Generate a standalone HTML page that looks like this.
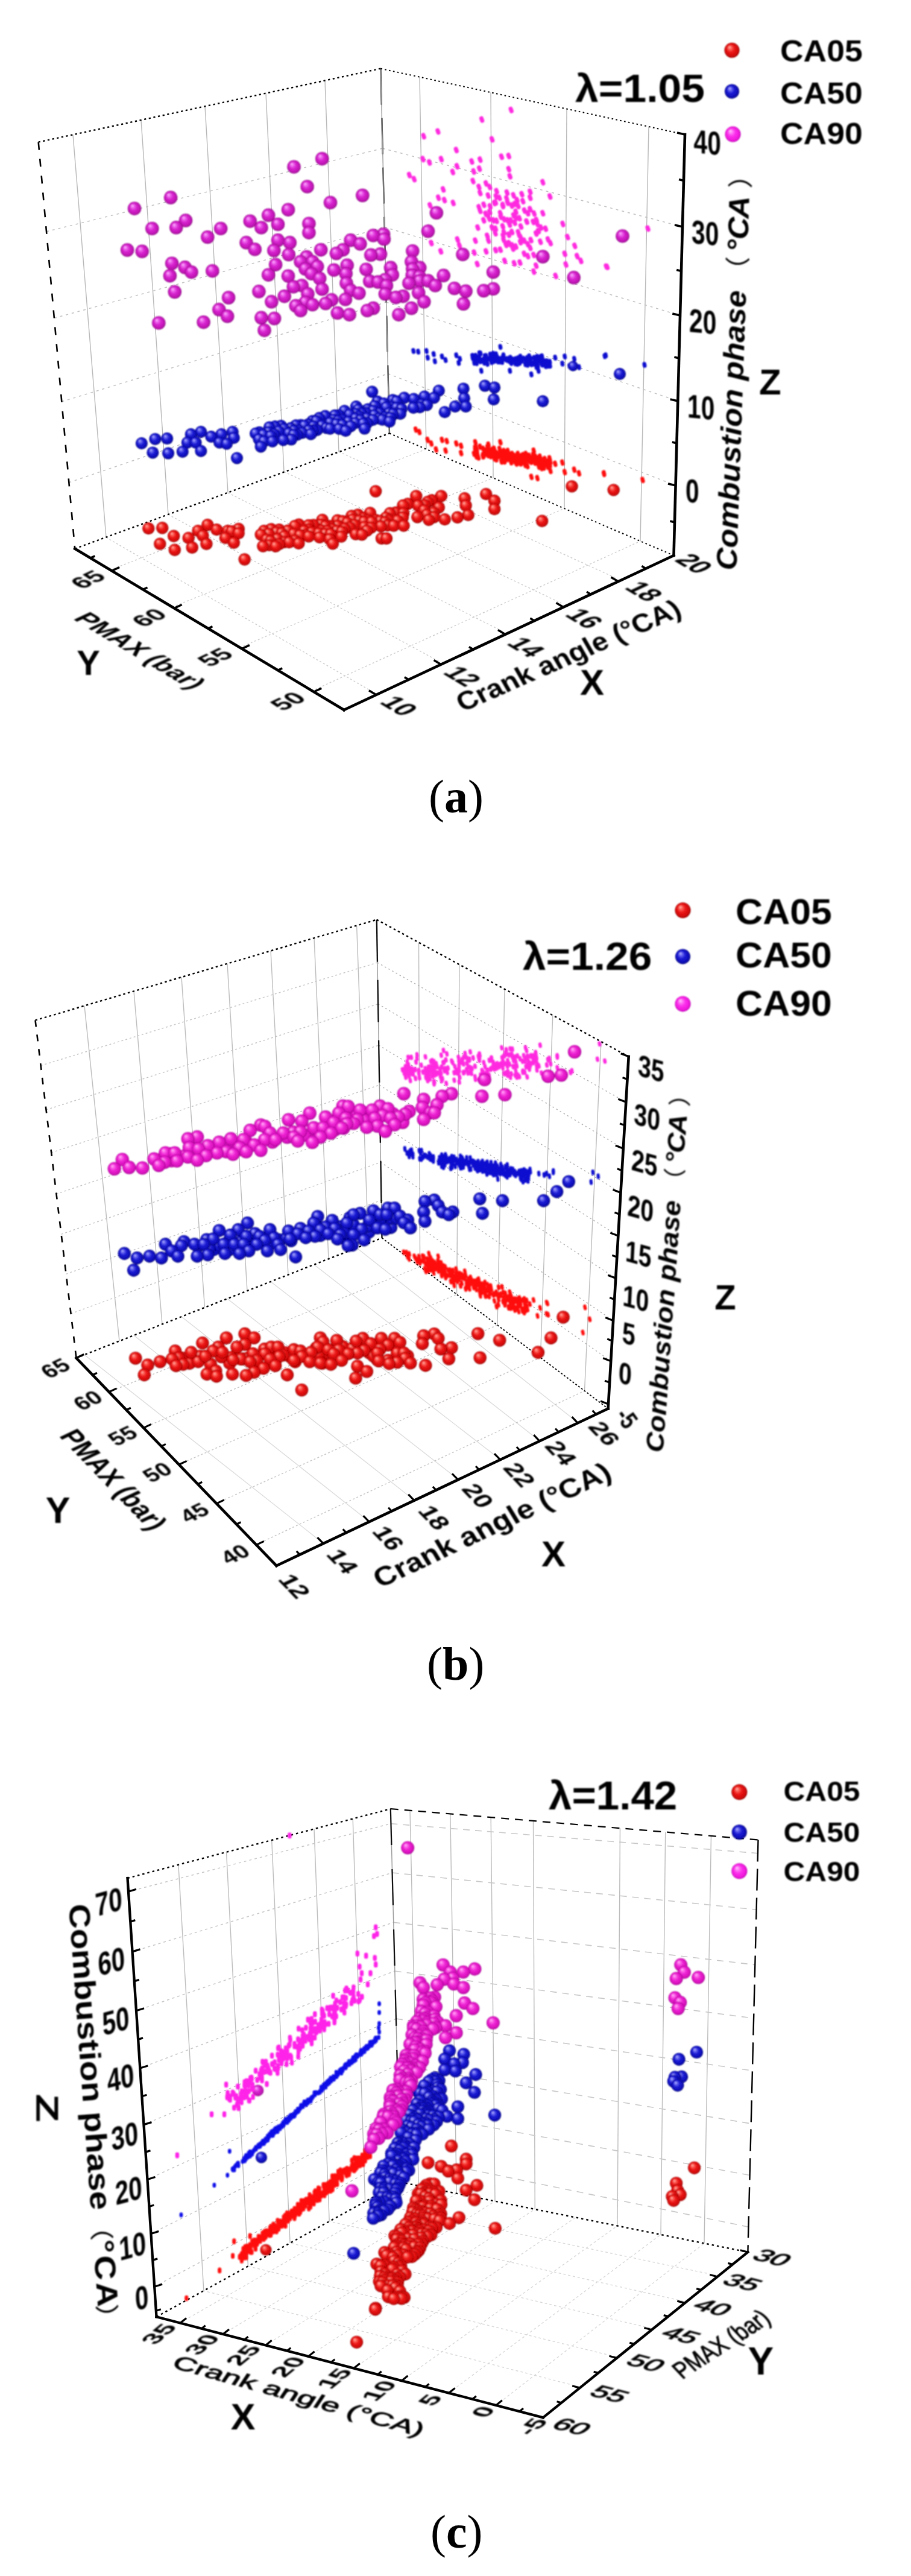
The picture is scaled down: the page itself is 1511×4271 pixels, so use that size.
<!DOCTYPE html>
<html><head><meta charset="utf-8"><title>Figure</title><style>html,body{margin:0;padding:0;background:#fff}svg{display:block}</style></head><body><svg width="1511" height="4271" viewBox="0 0 1511 4271"><defs>
<radialGradient id="gr" cx="0.5" cy="0.5" r="0.5" fx="0.33" fy="0.28"><stop offset="0" stop-color="#ffc4bc"/><stop offset="0.2" stop-color="#ff6a60"/><stop offset="0.5" stop-color="#ec1818"/><stop offset="0.85" stop-color="#d20808"/><stop offset="1" stop-color="#900000"/></radialGradient>
<radialGradient id="gb" cx="0.5" cy="0.5" r="0.5" fx="0.33" fy="0.28"><stop offset="0" stop-color="#c4c4ff"/><stop offset="0.2" stop-color="#6e6ef4"/><stop offset="0.5" stop-color="#1c1cd4"/><stop offset="0.85" stop-color="#0c0cb8"/><stop offset="1" stop-color="#000070"/></radialGradient>
<radialGradient id="gm" cx="0.5" cy="0.5" r="0.5" fx="0.33" fy="0.28"><stop offset="0" stop-color="#ffc4ff"/><stop offset="0.2" stop-color="#f070f0"/><stop offset="0.5" stop-color="#d824d0"/><stop offset="0.85" stop-color="#c014b4"/><stop offset="1" stop-color="#880880"/></radialGradient>
<radialGradient id="gm3" cx="0.5" cy="0.5" r="0.5" fx="0.33" fy="0.28"><stop offset="0" stop-color="#ffc4fc"/><stop offset="0.2" stop-color="#ff70ec"/><stop offset="0.5" stop-color="#ee24d4"/><stop offset="0.85" stop-color="#d810bc"/><stop offset="1" stop-color="#a00090"/></radialGradient>
<radialGradient id="gm2" cx="0.5" cy="0.5" r="0.5" fx="0.33" fy="0.28"><stop offset="0" stop-color="#ffd4ff"/><stop offset="0.2" stop-color="#ff84f8"/><stop offset="0.5" stop-color="#fc30ec"/><stop offset="0.85" stop-color="#f018dc"/><stop offset="1" stop-color="#b800b0"/></radialGradient>
<filter id="bl" x="-2%" y="-2%" width="104%" height="104%"><feGaussianBlur stdDeviation="1.0"/></filter>
<filter id="bl2" x="-2%" y="-2%" width="104%" height="104%"><feGaussianBlur stdDeviation="0.55"/></filter>
</defs><g id="pa"><g filter="url(#bl2)"><g stroke="#b8b8b8" stroke-width="1.4"><line x1="121" y1="223.3" x2="176" y2="890.7" /><line x1="234" y1="199" x2="279" y2="853" /><line x1="340" y1="176.3" x2="378" y2="816.7" /><line x1="441" y1="154.6" x2="471" y2="782.6" /><line x1="539" y1="133.6" x2="562" y2="749.3" /><line x1="696" y1="127.7" x2="707" y2="744.7" /><line x1="814" y1="153.3" x2="818" y2="792.4" /><line x1="940" y1="180.5" x2="936" y2="843.1" /><line x1="1076" y1="210" x2="1062" y2="897.2" /></g><g stroke="#c2c2c2" stroke-width="1.5" stroke-dasharray="4 6"><line x1="77" y1="384" x2="634.6" y2="246" /><line x1="634.6" y1="246" x2="1132" y2="376" /><line x1="89.9" y1="527.5" x2="637.7" y2="376.6" /><line x1="637.7" y1="376.6" x2="1128.3" y2="523" /><line x1="102.3" y1="666" x2="640.7" y2="501" /><line x1="640.7" y1="501" x2="1124.6" y2="665" /><line x1="114.3" y1="800" x2="643.6" y2="619.6" /><line x1="643.6" y1="619.6" x2="1121" y2="805" /></g><g stroke="#cccccc" stroke-width="1.4" stroke-dasharray="3 3.5"><line x1="176" y1="891" x2="623" y2="1150" /><line x1="279" y1="853" x2="729" y2="1097" /><line x1="378" y1="817" x2="836" y2="1048" /><line x1="471" y1="782" x2="931" y2="1000" /><line x1="562" y1="749" x2="1023" y2="959" /><line x1="187.5" y1="943" x2="707" y2="744.7" /><line x1="292" y1="1004" x2="818" y2="792.4" /><line x1="404" y1="1071" x2="936" y2="843.1" /><line x1="523" y1="1143" x2="1062" y2="897.2" /></g><line x1="631.4" y1="113.7" x2="646" y2="718.5" stroke="#111" stroke-width="2.3" stroke-dasharray="60 22"/><line x1="631.4" y1="113.7" x2="646" y2="718.5" stroke="#999" stroke-width="1.4"/><g stroke="#000" stroke-width="2.4" stroke-dasharray="3.2 4.6"><line x1="63.7" y1="235.6" x2="631.4" y2="113.7" /><line x1="124.2" y1="909.7" x2="646" y2="718.5" /></g><g stroke="#000" stroke-width="2" stroke-dasharray="2.6 4.4"><line x1="631.4" y1="113.7" x2="1136" y2="223" /><line x1="646" y1="718.5" x2="1117.5" y2="921" /></g><line x1="63.7" y1="235.6" x2="124.2" y2="909.7" stroke="#000" stroke-width="2.6" stroke-dasharray="13 15"/><g stroke="#000" stroke-width="4.6" stroke-linecap="square"><line x1="124.2" y1="909.7" x2="570.6" y2="1177" /><line x1="570.6" y1="1177" x2="1117.5" y2="921" /><line x1="1136" y1="223" x2="1117.5" y2="921" /></g><g stroke="#000" stroke-width="3.5"><line x1="185.5" y1="946.4" x2="198.2" y2="940.5" /><line x1="289.1" y1="1008.4" x2="301.7" y2="1002.5" /><line x1="401.2" y1="1075.6" x2="413.9" y2="1069.7" /><line x1="520.6" y1="1147" x2="533.3" y2="1141.1" /><line x1="237.3" y1="977.4" x2="244.5" y2="974" /><line x1="345.2" y1="1042" x2="352.4" y2="1038.6" /><line x1="460.9" y1="1111.3" x2="468.2" y2="1107.9" /><line x1="150.2" y1="925.2" x2="157.4" y2="921.8" /><line x1="623.9" y1="1152" x2="611.9" y2="1144.8" /><line x1="731.6" y1="1101.7" x2="719.6" y2="1094.5" /><line x1="838" y1="1051.8" x2="826" y2="1044.6" /><line x1="934.5" y1="1006.7" x2="922.5" y2="999.5" /><line x1="1025.4" y1="964.1" x2="1013.4" y2="956.9" /><line x1="677.8" y1="1126.8" x2="670.9" y2="1122.7" /><line x1="784.8" y1="1076.7" x2="777.9" y2="1072.6" /><line x1="886.2" y1="1029.2" x2="879.4" y2="1025.1" /><line x1="980" y1="985.4" x2="973.1" y2="981.3" /><line x1="1071.2" y1="942.7" x2="1064.4" y2="938.5" /><line x1="1136" y1="223" x2="1123" y2="220" /><line x1="1132" y1="376" x2="1119" y2="373" /><line x1="1128.3" y1="523" x2="1115.3" y2="520" /><line x1="1124.6" y1="665" x2="1111.6" y2="662" /><line x1="1121" y1="805" x2="1108" y2="802" /><line x1="1134" y1="299.5" x2="1126" y2="297.5" /><line x1="1130.2" y1="449.5" x2="1122.2" y2="447.5" /><line x1="1126.4" y1="594" x2="1118.4" y2="592" /><line x1="1122.8" y1="735" x2="1114.8" y2="733" /><line x1="1119.3" y1="866" x2="1111.3" y2="864" /></g></g><g filter="url(#bl)"><path d="M847 180.4l1.4 3.9M798.4 196.2l1.4 3.9M725.7 216l1.4 3.9M702 223.9l1.4 3.9M815.4 229.1l1.4 3.9M756.1 246.8l1.4 3.9M831.2 257.9l1.4 3.9M843.1 256.7l1.4 3.9M700.8 261.9l1.4 3.9M711.5 267.4l1.4 3.9M731.2 261.9l1.4 3.9M781.8 265.8l1.4 3.9M795.6 262.7l1.4 3.9M757.3 273.7l1.4 3.9M750.2 283.2l1.4 3.9M785 282.4l1.4 3.9M794.5 277.7l1.4 3.9M843.1 278.5l1.4 3.9M845.1 290.3l1.4 3.9M678.3 288.3l1.4 3.9M686.2 295.1l1.4 3.9M783.8 298.2l1.4 3.9M793.7 308.1l1.4 3.9M795.6 318l1.4 3.9M805.5 302.2l1.4 3.9M811.5 308.1l1.4 3.9M899.6 300.2l1.4 3.9M734.4 312.1l1.4 3.9M726.5 325.9l1.4 3.9M736.4 329.8l1.4 3.9M751 334.6l1.4 3.9M712.6 338.5l1.4 3.9M822.1 323.9l1.4 3.9M821.3 333.8l1.4 3.9M911.5 323.9l1.4 3.9M851 321.9l1.4 3.9M864.8 320l1.4 3.9M878.6 316l1.4 3.9M878.6 325.9l1.4 3.9M856.9 329.8l1.4 3.9M841.1 333.8l1.4 3.9M833.2 339.7l1.4 3.9M793.7 341.7l1.4 3.9M795.6 347.6l1.4 3.9M811.5 349.6l1.4 3.9M829.2 351.6l1.4 3.9M809.5 357.5l1.4 3.9M801.6 363.4l1.4 3.9M791.7 375.3l1.4 3.9M817.4 363.4l1.4 3.9M815.4 375.3l1.4 3.9M821.3 377.3l1.4 3.9M841.1 363.4l1.4 3.9M854.9 359.5l1.4 3.9M853 367.4l1.4 3.9M833.2 373.3l1.4 3.9M835.2 383.2l1.4 3.9M843.1 387.2l1.4 3.9M872.7 365.4l1.4 3.9M878.6 344.9l1.4 3.9M874.7 351.6l1.4 3.9M899.6 351.6l1.4 3.9M890.5 369.4l1.4 3.9M896.4 375.3l1.4 3.9M904.3 377.3l1.4 3.9M888.5 385.2l1.4 3.9M858.9 383.2l1.4 3.9M862.8 391.1l1.4 3.9M868.8 397l1.4 3.9M874.7 403l1.4 3.9M878.6 408.9l1.4 3.9M843.1 401l1.4 3.9M849 404.9l1.4 3.9M854.9 406.9l1.4 3.9M807.5 389.1l1.4 3.9M809.5 397l1.4 3.9M787.7 397l1.4 3.9M758.1 395.1l1.4 3.9M761.3 404.9l1.4 3.9M714.6 401l1.4 3.9M730.4 414.8l1.4 3.9M785.8 416.8l1.4 3.9M805.5 414.8l1.4 3.9M821.3 412.8l1.4 3.9M829.2 412.1l1.4 3.9M868.8 418.8l1.4 3.9M874.7 422.7l1.4 3.9M884.6 420.8l1.4 3.9M888.5 438.5l1.4 3.9M884.6 448.4l1.4 3.9M908.3 395.1l1.4 3.9M912.2 401l1.4 3.9M932.8 369.4l1.4 3.9M940.7 391.1l1.4 3.9M952.6 405.7l1.4 3.9M936 418.8l1.4 3.9M956.5 422.7l1.4 3.9M962.8 430.6l1.4 3.9M937.9 436.6l1.4 3.9M920.9 455.5l1.4 3.9M1006.3 440.5l1.4 3.9M836.4 430.6l1.4 3.9M852.2 434.6l1.4 3.9M861.7 433.4l1.4 3.9M790.9 435.8l1.4 3.9M1073.9 377l1.4 3.9M1004.9 440l1.4 3.9M860.3 387.9l1.4 3.9M854.9 349.2l1.4 3.9M895.6 398.9l1.4 3.9M869.2 347.2l1.4 3.9M873.1 365.5l1.4 3.9M841.6 334.3l1.4 3.9M809 322.4l1.4 3.9M834.8 396l1.4 3.9M860.8 359.9l1.4 3.9M879.9 396.1l1.4 3.9M833.5 337.9l1.4 3.9M823 315l1.4 3.9M810.9 360.7l1.4 3.9M885.2 352l1.4 3.9M858.7 339.5l1.4 3.9M822.8 364.2l1.4 3.9M804.9 352.7l1.4 3.9M844.5 370.4l1.4 3.9M863.3 373.6l1.4 3.9M829.9 357.6l1.4 3.9M838.6 404l1.4 3.9M812.1 340.2l1.4 3.9M883.7 366l1.4 3.9M889.1 362.9l1.4 3.9M839.6 327l1.4 3.9M892.3 381.1l1.4 3.9M853.7 336l1.4 3.9M844.6 402.5l1.4 3.9M866.6 331.6l1.4 3.9M827.6 326l1.4 3.9M846.5 363.6l1.4 3.9M850 410.2l1.4 3.9M848 338.9l1.4 3.9M835.3 361.5l1.4 3.9M833.7 389l1.4 3.9M801.8 337.5l1.4 3.9M820.8 384.7l1.4 3.9M848.4 382.7l1.4 3.9M840.2 317.4l1.4 3.9M862.4 399.6l1.4 3.9M819.2 334.7l1.4 3.9M851.2 355.3l1.4 3.9" stroke="#ff2ce0" stroke-width="7" stroke-linecap="round" fill="none"/><path d="M803.6 596.3l0.6 3.5M844.7 595.1l0.6 3.5M887.6 597.3l0.6 3.5M813.3 587.3l0.6 3.5M858.6 594.4l0.6 3.5M812.9 586.2l0.6 3.5M912 604.5l0.6 3.5M862.9 589.6l0.6 3.5M847.1 595.8l0.6 3.5M830.3 594.1l0.6 3.5M798.3 596.6l0.6 3.5M854.3 593.8l0.6 3.5M806.6 592.2l0.6 3.5M812.9 593.4l0.6 3.5M908.3 604.6l0.6 3.5M881.6 599.9l0.6 3.5M798 595.8l0.6 3.5M808.1 601.4l0.6 3.5M835.7 592.8l0.6 3.5M832.4 598.3l0.6 3.5M785.8 590.3l0.6 3.5M911.7 598.2l0.6 3.5M854 595.2l0.6 3.5M861.6 597.7l0.6 3.5M806 588.4l0.6 3.5M903.2 597.3l0.6 3.5M822.6 585.7l0.6 3.5M888.3 598.7l0.6 3.5M871.1 602.1l0.6 3.5M907 602l0.6 3.5M907.4 602.8l0.6 3.5M846.4 591.4l0.6 3.5M896.9 589.9l0.6 3.5M887.1 599.7l0.6 3.5M891.7 590.4l0.6 3.5M820.2 589.8l0.6 3.5M791.2 594.8l0.6 3.5M910.4 600.5l0.6 3.5M814.9 598.5l0.6 3.5M877.6 589l0.6 3.5M891.2 604.1l0.6 3.5M860.7 595.9l0.6 3.5M893.1 595.8l0.6 3.5M818.3 591.6l0.6 3.5M871.6 596.1l0.6 3.5M859.4 600.7l0.6 3.5M858.6 592.3l0.6 3.5M907.2 598.5l0.6 3.5M795 583.8l0.6 3.5M840.5 594.9l0.6 3.5M867.9 592.8l0.6 3.5M824.7 591.2l0.6 3.5M804.1 588.7l0.6 3.5M875 592.5l0.6 3.5M874.6 603l0.6 3.5M885.6 591.7l0.6 3.5M790.5 591.8l0.6 3.5M875 596l0.6 3.5M823.4 588.3l0.6 3.5M822.5 595.9l0.6 3.5M847.6 600.2l0.6 3.5M795 593.7l0.6 3.5M877.9 599.4l0.6 3.5M873.4 597.3l0.6 3.5M790.1 600.3l0.6 3.5M828.4 597.4l0.6 3.5M796.7 584.2l0.6 3.5M888.3 599.2l0.6 3.5M863.4 592.6l0.6 3.5M840 593.9l0.6 3.5M834.9 587.3l0.6 3.5M838.8 594.3l0.6 3.5M888.7 599l0.6 3.5M813.1 592.2l0.6 3.5M864.6 596.5l0.6 3.5M844.7 597.1l0.6 3.5M898.2 601.7l0.6 3.5M880.9 602.1l0.6 3.5M873.4 595.7l0.6 3.5M901.8 597.8l0.6 3.5M889.3 606.8l0.6 3.5M783.2 588.3l0.6 3.5M833.4 591.5l0.6 3.5M792.5 595l0.6 3.5M879.3 592.4l0.6 3.5M907 597.2l0.6 3.5M825.8 597.4l0.6 3.5M816.1 596.4l0.6 3.5M815.4 593.6l0.6 3.5M871.2 594.3l0.6 3.5M818.2 597l0.6 3.5M843.1 595.5l0.6 3.5M819 589.4l0.6 3.5M817.7 595.2l0.6 3.5M786.3 599.7l0.6 3.5M874.4 591.7l0.6 3.5M787.2 595.3l0.6 3.5M813.8 589.1l0.6 3.5M794.7 590.3l0.6 3.5M899.1 592.7l0.6 3.5M885.3 600.5l0.6 3.5M788.8 588.2l0.6 3.5M854.2 595.8l0.6 3.5M891.8 605.4l0.6 3.5M784.7 588.8l0.6 3.5M899.3 602.8l0.6 3.5M806.8 592l0.6 3.5M861.3 596.8l0.6 3.5M886.8 593.2l0.6 3.5M828.3 593.5l0.6 3.5M898.7 589l0.6 3.5M849 593.9l0.6 3.5M817.9 584.7l0.6 3.5M846.6 598.5l0.6 3.5M802.8 593.4l0.6 3.5M852.4 596.4l0.6 3.5M877.3 592.7l0.6 3.5M890.5 589.8l0.6 3.5M828.1 595.9l0.6 3.5M804.8 595.2l0.6 3.5M803 599.6l0.6 3.5M900.5 596.7l0.6 3.5M883.4 601.3l0.6 3.5M900.5 601.4l0.6 3.5M904.7 605.3l0.6 3.5M783.7 591.7l0.6 3.5M861.2 599.9l0.6 3.5M803.1 597.7l0.6 3.5M897.1 599.6l0.6 3.5M854.3 600.7l0.6 3.5M897.6 592.1l0.6 3.5M835.3 591.8l0.6 3.5M888.8 592.1l0.6 3.5M785.7 592.2l0.6 3.5M785.7 591l0.6 3.5M796 597.2l0.6 3.5M899.1 594.1l0.6 3.5M813.5 594.2l0.6 3.5M882.6 600.9l0.6 3.5M815.3 591.7l0.6 3.5M846.2 593.2l0.6 3.5M842.1 593.5l0.6 3.5M858.4 601.1l0.6 3.5M877.4 600.3l0.6 3.5M833.7 591.2l0.6 3.5M857.8 601.4l0.6 3.5M807.9 592.9l0.6 3.5M888.4 592.5l0.6 3.5M830.4 597.6l0.6 3.5M842.4 595.1l0.6 3.5M685.4 580.2l0.6 3.5M693.3 581.3l0.6 3.5M707.1 580.2l0.6 3.5M709.1 591.2l0.6 3.5M719 585.3l0.6 3.5M721 597.2l0.6 3.5M732.8 589.3l0.6 3.5M738.7 595.2l0.6 3.5M756.5 587.3l0.6 3.5M762.5 593.2l0.6 3.5M760.5 599.9l0.6 3.5M920.6 591.2l0.6 3.5M936.4 589.3l0.6 3.5M932.4 601.1l0.6 3.5M952.2 593.2l0.6 3.5M944.3 605.1l0.6 3.5M960.1 607l0.6 3.5M1004.4 587.3l0.6 3.5M798 613l0.6 3.5M845.5 613l0.6 3.5M881 618.9l0.6 3.5M892.9 613l0.6 3.5M829.6 573.4l0.6 3.5M1068.7 603.2l0.6 3.5M1002.7 588.7l0.6 3.5" stroke="#1010d0" stroke-width="6.4" stroke-linecap="round" fill="none"/><path d="M835.3 745.7l1.1 4.3M901 767l1.1 4.3M855.6 757.8l1.1 4.3M858 762.1l1.1 4.3M892.8 757.5l1.1 4.3M805.1 746.8l1.1 4.3M869.3 754.7l1.1 4.3M885.3 760l1.1 4.3M892.4 761.6l1.1 4.3M878.9 757.7l1.1 4.3M800.4 754.7l1.1 4.3M911.1 757.7l1.1 4.3M864.7 755.3l1.1 4.3M897.9 765l1.1 4.3M804.2 748.9l1.1 4.3M870 757.3l1.1 4.3M789.4 740.7l1.1 4.3M877.7 762l1.1 4.3M853.2 762.5l1.1 4.3M828.2 742.2l1.1 4.3M789.5 754.6l1.1 4.3M881.4 757.7l1.1 4.3M801 754.1l1.1 4.3M880.7 760.8l1.1 4.3M892.8 764.9l1.1 4.3M840.4 758.9l1.1 4.3M837 758.4l1.1 4.3M821 749.5l1.1 4.3M820.5 753.4l1.1 4.3M902.4 767.2l1.1 4.3M881 759.8l1.1 4.3M808.2 739.1l1.1 4.3M871.6 750.5l1.1 4.3M858.6 750.6l1.1 4.3M815.2 747.3l1.1 4.3M911.5 769.2l1.1 4.3M854.9 761.9l1.1 4.3M899.2 761.6l1.1 4.3M859.4 764l1.1 4.3M851.1 753.5l1.1 4.3M878.2 758.3l1.1 4.3M850.5 754.9l1.1 4.3M870.5 768.8l1.1 4.3M824.8 751.4l1.1 4.3M862 765.9l1.1 4.3M821.5 749.5l1.1 4.3M886.9 760.6l1.1 4.3M849.5 753.3l1.1 4.3M809.9 743.4l1.1 4.3M847.1 764.3l1.1 4.3M791.7 752.6l1.1 4.3M875.9 757.1l1.1 4.3M810.4 750.5l1.1 4.3M832.2 753l1.1 4.3M813.2 754.2l1.1 4.3M804.3 750.3l1.1 4.3M789.2 746.7l1.1 4.3M788 751.4l1.1 4.3M835.3 749.6l1.1 4.3M859.7 759.2l1.1 4.3M857.9 755.6l1.1 4.3M808.3 751.6l1.1 4.3M886.9 765l1.1 4.3M877.2 753.7l1.1 4.3M792.8 756.3l1.1 4.3M870.4 760.3l1.1 4.3M887.5 754.9l1.1 4.3M830.2 752.7l1.1 4.3M806.2 747.5l1.1 4.3M825.4 754.1l1.1 4.3M891.6 763.4l1.1 4.3M908 771.8l1.1 4.3M897.6 773.9l1.1 4.3M819.5 758.1l1.1 4.3M829.5 752.9l1.1 4.3M844.9 759.7l1.1 4.3M847.2 754.2l1.1 4.3M853.3 755.5l1.1 4.3M900.1 764.3l1.1 4.3M881.8 757.2l1.1 4.3M870.9 753.2l1.1 4.3M895.1 755l1.1 4.3M892.3 766l1.1 4.3M836.6 756.9l1.1 4.3M787.7 743.9l1.1 4.3M902.7 768.4l1.1 4.3M843.4 750.6l1.1 4.3M812.2 745.2l1.1 4.3M808.7 742.8l1.1 4.3M856 766.4l1.1 4.3M863.2 766.2l1.1 4.3M867 752.6l1.1 4.3M897.5 771.7l1.1 4.3M871.6 768.3l1.1 4.3M909.3 762.5l1.1 4.3M905.7 764.7l1.1 4.3M841.8 745.6l1.1 4.3M864.7 754.2l1.1 4.3M901.2 773.1l1.1 4.3M854.2 754.4l1.1 4.3M831.1 763l1.1 4.3M899.5 763.9l1.1 4.3M873.8 752.9l1.1 4.3M911.4 759.8l1.1 4.3M848.9 750.6l1.1 4.3M806.3 747.3l1.1 4.3M887.2 762.2l1.1 4.3M886.9 763l1.1 4.3M911.4 759.3l1.1 4.3M787.7 740.2l1.1 4.3M854.8 764.9l1.1 4.3M867.7 759.3l1.1 4.3M831.9 753.7l1.1 4.3M822.4 759.4l1.1 4.3M809.5 748.9l1.1 4.3M819.1 741.9l1.1 4.3M850.8 752.7l1.1 4.3M847.1 751.7l1.1 4.3M884 751.8l1.1 4.3M842.9 751.4l1.1 4.3M893.2 771.7l1.1 4.3M903.2 758.9l1.1 4.3M800.9 742l1.1 4.3M815.7 753.2l1.1 4.3M850.3 760.7l1.1 4.3M880.1 763.5l1.1 4.3M902.6 765.2l1.1 4.3M815.8 744.2l1.1 4.3M837.1 754.4l1.1 4.3M788.7 741.7l1.1 4.3M836 762.9l1.1 4.3M835.2 760.4l1.1 4.3M822.9 749l1.1 4.3M891.4 764.6l1.1 4.3M808.8 752.5l1.1 4.3M789.9 747.7l1.1 4.3M837.7 747.7l1.1 4.3M854.5 754.8l1.1 4.3M904.4 765.7l1.1 4.3M842.4 754.3l1.1 4.3M847.2 753.2l1.1 4.3M805.2 744.8l1.1 4.3M886.6 764.8l1.1 4.3M790.3 743.6l1.1 4.3M829.2 747.5l1.1 4.3M815.4 745.5l1.1 4.3M789.3 743.6l1.1 4.3M888.1 763.6l1.1 4.3M785.8 750.3l1.1 4.3M865.7 763.9l1.1 4.3M836.7 748.9l1.1 4.3M865.5 755.6l1.1 4.3M863.6 756.1l1.1 4.3M874.2 770.7l1.1 4.3M882.8 759.9l1.1 4.3M808.3 748.8l1.1 4.3M789 739.2l1.1 4.3M906 766.9l1.1 4.3M895.6 764.9l1.1 4.3M800.9 752.2l1.1 4.3M816.8 743.3l1.1 4.3M790.5 746.6l1.1 4.3M912.3 763.8l1.1 4.3M819.1 749.7l1.1 4.3M874.3 759.7l1.1 4.3M873 760.3l1.1 4.3M894.7 771l1.1 4.3M809.2 749.9l1.1 4.3M906.3 764.4l1.1 4.3M795.8 738.5l1.1 4.3M689.1 710.2l1.1 4.3M695 714.2l1.1 4.3M708.8 727.2l1.1 4.3M714.8 733.2l1.1 4.3M722.7 743.1l1.1 4.3M732.6 727.2l1.1 4.3M740.5 729.2l1.1 4.3M738.5 745l1.1 4.3M756.3 733.2l1.1 4.3M764.2 737.1l1.1 4.3M764.2 749l1.1 4.3M787.9 731.2l1.1 4.3M809.6 735.1l1.1 4.3M829.4 731.2l1.1 4.3M884.7 745l1.1 4.3M920.3 766.8l1.1 4.3M932.2 764.8l1.1 4.3M936.1 780.6l1.1 4.3M951.9 776.6l1.1 4.3M959.8 782.6l1.1 4.3M1001.3 782.6l1.1 4.3M880.8 788.5l1.1 4.3M890.7 790.5l1.1 4.3M912.4 778.6l1.1 4.3M1065.4 793.7l1.1 4.3M1001.1 783.6l1.1 4.3" stroke="#ff1010" stroke-width="6.4" stroke-linecap="round" fill="none"/><g fill="url(#gm)"><circle cx="534.2" cy="263.2" r="11.2"/><circle cx="487.5" cy="276.6" r="11.2"/><circle cx="509.6" cy="309.4" r="11.2"/><circle cx="601.3" cy="324" r="11.2"/><circle cx="283.1" cy="327.5" r="11.2"/><circle cx="548" cy="335.9" r="11.2"/><circle cx="223" cy="345.7" r="11.2"/><circle cx="478" cy="347.7" r="11.2"/><circle cx="723.9" cy="352.9" r="11.2"/><circle cx="445.2" cy="356.8" r="11.2"/><circle cx="308" cy="365.5" r="11.2"/><circle cx="414.8" cy="366.7" r="11.2"/><circle cx="512.4" cy="370.7" r="11.2"/><circle cx="461" cy="371.9" r="11.2"/><circle cx="292.2" cy="377.3" r="11.2"/><circle cx="433.4" cy="377.4" r="11.2"/><circle cx="252.3" cy="378.9" r="11.2"/><circle cx="366.1" cy="378.9" r="11.2"/><circle cx="710" cy="383.3" r="11.2"/><circle cx="512.4" cy="385.7" r="11.2"/><circle cx="636.1" cy="388.5" r="11.2"/><circle cx="619.1" cy="390.4" r="11.2"/><circle cx="1032.5" cy="391.4" r="11.2"/><circle cx="344.3" cy="393.1" r="11.2"/><circle cx="636.9" cy="396.4" r="11.2"/><circle cx="461" cy="398.3" r="11.2"/><circle cx="581.6" cy="398.3" r="11.2"/><circle cx="408.5" cy="402.3" r="11.2"/><circle cx="480.8" cy="402.3" r="11.2"/><circle cx="597.4" cy="404.3" r="11.2"/><circle cx="422.7" cy="413.4" r="11.2"/><circle cx="532.2" cy="414.2" r="11.2"/><circle cx="568.9" cy="414.2" r="11.2"/><circle cx="211.1" cy="414.5" r="11.2"/><circle cx="454.3" cy="415.3" r="11.2"/><circle cx="684.3" cy="416.1" r="11.2"/><circle cx="235.7" cy="416.8" r="11.2"/><circle cx="557.9" cy="420.1" r="11.2"/><circle cx="631" cy="421.3" r="11.2"/><circle cx="767.5" cy="421.9" r="11.2"/><circle cx="478.8" cy="422.1" r="11.2"/><circle cx="615.2" cy="422.8" r="11.2"/><circle cx="900.3" cy="425.5" r="11.2"/><circle cx="508.5" cy="426" r="11.2"/><circle cx="498.6" cy="433.9" r="11.2"/><circle cx="518.3" cy="433.9" r="11.2"/><circle cx="682.4" cy="433.9" r="11.2"/><circle cx="285.1" cy="436.6" r="11.2"/><circle cx="457.1" cy="438.7" r="11.2"/><circle cx="575.7" cy="439.8" r="11.2"/><circle cx="526.2" cy="441.8" r="11.2"/><circle cx="306.8" cy="443.3" r="11.2"/><circle cx="648" cy="443.8" r="11.2"/><circle cx="696.2" cy="443.8" r="11.2"/><circle cx="506.5" cy="445.8" r="11.2"/><circle cx="684.3" cy="445.8" r="11.2"/><circle cx="607.3" cy="446.6" r="11.2"/><circle cx="553.9" cy="447.7" r="11.2"/><circle cx="352.3" cy="449.2" r="11.2"/><circle cx="818.1" cy="451.2" r="11.2"/><circle cx="317.5" cy="451.2" r="11.2"/><circle cx="516.4" cy="453.7" r="11.2"/><circle cx="573.7" cy="453.7" r="11.2"/><circle cx="445.2" cy="455.7" r="11.2"/><circle cx="650.8" cy="455.7" r="11.2"/><circle cx="683.7" cy="456.3" r="11.2"/><circle cx="735.7" cy="456.8" r="11.2"/><circle cx="281.9" cy="457.2" r="11.2"/><circle cx="478" cy="457.6" r="11.2"/><circle cx="695.6" cy="458.3" r="11.2"/><circle cx="951.7" cy="460.3" r="11.2"/><circle cx="530.2" cy="461.6" r="11.2"/><circle cx="638.9" cy="463.6" r="11.2"/><circle cx="696.2" cy="465.5" r="11.2"/><circle cx="710" cy="465.5" r="11.2"/><circle cx="613.2" cy="466.3" r="11.2"/><circle cx="627" cy="467.5" r="11.2"/><circle cx="574.5" cy="469.5" r="11.2"/><circle cx="678.4" cy="469.5" r="11.2"/><circle cx="500.6" cy="473.4" r="11.2"/><circle cx="640.9" cy="473.4" r="11.2"/><circle cx="721.9" cy="473.4" r="11.2"/><circle cx="486.7" cy="475.4" r="11.2"/><circle cx="753.7" cy="478.1" r="11.2"/><circle cx="818.1" cy="478.9" r="11.2"/><circle cx="534.2" cy="479.4" r="11.2"/><circle cx="581.6" cy="481.3" r="11.2"/><circle cx="802.3" cy="482" r="11.2"/><circle cx="772.6" cy="482.8" r="11.2"/><circle cx="429.4" cy="483.3" r="11.2"/><circle cx="289.8" cy="484" r="11.2"/><circle cx="694.2" cy="485.3" r="11.2"/><circle cx="595.4" cy="486.1" r="11.2"/><circle cx="510.4" cy="487.3" r="11.2"/><circle cx="638.9" cy="487.3" r="11.2"/><circle cx="471.7" cy="491.2" r="11.2"/><circle cx="668.5" cy="491.2" r="11.2"/><circle cx="656.7" cy="493.2" r="11.2"/><circle cx="379.1" cy="493.5" r="11.2"/><circle cx="572.9" cy="496.4" r="11.2"/><circle cx="550" cy="497.2" r="11.2"/><circle cx="450.4" cy="500.3" r="11.2"/><circle cx="703.3" cy="500.3" r="11.2"/><circle cx="506.5" cy="501.1" r="11.2"/><circle cx="540.1" cy="503.1" r="11.2"/><circle cx="768.7" cy="503.8" r="11.2"/><circle cx="518.3" cy="505.1" r="11.2"/><circle cx="490.7" cy="507" r="11.2"/><circle cx="619.1" cy="511" r="11.2"/><circle cx="682.4" cy="511" r="11.2"/><circle cx="363.3" cy="513.3" r="11.2"/><circle cx="498.6" cy="514.9" r="11.2"/><circle cx="609.2" cy="514.9" r="11.2"/><circle cx="559.8" cy="518.9" r="11.2"/><circle cx="579.6" cy="521.7" r="11.2"/><circle cx="661.4" cy="521.7" r="11.2"/><circle cx="377.2" cy="524.3" r="11.2"/><circle cx="433.4" cy="526.8" r="11.2"/><circle cx="455.1" cy="528" r="11.2"/><circle cx="337.6" cy="534.2" r="11.2"/><circle cx="263.3" cy="535.4" r="11.2"/><circle cx="438.5" cy="547.7" r="11.2"/></g><g fill="url(#gb)"><circle cx="950.5" cy="607" r="8.5"/></g><g fill="url(#gb)"><circle cx="1028" cy="620" r="10"/><circle cx="804.3" cy="639.6" r="10"/><circle cx="820.1" cy="642.4" r="10"/><circle cx="768.7" cy="644.4" r="10"/><circle cx="727.8" cy="647.7" r="10"/><circle cx="617.2" cy="649.6" r="10"/><circle cx="704.1" cy="657.5" r="10"/><circle cx="670.5" cy="659.5" r="10"/><circle cx="719.9" cy="659.5" r="10"/><circle cx="769.9" cy="660.2" r="10"/><circle cx="686.3" cy="661.5" r="10"/><circle cx="818.9" cy="662.2" r="10"/><circle cx="651.5" cy="663.3" r="10"/><circle cx="900.3" cy="665.3" r="10"/><circle cx="657.7" cy="665.3" r="10"/><circle cx="626.2" cy="665.7" r="10"/><circle cx="636.6" cy="668.9" r="10"/><circle cx="699.5" cy="670.1" r="10"/><circle cx="708.1" cy="671.4" r="10"/><circle cx="621.5" cy="673" r="10"/><circle cx="754.9" cy="674" r="10"/><circle cx="772.6" cy="674" r="10"/><circle cx="590.8" cy="674.1" r="10"/><circle cx="650" cy="674.6" r="10"/><circle cx="696.2" cy="675.3" r="10"/><circle cx="640.8" cy="675.3" r="10"/><circle cx="657.7" cy="675.9" r="10"/><circle cx="685.7" cy="676" r="10"/><circle cx="665.9" cy="678" r="10"/><circle cx="610.3" cy="678.4" r="10"/><circle cx="594.4" cy="679.1" r="10"/><circle cx="619" cy="681" r="10"/><circle cx="571.5" cy="681.3" r="10"/><circle cx="737.7" cy="683.2" r="10"/><circle cx="607.2" cy="684.2" r="10"/><circle cx="645.5" cy="684.8" r="10"/><circle cx="657.8" cy="684.9" r="10"/><circle cx="629.6" cy="685.2" r="10"/><circle cx="599.8" cy="685.2" r="10"/><circle cx="590.3" cy="685.7" r="10"/><circle cx="664" cy="685.9" r="10"/><circle cx="651.8" cy="686.4" r="10"/><circle cx="579.8" cy="687.4" r="10"/><circle cx="621.1" cy="688.3" r="10"/><circle cx="562" cy="688.4" r="10"/><circle cx="555.4" cy="688.8" r="10"/><circle cx="539.4" cy="689.8" r="10"/><circle cx="595.3" cy="690.4" r="10"/><circle cx="638.6" cy="691.6" r="10"/><circle cx="647.7" cy="692.5" r="10"/><circle cx="529.6" cy="693" r="10"/><circle cx="608.9" cy="693.2" r="10"/><circle cx="628.5" cy="693.7" r="10"/><circle cx="589.8" cy="693.7" r="10"/><circle cx="553.7" cy="695.7" r="10"/><circle cx="634.2" cy="695.8" r="10"/><circle cx="567.6" cy="695.8" r="10"/><circle cx="618.5" cy="695.9" r="10"/><circle cx="598" cy="696.5" r="10"/><circle cx="560.8" cy="697.7" r="10"/><circle cx="518.5" cy="697.9" r="10"/><circle cx="524.6" cy="698.1" r="10"/><circle cx="646.1" cy="698.9" r="10"/><circle cx="578.1" cy="699.2" r="10"/><circle cx="547.7" cy="700.8" r="10"/><circle cx="609.1" cy="701" r="10"/><circle cx="589.7" cy="701.2" r="10"/><circle cx="602.6" cy="702.2" r="10"/><circle cx="558.1" cy="703.1" r="10"/><circle cx="512" cy="703.3" r="10"/><circle cx="568" cy="704.4" r="10"/><circle cx="498.9" cy="704.7" r="10"/><circle cx="490.9" cy="705.3" r="10"/><circle cx="505" cy="705.7" r="10"/><circle cx="533.8" cy="705.8" r="10"/><circle cx="466.2" cy="706" r="10"/><circle cx="581.9" cy="706.4" r="10"/><circle cx="520" cy="706.9" r="10"/><circle cx="456" cy="707.1" r="10"/><circle cx="446.9" cy="708.4" r="10"/><circle cx="541.4" cy="709.5" r="10"/><circle cx="482.4" cy="709.8" r="10"/><circle cx="604.7" cy="710.6" r="10"/><circle cx="547.4" cy="710.8" r="10"/><circle cx="562.6" cy="711" r="10"/><circle cx="471" cy="711.1" r="10"/><circle cx="525.9" cy="712.9" r="10"/><circle cx="494.9" cy="713.3" r="10"/><circle cx="519.1" cy="713.3" r="10"/><circle cx="512" cy="713.6" r="10"/><circle cx="487.4" cy="714.1" r="10"/><circle cx="573.3" cy="714.2" r="10"/><circle cx="462.4" cy="714.9" r="10"/><circle cx="333.3" cy="716" r="10"/><circle cx="385.8" cy="716" r="10"/><circle cx="445.6" cy="716.5" r="10"/><circle cx="430.1" cy="716.7" r="10"/><circle cx="501.5" cy="717.5" r="10"/><circle cx="479" cy="718.3" r="10"/><circle cx="424.1" cy="718.7" r="10"/><circle cx="454.6" cy="719.6" r="10"/><circle cx="515.6" cy="719.7" r="10"/><circle cx="316.7" cy="720" r="10"/><circle cx="367.3" cy="720" r="10"/><circle cx="493.3" cy="720.5" r="10"/><circle cx="436.8" cy="720.7" r="10"/><circle cx="487" cy="720.9" r="10"/><circle cx="449.2" cy="723" r="10"/><circle cx="350.3" cy="724" r="10"/><circle cx="387.8" cy="725.9" r="10"/><circle cx="277.2" cy="727.1" r="10"/><circle cx="257.4" cy="727.9" r="10"/><circle cx="429.5" cy="728.2" r="10"/><circle cx="483.1" cy="728.6" r="10"/><circle cx="469.9" cy="729.4" r="10"/><circle cx="437.7" cy="731.7" r="10"/><circle cx="451.8" cy="731.8" r="10"/><circle cx="310.8" cy="733.8" r="10"/><circle cx="324.6" cy="733.8" r="10"/><circle cx="364.1" cy="733.8" r="10"/><circle cx="234.9" cy="735" r="10"/><circle cx="376" cy="735.8" r="10"/><circle cx="432.6" cy="740.5" r="10"/><circle cx="333.3" cy="747.7" r="10"/><circle cx="302.8" cy="748.9" r="10"/><circle cx="253.4" cy="750.4" r="10"/><circle cx="279.1" cy="751.6" r="10"/><circle cx="393" cy="759.5" r="10"/></g><g fill="url(#gr)"><circle cx="948.5" cy="806.4" r="10.2"/><circle cx="1017.7" cy="812.4" r="10.2"/><circle cx="623.1" cy="814.5" r="10.2"/><circle cx="806.2" cy="819.1" r="10.2"/><circle cx="690.3" cy="822.4" r="10.2"/><circle cx="731.8" cy="822.4" r="10.2"/><circle cx="770.7" cy="826.2" r="10.2"/><circle cx="716" cy="829.5" r="10.2"/><circle cx="820.1" cy="830.2" r="10.2"/><circle cx="709.4" cy="832.1" r="10.2"/><circle cx="676.4" cy="835.4" r="10.2"/><circle cx="704.1" cy="837.4" r="10.2"/><circle cx="668.6" cy="837.9" r="10.2"/><circle cx="772.6" cy="838.1" r="10.2"/><circle cx="693.6" cy="838.1" r="10.2"/><circle cx="727.8" cy="841.3" r="10.2"/><circle cx="820.1" cy="844" r="10.2"/><circle cx="703.5" cy="846" r="10.2"/><circle cx="656.6" cy="849.8" r="10.2"/><circle cx="719.3" cy="849.9" r="10.2"/><circle cx="613.9" cy="850.4" r="10.2"/><circle cx="646.8" cy="851" r="10.2"/><circle cx="669" cy="851" r="10.2"/><circle cx="708.1" cy="853.2" r="10.2"/><circle cx="593.7" cy="853.5" r="10.2"/><circle cx="776.6" cy="853.9" r="10.2"/><circle cx="583.4" cy="855.5" r="10.2"/><circle cx="719.9" cy="857.2" r="10.2"/><circle cx="692.3" cy="857.2" r="10.2"/><circle cx="667.9" cy="857.8" r="10.2"/><circle cx="758.8" cy="857.8" r="10.2"/><circle cx="640.3" cy="858.1" r="10.2"/><circle cx="602.9" cy="859" r="10.2"/><circle cx="737.7" cy="861.1" r="10.2"/><circle cx="584.8" cy="861.4" r="10.2"/><circle cx="711.4" cy="861.8" r="10.2"/><circle cx="534.7" cy="861.9" r="10.2"/><circle cx="609.3" cy="862" r="10.2"/><circle cx="653.5" cy="862" r="10.2"/><circle cx="623.2" cy="862.1" r="10.2"/><circle cx="559.8" cy="862.7" r="10.2"/><circle cx="645" cy="862.8" r="10.2"/><circle cx="659.6" cy="862.9" r="10.2"/><circle cx="596.1" cy="863.2" r="10.2"/><circle cx="631" cy="863.7" r="10.2"/><circle cx="899.1" cy="863.8" r="10.2"/><circle cx="568.3" cy="864.2" r="10.2"/><circle cx="604" cy="865" r="10.2"/><circle cx="616.5" cy="865.2" r="10.2"/><circle cx="638.5" cy="865.8" r="10.2"/><circle cx="576.1" cy="866.6" r="10.2"/><circle cx="532.2" cy="869.6" r="10.2"/><circle cx="495.6" cy="869.7" r="10.2"/><circle cx="588.1" cy="870.1" r="10.2"/><circle cx="344.3" cy="870.2" r="10.2"/><circle cx="520" cy="870.4" r="10.2"/><circle cx="512" cy="870.9" r="10.2"/><circle cx="642.9" cy="871" r="10.2"/><circle cx="653" cy="871.5" r="10.2"/><circle cx="669.5" cy="871.6" r="10.2"/><circle cx="560.1" cy="871.7" r="10.2"/><circle cx="489" cy="872.1" r="10.2"/><circle cx="546.9" cy="872.1" r="10.2"/><circle cx="539.8" cy="872.4" r="10.2"/><circle cx="632" cy="872.5" r="10.2"/><circle cx="604.5" cy="873.6" r="10.2"/><circle cx="580.1" cy="874.2" r="10.2"/><circle cx="615.4" cy="874.9" r="10.2"/><circle cx="269.2" cy="875.3" r="10.2"/><circle cx="246.3" cy="876.1" r="10.2"/><circle cx="571.7" cy="876.2" r="10.2"/><circle cx="395.8" cy="876.9" r="10.2"/><circle cx="551.7" cy="877.3" r="10.2"/><circle cx="511.5" cy="877.4" r="10.2"/><circle cx="449.7" cy="877.5" r="10.2"/><circle cx="359.4" cy="878.1" r="10.2"/><circle cx="463.1" cy="878.2" r="10.2"/><circle cx="533.6" cy="879.5" r="10.2"/><circle cx="608.5" cy="879.7" r="10.2"/><circle cx="477.7" cy="879.8" r="10.2"/><circle cx="504.6" cy="880" r="10.2"/><circle cx="558.7" cy="880.1" r="10.2"/><circle cx="328.5" cy="880.1" r="10.2"/><circle cx="377.9" cy="880.1" r="10.2"/><circle cx="543.5" cy="880.2" r="10.2"/><circle cx="438" cy="880.3" r="10.2"/><circle cx="384" cy="880.9" r="10.2"/><circle cx="566.9" cy="881.5" r="10.2"/><circle cx="458.6" cy="882.5" r="10.2"/><circle cx="517.2" cy="882.7" r="10.2"/><circle cx="467.3" cy="883.9" r="10.2"/><circle cx="528.8" cy="884" r="10.2"/><circle cx="395.7" cy="884" r="10.2"/><circle cx="445.8" cy="884.9" r="10.2"/><circle cx="539.8" cy="885.1" r="10.2"/><circle cx="487" cy="885.2" r="10.2"/><circle cx="548.5" cy="885.4" r="10.2"/><circle cx="590" cy="885.6" r="10.2"/><circle cx="600.3" cy="886.3" r="10.2"/><circle cx="432.7" cy="886.4" r="10.2"/><circle cx="505.9" cy="886.6" r="10.2"/><circle cx="497.5" cy="887.5" r="10.2"/><circle cx="336.4" cy="888" r="10.2"/><circle cx="288.2" cy="888.8" r="10.2"/><circle cx="471.4" cy="889.2" r="10.2"/><circle cx="512.1" cy="889.3" r="10.2"/><circle cx="566" cy="889.6" r="10.2"/><circle cx="530.1" cy="890.9" r="10.2"/><circle cx="312.7" cy="891.9" r="10.2"/><circle cx="374" cy="891.9" r="10.2"/><circle cx="633" cy="892.7" r="10.2"/><circle cx="640.9" cy="892.7" r="10.2"/><circle cx="460.1" cy="893.4" r="10.2"/><circle cx="546.8" cy="893.8" r="10.2"/><circle cx="442.2" cy="894.6" r="10.2"/><circle cx="489.1" cy="895.9" r="10.2"/><circle cx="448.6" cy="896.9" r="10.2"/><circle cx="472" cy="898.7" r="10.2"/><circle cx="479.6" cy="899" r="10.2"/><circle cx="387.8" cy="899.8" r="10.2"/><circle cx="495.4" cy="900.8" r="10.2"/><circle cx="551.9" cy="901.4" r="10.2"/><circle cx="265.3" cy="901.8" r="10.2"/><circle cx="342.4" cy="901.8" r="10.2"/><circle cx="462.9" cy="902" r="10.2"/><circle cx="446.7" cy="903.8" r="10.2"/><circle cx="457.3" cy="905.6" r="10.2"/><circle cx="436.3" cy="905.6" r="10.2"/><circle cx="318.7" cy="907.7" r="10.2"/><circle cx="289.8" cy="911.7" r="10.2"/><circle cx="405.7" cy="927.5" r="10.2"/></g><g fill="url(#gr)"><circle cx="1214" cy="83.3" r="12.5"/></g><g fill="url(#gb)"><circle cx="1214" cy="151.5" r="12"/></g><g fill="url(#gm2)"><circle cx="1215.5" cy="222.6" r="13"/></g><text transform="matrix(1.0800 0.0000 0.0000 1.0000 1294 102)" font-size="49.5" font-weight="bold" font-style="normal" text-anchor="start" font-family="'Liberation Sans', sans-serif" fill="#000" >CA05</text><text transform="matrix(1.0800 0.0000 0.0000 1.0000 1294 171.5)" font-size="49.5" font-weight="bold" font-style="normal" text-anchor="start" font-family="'Liberation Sans', sans-serif" fill="#000" >CA50</text><text transform="matrix(1.0800 0.0000 0.0000 1.0000 1294 238.5)" font-size="49.5" font-weight="bold" font-style="normal" text-anchor="start" font-family="'Liberation Sans', sans-serif" fill="#000" >CA90</text><text transform="matrix(1.0800 0.0000 0.0000 1.0000 954 169)" font-size="64.5" font-weight="bold" font-style="normal" text-anchor="start" font-family="'Liberation Sans', sans-serif" fill="#000" >λ=1.05</text><text transform="matrix(0.7400 0.0700 0.0000 1.0000 1150.5 253)" font-size="55" font-weight="bold" font-style="normal" text-anchor="start" font-family="'Liberation Sans', sans-serif" fill="#000" >40</text><text transform="matrix(0.7400 0.0700 0.0000 1.0000 1147 403)" font-size="55" font-weight="bold" font-style="normal" text-anchor="start" font-family="'Liberation Sans', sans-serif" fill="#000" >30</text><text transform="matrix(0.7400 0.0700 0.0000 1.0000 1143 550)" font-size="55" font-weight="bold" font-style="normal" text-anchor="start" font-family="'Liberation Sans', sans-serif" fill="#000" >20</text><text transform="matrix(0.7400 0.0700 0.0000 1.0000 1140 692)" font-size="55" font-weight="bold" font-style="normal" text-anchor="start" font-family="'Liberation Sans', sans-serif" fill="#000" >10</text><text transform="matrix(0.7400 0.0700 0.0000 1.0000 1137 832)" font-size="55" font-weight="bold" font-style="normal" text-anchor="start" font-family="'Liberation Sans', sans-serif" fill="#000" >0</text><g transform="matrix(0.0370 -1.0744 0.9994 0.0344 1221.5 946)" font-family="'Liberation Sans','Noto Sans CJK SC',sans-serif" fill="#000"><text x="0" y="0" font-size="48" font-weight="bold" font-style="italic" text-anchor="start">Combustion phase</text><text x="463" y="0" font-size="42" font-weight="normal" font-style="normal" text-anchor="middle">（</text><text x="500.5" y="0" font-size="48" font-weight="bold" font-style="italic" text-anchor="middle">°</text><text x="527.7" y="0" font-size="48" font-weight="bold" font-style="italic" text-anchor="middle">C</text><text x="560.2" y="0" font-size="48" font-weight="bold" font-style="italic" text-anchor="middle">A</text><text x="610.5" y="0" font-size="42" font-weight="normal" font-style="normal" text-anchor="middle">）</text></g><text transform="matrix(1.0000 0.0000 0.0000 1.0000 1259 654)" font-size="60" font-weight="bold" font-style="normal" text-anchor="start" font-family="'Liberation Sans', sans-serif" fill="#000" >Z</text><text transform="matrix(0.8607 -0.4028 0.7722 0.4617 145 960.4)" font-size="44" font-weight="bold" font-style="normal" text-anchor="middle" font-family="'Liberation Sans', sans-serif" fill="#000" dy="15.8">65</text><text transform="matrix(0.8607 -0.4028 0.7722 0.4617 246.6 1023.5)" font-size="44" font-weight="bold" font-style="normal" text-anchor="middle" font-family="'Liberation Sans', sans-serif" fill="#000" dy="15.8">60</text><text transform="matrix(0.8607 -0.4028 0.7722 0.4617 356.4 1089.4)" font-size="44" font-weight="bold" font-style="normal" text-anchor="middle" font-family="'Liberation Sans', sans-serif" fill="#000" dy="15.8">55</text><text transform="matrix(0.8607 -0.4028 0.7722 0.4617 477 1162.3)" font-size="44" font-weight="bold" font-style="normal" text-anchor="middle" font-family="'Liberation Sans', sans-serif" fill="#000" dy="15.8">50</text><text transform="matrix(0.7979 0.4771 -0.8607 0.4028 233 1078.5)" font-size="46" font-weight="bold" font-style="normal" text-anchor="middle" font-family="'Liberation Sans', sans-serif" fill="#000" dy="16.5">PMAX (bar)</text><text transform="matrix(1.0000 0.0000 0.0000 1.0000 146.7 1118.5)" font-size="58" font-weight="bold" font-style="normal" text-anchor="middle" font-family="'Liberation Sans', sans-serif" fill="#000" >Y</text><text transform="matrix(0.7722 0.4617 -0.9060 0.4240 662.6 1170)" font-size="46" font-weight="bold" font-style="normal" text-anchor="middle" font-family="'Liberation Sans', sans-serif" fill="#000" dy="16.5">10</text><text transform="matrix(0.7722 0.4617 -0.9060 0.4240 768 1120.7)" font-size="46" font-weight="bold" font-style="normal" text-anchor="middle" font-family="'Liberation Sans', sans-serif" fill="#000" dy="16.5">12</text><text transform="matrix(0.7722 0.4617 -0.9060 0.4240 873.4 1072.6)" font-size="46" font-weight="bold" font-style="normal" text-anchor="middle" font-family="'Liberation Sans', sans-serif" fill="#000" dy="16.5">14</text><text transform="matrix(0.7722 0.4617 -0.9060 0.4240 970 1025)" font-size="46" font-weight="bold" font-style="normal" text-anchor="middle" font-family="'Liberation Sans', sans-serif" fill="#000" dy="16.5">16</text><text transform="matrix(0.7722 0.4617 -0.9060 0.4240 1069 980)" font-size="46" font-weight="bold" font-style="normal" text-anchor="middle" font-family="'Liberation Sans', sans-serif" fill="#000" dy="16.5">18</text><text transform="matrix(0.7722 0.4617 -0.9060 0.4240 1152 934)" font-size="46" font-weight="bold" font-style="normal" text-anchor="middle" font-family="'Liberation Sans', sans-serif" fill="#000" dy="16.5">20</text><text transform="matrix(1.0248 -0.4520 0.5235 0.9150 944 1089)" font-size="42" font-weight="bold" font-style="normal" text-anchor="middle" font-family="'Liberation Sans', sans-serif" fill="#000" dy="12">Crank angle (°CA)</text><text transform="matrix(1.0000 0.0000 0.0000 1.0000 982 1152)" font-size="60" font-weight="bold" font-style="normal" text-anchor="middle" font-family="'Liberation Sans', sans-serif" fill="#000" >X</text></g><text x="711" y="1347" font-size="78" font-family="'Liberation Serif','DejaVu Serif',serif">(<tspan font-weight="bold">a</tspan>)</text></g>
<g id="pb"><g filter="url(#bl2)"><g stroke="#bcbcbc" stroke-width="1.4"><line x1="140" y1="1667.6" x2="198" y2="2223.4" /><line x1="222" y1="1643.4" x2="269" y2="2195.6" /><line x1="301" y1="1620.1" x2="339.5" y2="2167.9" /><line x1="377" y1="1597.7" x2="410" y2="2140.2" /><line x1="449" y1="1576.5" x2="478" y2="2113.5" /><line x1="521" y1="1555.3" x2="545" y2="2087.2" /><line x1="591.6" y1="1534.5" x2="611" y2="2061.3" /><line x1="694.5" y1="1562.6" x2="696.6" y2="2100.1" /><line x1="762" y1="1599.3" x2="757.6" y2="2146.1" /><line x1="837" y1="1640" x2="825" y2="2197" /><line x1="916.8" y1="1683.4" x2="896.4" y2="2250.8" /><line x1="997" y1="1727" x2="969.5" y2="2306" /></g><g stroke="#c4c4c4" stroke-width="1.4" stroke-dasharray="3 4"><line x1="67.6" y1="1766.7" x2="626" y2="1596" /><line x1="76.5" y1="1840" x2="627.1" y2="1664.6" /><line x1="85.1" y1="1911" x2="628.2" y2="1733" /><line x1="93.5" y1="1979.6" x2="629.3" y2="1799" /><line x1="101.6" y1="2046.4" x2="630.4" y2="1863" /><line x1="109.6" y1="2112.3" x2="631.4" y2="1927" /><line x1="117.6" y1="2178" x2="632.5" y2="1990" /></g><g stroke="#b0b0b0" stroke-width="1.4" stroke-dasharray="2.5 4.5"><line x1="626" y1="1596" x2="1038.3" y2="1827.3" /><line x1="627.1" y1="1664.6" x2="1033.8" y2="1904.2" /><line x1="628.2" y1="1733" x2="1029.5" y2="1977.5" /><line x1="629.3" y1="1799" x2="1025.3" y2="2049" /><line x1="630.4" y1="1863" x2="1021.2" y2="2119.3" /><line x1="631.4" y1="1927" x2="1017.1" y2="2189.6" /><line x1="632.5" y1="1990" x2="1013.2" y2="2256.7" /></g><g stroke="#dadada" stroke-width="1.3"><line x1="140" y1="2246.2" x2="536" y2="2558.7" /><line x1="222" y1="2214" x2="612" y2="2522.5" /><line x1="301" y1="2183" x2="686.7" y2="2487" /><line x1="377" y1="2153.2" x2="759" y2="2452" /><line x1="449" y1="2124.9" x2="829.4" y2="2419.6" /><line x1="521" y1="2096.7" x2="894.6" y2="2388.4" /><line x1="591.6" y1="2068.9" x2="957.7" y2="2358" /></g><g stroke="#c4c4c4" stroke-width="1.4" stroke-dasharray="3 3.5"><line x1="181" y1="2307.8" x2="696.6" y2="2100.1" /><line x1="238.6" y1="2367" x2="757.6" y2="2146.1" /><line x1="297.8" y1="2427.5" x2="825" y2="2197" /><line x1="360.4" y1="2491.7" x2="896.4" y2="2250.8" /><line x1="426.3" y1="2560.3" x2="969.5" y2="2306" /></g><line x1="624.8" y1="1524.7" x2="633.5" y2="2052.5" stroke="#999" stroke-width="1.4"/><line x1="624.8" y1="1524.7" x2="633.5" y2="2052.5" stroke="#111" stroke-width="2.3" stroke-dasharray="70 30"/><g stroke="#000" stroke-width="2.4" stroke-dasharray="3.5 4.5"><line x1="58.5" y1="1691.6" x2="624.8" y2="1524.7" /><line x1="624.8" y1="1524.7" x2="1042.7" y2="1751.8" /><line x1="126.5" y1="2251.5" x2="633.5" y2="2052.5" /></g><line x1="633.5" y1="2052.5" x2="1008.6" y2="2335.5" stroke="#000" stroke-width="1.8" stroke-dasharray="3 3"/><line x1="58.5" y1="1691.6" x2="126.5" y2="2251.5" stroke="#000" stroke-width="2.6" stroke-dasharray="11 13"/><g stroke="#000" stroke-width="4.6" stroke-linecap="square"><line x1="126.5" y1="2251.5" x2="458.5" y2="2596" /><line x1="458.5" y1="2596" x2="1008.6" y2="2335.5" /><line x1="1042.7" y1="1751.8" x2="1008.6" y2="2335.5" /></g><g stroke="#000" stroke-width="3.2"><line x1="126.5" y1="2251.5" x2="139.2" y2="2245.5" /><line x1="180.9" y1="2307.9" x2="193.5" y2="2301.9" /><line x1="238.2" y1="2367.4" x2="250.8" y2="2361.4" /><line x1="296.9" y1="2428.3" x2="309.6" y2="2422.4" /><line x1="359.1" y1="2492.9" x2="371.8" y2="2486.9" /><line x1="425.2" y1="2561.4" x2="437.8" y2="2555.4" /><line x1="153.7" y1="2279.7" x2="160.9" y2="2276.3" /><line x1="209.5" y1="2337.7" x2="216.8" y2="2334.2" /><line x1="267.6" y1="2397.9" x2="274.8" y2="2394.4" /><line x1="328" y1="2460.6" x2="335.3" y2="2457.2" /><line x1="392.2" y1="2527.2" x2="399.4" y2="2523.7" /><line x1="458.5" y1="2596" x2="448.8" y2="2585.9" /><line x1="536.2" y1="2559.2" x2="526.5" y2="2549.1" /><line x1="612.3" y1="2523.2" x2="602.6" y2="2513.1" /><line x1="687.1" y1="2487.8" x2="677.3" y2="2477.7" /><line x1="759.7" y1="2453.4" x2="749.9" y2="2443.3" /><line x1="829.7" y1="2420.2" x2="820" y2="2410.1" /><line x1="895" y1="2389.3" x2="885.3" y2="2379.2" /><line x1="958.3" y1="2359.3" x2="948.6" y2="2349.2" /><line x1="497.4" y1="2577.6" x2="491.8" y2="2571.8" /><line x1="574.3" y1="2541.2" x2="568.7" y2="2535.4" /><line x1="649.7" y1="2505.5" x2="644.1" y2="2499.7" /><line x1="723.4" y1="2470.6" x2="717.8" y2="2464.8" /><line x1="794.7" y1="2436.8" x2="789.1" y2="2431" /><line x1="862.4" y1="2404.8" x2="856.8" y2="2399" /><line x1="926.7" y1="2374.3" x2="921.1" y2="2368.5" /><line x1="988.2" y1="2344.5" x2="982.7" y2="2338.7" /><line x1="1042.7" y1="1751.8" x2="1029.7" y2="1746.8" /><line x1="1040.5" y1="1789.5" x2="1032.5" y2="1786.5" /><line x1="1038.3" y1="1827.3" x2="1025.3" y2="1822.3" /><line x1="1036" y1="1865.8" x2="1028" y2="1862.8" /><line x1="1033.8" y1="1904.2" x2="1020.8" y2="1899.2" /><line x1="1031.7" y1="1940.8" x2="1023.7" y2="1937.8" /><line x1="1029.5" y1="1977.5" x2="1016.5" y2="1972.5" /><line x1="1027.4" y1="2013.2" x2="1019.4" y2="2010.2" /><line x1="1025.3" y1="2049" x2="1012.3" y2="2044" /><line x1="1023.3" y1="2084.2" x2="1015.3" y2="2081.2" /><line x1="1021.2" y1="2119.3" x2="1008.2" y2="2114.3" /><line x1="1019.2" y1="2154.4" x2="1011.2" y2="2151.4" /><line x1="1017.1" y1="2189.6" x2="1004.1" y2="2184.6" /><line x1="1015.2" y1="2223.1" x2="1007.2" y2="2220.1" /><line x1="1013.2" y1="2256.7" x2="1000.2" y2="2251.7" /><line x1="1011.1" y1="2292.3" x2="1003.1" y2="2289.3" /><line x1="1009" y1="2327.9" x2="996" y2="2322.9" /></g></g><g filter="url(#bl)"><path d="M723.3 1761.9l0.6 3.5M852.9 1756.4l0.6 3.5M877.6 1771l0.6 3.5M833.6 1768.8l0.6 3.5M801.4 1776l0.6 3.5M761.5 1792.2l0.6 3.5M675.3 1767.3l0.6 3.5M851.5 1756.8l0.6 3.5M753.1 1789.3l0.6 3.5M840 1762.1l0.6 3.5M768.2 1776.9l0.6 3.5M874 1783.8l0.6 3.5M855.2 1773.9l0.6 3.5M709.5 1785l0.6 3.5M672.8 1770.6l0.6 3.5M714.6 1774l0.6 3.5M871.4 1753.6l0.6 3.5M748.9 1757.5l0.6 3.5M841.5 1781l0.6 3.5M856.8 1784.2l0.6 3.5M878.5 1765.9l0.6 3.5M788.2 1787.7l0.6 3.5M855.2 1758.6l0.6 3.5M763 1759.5l0.6 3.5M800.2 1777.8l0.6 3.5M720.4 1780.4l0.6 3.5M717.2 1772.7l0.6 3.5M773.8 1771.6l0.6 3.5M890.2 1772.2l0.6 3.5M734.7 1760.2l0.6 3.5M813.1 1771l0.6 3.5M695.4 1785.2l0.6 3.5M672.6 1784.3l0.6 3.5M832.1 1765.5l0.6 3.5M884.3 1760l0.6 3.5M819.5 1770.6l0.6 3.5M673.3 1776.3l0.6 3.5M846.1 1784.4l0.6 3.5M760.1 1775.7l0.6 3.5M741.5 1776.4l0.6 3.5M823 1763.4l0.6 3.5M835.6 1761.7l0.6 3.5M670.7 1774.9l0.6 3.5M716.7 1756.8l0.6 3.5M839.6 1745.9l0.6 3.5M732.1 1790l0.6 3.5M670.2 1775.7l0.6 3.5M778.5 1776.5l0.6 3.5M701.3 1775.7l0.6 3.5M835.8 1778.2l0.6 3.5M670.1 1777.9l0.6 3.5M832.8 1760.8l0.6 3.5M797.7 1782.3l0.6 3.5M807.6 1776.4l0.6 3.5M706.1 1784.9l0.6 3.5M811.3 1756.3l0.6 3.5M761.4 1772.9l0.6 3.5M858.1 1749l0.6 3.5M889 1749.5l0.6 3.5M797 1780.7l0.6 3.5M805.6 1779.5l0.6 3.5M853.3 1766.7l0.6 3.5M880.8 1748.5l0.6 3.5M684.8 1778.9l0.6 3.5M848.4 1746.4l0.6 3.5M705.2 1770l0.6 3.5M775.7 1777.2l0.6 3.5M671.2 1770.7l0.6 3.5M735.9 1759.5l0.6 3.5M844 1747.3l0.6 3.5M711.5 1779.3l0.6 3.5M688.9 1786.2l0.6 3.5M793.2 1750.1l0.6 3.5M782.5 1769.9l0.6 3.5M681.9 1751.3l0.6 3.5M777.7 1756.2l0.6 3.5M766.4 1755l0.6 3.5M874.8 1749.3l0.6 3.5M799.3 1773.2l0.6 3.5M870 1775.9l0.6 3.5M675.2 1772.2l0.6 3.5M707.7 1777.2l0.6 3.5M838.9 1777.7l0.6 3.5M736.8 1773.6l0.6 3.5M837.9 1743.8l0.6 3.5M829.9 1762.7l0.6 3.5M842.3 1775.1l0.6 3.5M771.4 1748.1l0.6 3.5M841.1 1766l0.6 3.5M678.2 1782.6l0.6 3.5M719.3 1791.8l0.6 3.5M858.9 1780.8l0.6 3.5M713.4 1767.3l0.6 3.5M818.5 1767.2l0.6 3.5M675.1 1759.1l0.6 3.5M708.9 1789.9l0.6 3.5M689.7 1759.2l0.6 3.5M724.6 1766.7l0.6 3.5M856.9 1765.5l0.6 3.5M761 1765.8l0.6 3.5M721.2 1778.2l0.6 3.5M794.3 1788.8l0.6 3.5M729.5 1770.9l0.6 3.5M672 1776.1l0.6 3.5M733.5 1786.6l0.6 3.5M756.7 1772.2l0.6 3.5M673 1767.1l0.6 3.5M716.5 1773.3l0.6 3.5M718.3 1765.8l0.6 3.5M731.2 1777.4l0.6 3.5M739.9 1794.5l0.6 3.5M676.7 1751.4l0.6 3.5M779.6 1768.4l0.6 3.5M889.6 1752.3l0.6 3.5M720.3 1792l0.6 3.5M867.1 1774.2l0.6 3.5M835.8 1749l0.6 3.5M824.5 1761.9l0.6 3.5M795.1 1745.8l0.6 3.5M837.1 1778.3l0.6 3.5M742.7 1769l0.6 3.5M753 1776.8l0.6 3.5M787.7 1766.1l0.6 3.5M717.3 1782.3l0.6 3.5M875.2 1763l0.6 3.5M739.3 1755.5l0.6 3.5M709.3 1771.5l0.6 3.5M787.7 1783.7l0.6 3.5M840.2 1776.8l0.6 3.5M720.8 1767.3l0.6 3.5M706.2 1781.7l0.6 3.5M740.9 1745.6l0.6 3.5M750.5 1760.1l0.6 3.5M885.5 1748.6l0.6 3.5M804.3 1766.8l0.6 3.5M888.3 1743.4l0.6 3.5M849.5 1750.8l0.6 3.5M850.8 1766.7l0.6 3.5M877.6 1770.2l0.6 3.5M719.6 1758.4l0.6 3.5M889.9 1766.6l0.6 3.5M889.4 1757.9l0.6 3.5M880 1749.5l0.6 3.5M708.5 1779l0.6 3.5M807.8 1772.9l0.6 3.5M853.6 1750.9l0.6 3.5M719.5 1795.3l0.6 3.5M847.8 1778.8l0.6 3.5M725.3 1777l0.6 3.5M815.7 1768.9l0.6 3.5M818 1763.5l0.6 3.5M834.5 1758.6l0.6 3.5M672.7 1770.3l0.6 3.5M677.2 1763.7l0.6 3.5M760.1 1751.4l0.6 3.5M784.5 1752.2l0.6 3.5M731.6 1747.8l0.6 3.5M832.5 1752l0.6 3.5M809.3 1780.1l0.6 3.5M844.7 1762.6l0.6 3.5M681.3 1776.5l0.6 3.5M774.6 1753.2l0.6 3.5M758 1777.2l0.6 3.5M718.9 1763.4l0.6 3.5M862.2 1753.7l0.6 3.5M866.2 1757.8l0.6 3.5M694.5 1773.1l0.6 3.5M778.4 1754.3l0.6 3.5M841.5 1777.2l0.6 3.5M737.7 1770l0.6 3.5M694.4 1778.3l0.6 3.5M868.5 1748.6l0.6 3.5M795.5 1747.6l0.6 3.5M887.1 1752.7l0.6 3.5M884.3 1756.3l0.6 3.5M833.3 1765.1l0.6 3.5M769.2 1751l0.6 3.5M705.3 1750.5l0.6 3.5M826.9 1767l0.6 3.5M854.4 1781.2l0.6 3.5M714.4 1758.2l0.6 3.5M680.2 1789.8l0.6 3.5M818.1 1759.9l0.6 3.5M672.4 1766.8l0.6 3.5M682.9 1778.3l0.6 3.5M684.7 1774.5l0.6 3.5M828.1 1764.3l0.6 3.5M893.5 1765.6l0.6 3.5M861.1 1783.3l0.6 3.5M766.1 1760l0.6 3.5M815 1752.3l0.6 3.5M779.7 1742.3l0.6 3.5M823.1 1769l0.6 3.5M870.1 1757.7l0.6 3.5M720.6 1773.4l0.6 3.5M771.2 1744.9l0.6 3.5M876.6 1758.7l0.6 3.5M874.7 1750.9l0.6 3.5M815.1 1756l0.6 3.5M841.6 1778.3l0.6 3.5M846 1737.3l0.6 3.5M802.1 1760l0.6 3.5M761.1 1766.2l0.6 3.5M674.4 1778.1l0.6 3.5M795 1752.1l0.6 3.5M676.4 1767.5l0.6 3.5M781.6 1777.8l0.6 3.5M730.2 1783.3l0.6 3.5M729.5 1779.3l0.6 3.5M705.5 1772.8l0.6 3.5M762.2 1784.1l0.6 3.5M723.3 1779l0.6 3.5M688.4 1771.5l0.6 3.5M776.7 1767l0.6 3.5M849 1747.2l0.6 3.5M794.6 1756.2l0.6 3.5M866.8 1776.1l0.6 3.5M794.1 1748.6l0.6 3.5M841.9 1756.9l0.6 3.5M769.3 1776l0.6 3.5M768.4 1762.2l0.6 3.5M676.4 1773.5l0.6 3.5M712.6 1786.9l0.6 3.5M698.4 1764.4l0.6 3.5M691.5 1747.1l0.6 3.5M682.9 1770.2l0.6 3.5M710.6 1767.7l0.6 3.5M774.2 1761.4l0.6 3.5M810.8 1780.8l0.6 3.5M880.2 1761.7l0.6 3.5M754.1 1766.6l0.6 3.5M891.9 1764l0.6 3.5M839.5 1738.8l0.6 3.5M761 1758.8l0.6 3.5M718.3 1771.3l0.6 3.5M719.7 1791.5l0.6 3.5M732.2 1767.5l0.6 3.5M873 1740l0.6 3.5M872.1 1767.1l0.6 3.5M678.8 1769l0.6 3.5M691.4 1753.1l0.6 3.5M735.3 1739.9l0.6 3.5M831.9 1735.5l0.6 3.5M849.5 1737.7l0.6 3.5M871.4 1735.5l0.6 3.5M895.6 1731.2l0.6 3.5M924.1 1748.7l0.6 3.5M910.9 1753.1l0.6 3.5M948.3 1773.7l0.6 3.5M924.1 1768.5l0.6 3.5M667.3 1772l0.6 3.5M678.2 1776.4l0.6 3.5M906.6 1764.1l0.6 3.5M897.8 1777.3l0.6 3.5M994.1 1729l0.6 3.5M990.6 1754.4l0.6 3.5M1002.9 1757.5l0.6 3.5M908.5 1755.3l0.6 3.5M923.8 1750.9l0.6 3.5M945.8 1776.4l0.6 3.5M912.9 1761.9l0.6 3.5" stroke="#ff2ce0" stroke-width="5.6" stroke-linecap="round" fill="none"/><path d="M734.3 1917.6l0.4 4.4M701 1916.6l0.4 4.4M729.9 1919.9l0.4 4.4M697.4 1909.4l0.4 4.4M711.9 1910.9l0.4 4.4M671.3 1902.7l0.4 4.4M684.7 1911.5l0.4 4.4M696 1919.1l0.4 4.4M727.8 1922.5l0.4 4.4M713.2 1919.3l0.4 4.4M678.9 1910.5l0.4 4.4M682.4 1904.8l0.4 4.4M714.9 1919.9l0.4 4.4M699 1905.6l0.4 4.4M712.7 1915.6l0.4 4.4M681.8 1905l0.4 4.4M678.2 1909.2l0.4 4.4M706.2 1914.5l0.4 4.4M718.7 1916.2l0.4 4.4M731.9 1924.4l0.4 4.4M698.4 1919.6l0.4 4.4M684.6 1915.4l0.4 4.4M718.6 1920.2l0.4 4.4M714.1 1913.9l0.4 4.4M678.4 1915.1l0.4 4.4M695.2 1905.6l0.4 4.4M703.7 1913.4l0.4 4.4M709.5 1916.6l0.4 4.4M680.2 1906.3l0.4 4.4M705.7 1914.2l0.4 4.4M714.5 1918.6l0.4 4.4M683.2 1911.5l0.4 4.4M674.8 1909.7l0.4 4.4M718.4 1922.7l0.4 4.4M682.4 1909.6l0.4 4.4M820.7 1940.2l0.4 4.4M835 1944.1l0.4 4.4M838.1 1946.4l0.4 4.4M731.9 1922.6l0.4 4.4M841.4 1939.3l0.4 4.4M753.1 1921.5l0.4 4.4M762.6 1921l0.4 4.4M826.1 1936.3l0.4 4.4M879 1936.9l0.4 4.4M740.4 1923.1l0.4 4.4M794.1 1931.4l0.4 4.4M842.7 1943l0.4 4.4M761.5 1929.5l0.4 4.4M763.5 1915l0.4 4.4M830.3 1935.6l0.4 4.4M800.8 1928.6l0.4 4.4M763.8 1919.7l0.4 4.4M868.9 1940.4l0.4 4.4M824.8 1938.1l0.4 4.4M806.8 1934.7l0.4 4.4M757.4 1925.4l0.4 4.4M792.9 1923.9l0.4 4.4M746.3 1921.3l0.4 4.4M798.4 1925.9l0.4 4.4M754.9 1931.4l0.4 4.4M801.3 1933.2l0.4 4.4M814.4 1925.5l0.4 4.4M873.2 1941.1l0.4 4.4M741.2 1923.6l0.4 4.4M812.7 1937.7l0.4 4.4M784.5 1928.9l0.4 4.4M764.9 1933.7l0.4 4.4M867.9 1947.3l0.4 4.4M749.4 1933l0.4 4.4M780.8 1923.5l0.4 4.4M791.7 1938.6l0.4 4.4M792.9 1931.1l0.4 4.4M827.6 1940.8l0.4 4.4M760.5 1923.5l0.4 4.4M767.9 1921.1l0.4 4.4M820 1931l0.4 4.4M739.1 1921.1l0.4 4.4M732.3 1931.3l0.4 4.4M805.9 1938l0.4 4.4M826.8 1938.6l0.4 4.4M807.9 1926.5l0.4 4.4M847 1935.8l0.4 4.4M845.4 1945.1l0.4 4.4M868.1 1941.8l0.4 4.4M850.3 1936.7l0.4 4.4M747.9 1921.2l0.4 4.4M800.2 1930.2l0.4 4.4M789.8 1926.5l0.4 4.4M840.3 1932.5l0.4 4.4M823.7 1939.7l0.4 4.4M842.1 1937.7l0.4 4.4M815.7 1935.8l0.4 4.4M810.3 1934.7l0.4 4.4M801.8 1929.3l0.4 4.4M776.6 1927.1l0.4 4.4M860.9 1940l0.4 4.4M823.4 1944.7l0.4 4.4M879.5 1940.4l0.4 4.4M783.2 1925l0.4 4.4M816.7 1940.5l0.4 4.4M737 1925.2l0.4 4.4M786.8 1925l0.4 4.4M821.8 1929l0.4 4.4M728.9 1917.4l0.4 4.4M737.7 1916.2l0.4 4.4M851.7 1939.3l0.4 4.4M749.2 1915.6l0.4 4.4M799.5 1936.6l0.4 4.4M830.3 1943l0.4 4.4M787.4 1927.1l0.4 4.4M784.9 1923.6l0.4 4.4M824.9 1932.1l0.4 4.4M830.9 1940.8l0.4 4.4M737.5 1925.9l0.4 4.4M876.3 1940.9l0.4 4.4M778.2 1925.3l0.4 4.4M792.7 1934.1l0.4 4.4M732.1 1923.4l0.4 4.4M875.4 1955.7l0.4 4.4M807.9 1933.4l0.4 4.4M779.8 1917.8l0.4 4.4M869.5 1938.7l0.4 4.4M862.8 1948.4l0.4 4.4M773.9 1917.6l0.4 4.4M819.4 1942.7l0.4 4.4M766 1926.3l0.4 4.4M843.8 1940.6l0.4 4.4M734.6 1922.4l0.4 4.4M731.5 1920l0.4 4.4M841.2 1929.3l0.4 4.4M828.7 1943l0.4 4.4M864.5 1950.2l0.4 4.4M811.7 1941.5l0.4 4.4M788.6 1933.4l0.4 4.4M736.9 1915.8l0.4 4.4M854.9 1946.5l0.4 4.4M785.9 1929.5l0.4 4.4M821.6 1926.4l0.4 4.4M804.8 1927.8l0.4 4.4M747.5 1925.1l0.4 4.4M751.1 1927.4l0.4 4.4M870.5 1941.6l0.4 4.4M786.7 1930.5l0.4 4.4M815.7 1930.5l0.4 4.4M874 1947.6l0.4 4.4M818.6 1932.9l0.4 4.4M766.8 1918.9l0.4 4.4M871.9 1939.9l0.4 4.4M800.1 1923.6l0.4 4.4M840.8 1940.6l0.4 4.4M795.2 1937l0.4 4.4M832.7 1932.9l0.4 4.4M820 1944.7l0.4 4.4M852.3 1944.2l0.4 4.4M849.5 1939.8l0.4 4.4M840.8 1948.9l0.4 4.4M830.5 1928.9l0.4 4.4M733.6 1924.9l0.4 4.4M869.6 1939l0.4 4.4M876.9 1945.1l0.4 4.4M787.6 1934.3l0.4 4.4M810.7 1934.3l0.4 4.4M869.1 1937.7l0.4 4.4M780.6 1936.1l0.4 4.4M805.2 1927.3l0.4 4.4M777.9 1930.4l0.4 4.4M795.2 1930.6l0.4 4.4M738.7 1912.6l0.4 4.4M871.7 1941.7l0.4 4.4M737.1 1920.6l0.4 4.4M833.3 1936.1l0.4 4.4M853.1 1943.3l0.4 4.4M727.2 1925.7l0.4 4.4M858.7 1943.3l0.4 4.4M732.6 1913.2l0.4 4.4M835.1 1939.9l0.4 4.4M871.9 1943.9l0.4 4.4M763.6 1933.8l0.4 4.4M737.5 1929l0.4 4.4M853.8 1940.6l0.4 4.4M782.5 1922.9l0.4 4.4M830.7 1934.7l0.4 4.4M759.1 1923.9l0.4 4.4M787.5 1932.8l0.4 4.4M752.9 1916.5l0.4 4.4M757 1920.3l0.4 4.4M862.4 1943l0.4 4.4M800.1 1939.3l0.4 4.4M862.9 1950.8l0.4 4.4M745.5 1919.1l0.4 4.4M873.3 1951.5l0.4 4.4M735.3 1933l0.4 4.4M864.6 1939.2l0.4 4.4M811.4 1930.9l0.4 4.4M807.2 1944.2l0.4 4.4M801 1929.9l0.4 4.4M810.1 1932.2l0.4 4.4M839.6 1934.4l0.4 4.4M836.7 1943.1l0.4 4.4M808 1924.9l0.4 4.4M872.2 1943.3l0.4 4.4M876.4 1950.3l0.4 4.4M786.3 1924.5l0.4 4.4M788.3 1928.9l0.4 4.4M740 1916.1l0.4 4.4M864.2 1953.2l0.4 4.4M770 1927l0.4 4.4M818.1 1945l0.4 4.4M737.4 1917.8l0.4 4.4M738.3 1924.7l0.4 4.4M790.6 1936.4l0.4 4.4M744.5 1921.9l0.4 4.4M829 1939.3l0.4 4.4M803.8 1938.8l0.4 4.4M765.9 1917.3l0.4 4.4M792.3 1935.6l0.4 4.4M822.6 1935.6l0.4 4.4M848.1 1940.3l0.4 4.4M828.1 1936.6l0.4 4.4M838.3 1932.7l0.4 4.4M815.2 1942.1l0.4 4.4M768.2 1932.5l0.4 4.4M844.9 1942.2l0.4 4.4M747.6 1926.2l0.4 4.4M777.2 1930.8l0.4 4.4M747.2 1934.8l0.4 4.4M778.5 1936.4l0.4 4.4M775.2 1927.2l0.4 4.4M845.1 1945.3l0.4 4.4M773.1 1922.6l0.4 4.4M846.7 1942.7l0.4 4.4M746.8 1920.9l0.4 4.4M823.1 1929.9l0.4 4.4M871.4 1954l0.4 4.4M864.2 1944.2l0.4 4.4M825.5 1952.5l0.4 4.4M867.2 1956.9l0.4 4.4M902.3 1945.9l0.4 4.4M917.7 1939.3l0.4 4.4M893.5 1943.7l0.4 4.4M911.1 1948.1l0.4 4.4M983.2 1941.5l0.4 4.4M992 1948.1l0.4 4.4M980.2 1957.7l0.4 4.4M906.4 1943.7l0.4 4.4M917.4 1941.5l0.4 4.4" stroke="#1010d0" stroke-width="5.2" stroke-linecap="round" fill="none"/><path d="M862.7 2155.8l0.9 4.1M785.1 2132.6l0.9 4.1M781.2 2124.6l0.9 4.1M857 2168.2l0.9 4.1M710.8 2103.4l0.9 4.1M806.5 2137.3l0.9 4.1M867.3 2153.3l0.9 4.1M878.4 2160.1l0.9 4.1M777.8 2128.3l0.9 4.1M709.6 2085.9l0.9 4.1M704.2 2102l0.9 4.1M726.5 2105.1l0.9 4.1M824.2 2144.5l0.9 4.1M873.5 2163.4l0.9 4.1M708.9 2089.2l0.9 4.1M763.8 2114.8l0.9 4.1M861.3 2150.1l0.9 4.1M843.2 2164.9l0.9 4.1M754.2 2115.5l0.9 4.1M721 2091.9l0.9 4.1M746.1 2103.8l0.9 4.1M870 2161.5l0.9 4.1M756.3 2115.4l0.9 4.1M836.6 2161.3l0.9 4.1M809.2 2134.3l0.9 4.1M728.1 2099.7l0.9 4.1M854.7 2152l0.9 4.1M795.5 2133.9l0.9 4.1M846.4 2157.9l0.9 4.1M775.9 2124.3l0.9 4.1M833.9 2156.2l0.9 4.1M845.9 2150.3l0.9 4.1M873.2 2153.9l0.9 4.1M726.3 2099.3l0.9 4.1M804.1 2124.3l0.9 4.1M834.6 2140.9l0.9 4.1M846.1 2142.9l0.9 4.1M795 2127.1l0.9 4.1M811.7 2139.5l0.9 4.1M786.8 2122.4l0.9 4.1M720.4 2091.3l0.9 4.1M793.5 2118.8l0.9 4.1M781.1 2124.9l0.9 4.1M817.7 2145l0.9 4.1M769.3 2116.6l0.9 4.1M709.2 2094.6l0.9 4.1M777.4 2124.5l0.9 4.1M835.7 2142.3l0.9 4.1M826.2 2161l0.9 4.1M843.9 2148.5l0.9 4.1M830 2143.7l0.9 4.1M757.9 2122.4l0.9 4.1M826.5 2132.3l0.9 4.1M750.8 2104.6l0.9 4.1M826.5 2152.6l0.9 4.1M789.5 2135.8l0.9 4.1M765.5 2125.5l0.9 4.1M799.4 2127.3l0.9 4.1M749.4 2114.6l0.9 4.1M780.2 2116l0.9 4.1M846.4 2149.4l0.9 4.1M711.9 2096.2l0.9 4.1M759.3 2109.8l0.9 4.1M768.9 2113.7l0.9 4.1M837.5 2157.6l0.9 4.1M735.3 2097.1l0.9 4.1M858.3 2159.9l0.9 4.1M718.8 2108.5l0.9 4.1M786.6 2131.4l0.9 4.1M731.5 2102.9l0.9 4.1M770.6 2105.8l0.9 4.1M736.6 2107.5l0.9 4.1M797.2 2140l0.9 4.1M808.3 2128.1l0.9 4.1M718.2 2101.8l0.9 4.1M870.8 2162.4l0.9 4.1M846.1 2155.7l0.9 4.1M845.3 2156.7l0.9 4.1M777.8 2121.6l0.9 4.1M738.5 2116.2l0.9 4.1M716.9 2098.3l0.9 4.1M865.9 2171.3l0.9 4.1M798.2 2140.7l0.9 4.1M771.8 2135.1l0.9 4.1M738.2 2098.5l0.9 4.1M730.4 2097.7l0.9 4.1M870.8 2166.3l0.9 4.1M754.4 2116l0.9 4.1M757.5 2115.4l0.9 4.1M852.3 2156.2l0.9 4.1M732.7 2101.2l0.9 4.1M841.5 2152.1l0.9 4.1M859.8 2172.4l0.9 4.1M720.7 2101l0.9 4.1M713.7 2090.3l0.9 4.1M845.9 2148.3l0.9 4.1M713.6 2094.6l0.9 4.1M709.2 2099.3l0.9 4.1M819.9 2143.5l0.9 4.1M814.5 2135.3l0.9 4.1M714.4 2094.5l0.9 4.1M863 2154.6l0.9 4.1M846.6 2157l0.9 4.1M796.2 2126.6l0.9 4.1M829 2145.8l0.9 4.1M795.5 2142l0.9 4.1M731.6 2104.4l0.9 4.1M713 2093.6l0.9 4.1M737.4 2104.8l0.9 4.1M866.4 2168.5l0.9 4.1M711.3 2099.4l0.9 4.1M850.4 2155.7l0.9 4.1M756.2 2119.8l0.9 4.1M810.7 2147.5l0.9 4.1M797.9 2138.4l0.9 4.1M850.7 2159.9l0.9 4.1M850.8 2165.7l0.9 4.1M822.9 2140.6l0.9 4.1M710.2 2099.3l0.9 4.1M804.5 2146.9l0.9 4.1M804.2 2144.2l0.9 4.1M852.1 2152.1l0.9 4.1M726.8 2090l0.9 4.1M782.2 2120.6l0.9 4.1M720.3 2101.8l0.9 4.1M837.8 2142.5l0.9 4.1M751.7 2122.4l0.9 4.1M776.9 2118.8l0.9 4.1M735.6 2101.9l0.9 4.1M756 2102.1l0.9 4.1M802.8 2129.6l0.9 4.1M808.8 2137.8l0.9 4.1M770.3 2118l0.9 4.1M787.2 2122.5l0.9 4.1M773.2 2132.4l0.9 4.1M845.6 2146.4l0.9 4.1M714.2 2103.1l0.9 4.1M853.2 2170l0.9 4.1M813.8 2133.3l0.9 4.1M756 2110.1l0.9 4.1M819.6 2154.9l0.9 4.1M754.7 2116.3l0.9 4.1M743 2103.9l0.9 4.1M845 2140.4l0.9 4.1M874.5 2169l0.9 4.1M791.9 2120.4l0.9 4.1M760.4 2119.2l0.9 4.1M870.9 2169.3l0.9 4.1M809.2 2136.6l0.9 4.1M804.3 2139.2l0.9 4.1M858.9 2154.1l0.9 4.1M860 2159l0.9 4.1M758.5 2119.8l0.9 4.1M705.2 2093.2l0.9 4.1M730.3 2103l0.9 4.1M790.1 2128l0.9 4.1M801 2130.6l0.9 4.1M796.2 2146.4l0.9 4.1M824.5 2143.7l0.9 4.1M728.8 2091.5l0.9 4.1M763.2 2115.7l0.9 4.1M736.8 2110l0.9 4.1M857.9 2166.4l0.9 4.1M843 2166.3l0.9 4.1M854.6 2153.2l0.9 4.1M805.7 2146.6l0.9 4.1M721.2 2101.3l0.9 4.1M773.9 2122.9l0.9 4.1M812.3 2137.6l0.9 4.1M793.1 2127.8l0.9 4.1M811.8 2135.4l0.9 4.1M726.6 2093.1l0.9 4.1M800.9 2133.4l0.9 4.1M846.3 2166.9l0.9 4.1M863 2159.5l0.9 4.1M834.7 2150.3l0.9 4.1M708.1 2085.6l0.9 4.1M871.2 2170.7l0.9 4.1M795.3 2136.7l0.9 4.1M763.4 2130l0.9 4.1M762.4 2109.7l0.9 4.1M813.6 2130.2l0.9 4.1M750.1 2110.7l0.9 4.1M705.9 2105.8l0.9 4.1M745.6 2112.6l0.9 4.1M869.4 2157l0.9 4.1M752.6 2126.5l0.9 4.1M718.2 2097.3l0.9 4.1M832.2 2131.6l0.9 4.1M854.1 2166.3l0.9 4.1M736.8 2107.2l0.9 4.1M709.7 2104.4l0.9 4.1M846.7 2156l0.9 4.1M736.9 2109.3l0.9 4.1M751.7 2114.3l0.9 4.1M749.7 2111.8l0.9 4.1M859.7 2151.4l0.9 4.1M772.1 2112.8l0.9 4.1M786.4 2124.1l0.9 4.1M803.8 2141.9l0.9 4.1M721.4 2098.6l0.9 4.1M865.7 2170.4l0.9 4.1M708.6 2094.6l0.9 4.1M765.5 2111.6l0.9 4.1M732 2112.8l0.9 4.1M841.9 2152.1l0.9 4.1M731.4 2091.9l0.9 4.1M811.3 2133.9l0.9 4.1M868.8 2174.2l0.9 4.1M766.7 2116.2l0.9 4.1M819.1 2143.5l0.9 4.1M781.2 2122.9l0.9 4.1M756.4 2119.9l0.9 4.1M838 2154.6l0.9 4.1M756.4 2116.5l0.9 4.1M740.7 2112.7l0.9 4.1M847.6 2147.6l0.9 4.1M778.2 2134.8l0.9 4.1M747.3 2122.8l0.9 4.1M756.8 2119.6l0.9 4.1M812.9 2142l0.9 4.1M773.4 2127.1l0.9 4.1M794.1 2128l0.9 4.1M838.5 2145.3l0.9 4.1M813.2 2134.7l0.9 4.1M837.9 2142.6l0.9 4.1M869.4 2151.6l0.9 4.1M726.1 2088.3l0.9 4.1M861.6 2162.7l0.9 4.1M872.7 2164.3l0.9 4.1M674.9 2079.8l0.9 4.1M715.6 2101l0.9 4.1M688.9 2084.6l0.9 4.1M732.1 2102.1l0.9 4.1M694.4 2087.3l0.9 4.1M696.9 2088.7l0.9 4.1M714 2083.6l0.9 4.1M714.1 2098.1l0.9 4.1M673.9 2074.8l0.9 4.1M718.7 2094.1l0.9 4.1M695.8 2087.9l0.9 4.1M675.4 2081.8l0.9 4.1M694.6 2081.5l0.9 4.1M725.7 2094.3l0.9 4.1M700.7 2080.7l0.9 4.1M715.8 2092l0.9 4.1M709.3 2090.2l0.9 4.1M727.7 2098.8l0.9 4.1M717.1 2088.5l0.9 4.1M675.4 2077l0.9 4.1M701.3 2088.6l0.9 4.1M678.4 2077.1l0.9 4.1M702.7 2081.7l0.9 4.1M731.6 2106.1l0.9 4.1M692.2 2086.5l0.9 4.1M669.3 2074.3l0.9 4.1M678.1 2085.3l0.9 4.1M686.9 2080.9l0.9 4.1M695.7 2091.9l0.9 4.1M711 2076.5l0.9 4.1M726.4 2080.9l0.9 4.1M691.3 2089.7l0.9 4.1M702.3 2085.3l0.9 4.1M717.6 2089.7l0.9 4.1M884.5 2153.3l0.9 4.1M895.5 2166.5l0.9 4.1M906.4 2157.7l0.9 4.1M891.1 2179.7l0.9 4.1M908.6 2177.5l0.9 4.1M823 2164.3l0.9 4.1M752.8 2129.2l0.9 4.1M969.8 2165.6l0.9 4.1M977.7 2185.3l0.9 4.1M966.3 2207.3l0.9 4.1M907.5 2159l0.9 4.1M906.1 2176.5l0.9 4.1" stroke="#ff1010" stroke-width="5.4" stroke-linecap="round" fill="none"/><g fill="url(#gm3)"><circle cx="411.8" cy="1900.8" r="11.1"/><circle cx="354.5" cy="1907.3" r="11.1"/><circle cx="541.4" cy="1875.7" r="11.1"/><circle cx="486.1" cy="1877.2" r="11.1"/><circle cx="569.7" cy="1870.3" r="11.1"/><circle cx="451.9" cy="1893.4" r="11.1"/><circle cx="308.3" cy="1915.5" r="11.1"/><circle cx="381" cy="1892.2" r="11.1"/><circle cx="368.4" cy="1897.1" r="11.1"/><circle cx="527.4" cy="1879.6" r="11.1"/><circle cx="284" cy="1913.2" r="11.1"/><circle cx="321.5" cy="1916.3" r="11.1"/><circle cx="260.3" cy="1923.8" r="11.1"/><circle cx="284.3" cy="1924.5" r="11.1"/><circle cx="555.8" cy="1872.9" r="11.1"/><circle cx="397.8" cy="1906" r="11.1"/><circle cx="512" cy="1874.7" r="11.1"/><circle cx="407.1" cy="1891.1" r="11.1"/><circle cx="273.7" cy="1916.4" r="11.1"/><circle cx="505.1" cy="1881.8" r="11.1"/><circle cx="446.1" cy="1882.4" r="11.1"/><circle cx="476.3" cy="1885.4" r="11.1"/><circle cx="555.8" cy="1863.3" r="11.1"/><circle cx="337.5" cy="1908.7" r="11.1"/><circle cx="399" cy="1897.7" r="11.1"/><circle cx="670.1" cy="1849.6" r="11.1"/><circle cx="588.5" cy="1856.2" r="11.1"/><circle cx="602" cy="1844.6" r="11.1"/><circle cx="574.6" cy="1850.8" r="11.1"/><circle cx="651.9" cy="1846.9" r="11.1"/><circle cx="578.6" cy="1839.4" r="11.1"/><circle cx="624.8" cy="1851.9" r="11.1"/><circle cx="615.1" cy="1853.5" r="11.1"/><circle cx="593.1" cy="1848.7" r="11.1"/><circle cx="628" cy="1842.4" r="11.1"/><circle cx="667.9" cy="1860.8" r="11.1"/><circle cx="604.1" cy="1857.2" r="11.1"/><circle cx="561.8" cy="1847.6" r="11.1"/><circle cx="639.2" cy="1844.5" r="11.1"/><circle cx="953" cy="1743.9" r="11.1"/><circle cx="931" cy="1782.5" r="11.1"/><circle cx="909.1" cy="1784.3" r="11.1"/><circle cx="803.7" cy="1790" r="11.1"/><circle cx="669.8" cy="1813.3" r="11.1"/><circle cx="748.8" cy="1813.3" r="11.1"/><circle cx="837.5" cy="1815" r="11.1"/><circle cx="733.4" cy="1817.7" r="11.1"/><circle cx="799.3" cy="1817.7" r="11.1"/><circle cx="702.7" cy="1822.9" r="11.1"/><circle cx="724.7" cy="1831.7" r="11.1"/><circle cx="568.8" cy="1833.9" r="11.1"/><circle cx="630.3" cy="1833.9" r="11.1"/><circle cx="577.4" cy="1834.6" r="11.1"/><circle cx="700.5" cy="1836.1" r="11.1"/><circle cx="643.4" cy="1838.3" r="11.1"/><circle cx="597.3" cy="1840.5" r="11.1"/><circle cx="617.1" cy="1840.5" r="11.1"/><circle cx="678.6" cy="1842.7" r="11.1"/><circle cx="713.7" cy="1844.9" r="11.1"/><circle cx="720.3" cy="1844.9" r="11.1"/><circle cx="513.7" cy="1845.6" r="11.1"/><circle cx="562" cy="1845.6" r="11.1"/><circle cx="672" cy="1847.1" r="11.1"/><circle cx="634.6" cy="1849.3" r="11.1"/><circle cx="661" cy="1851.5" r="11.1"/><circle cx="540" cy="1852.2" r="11.1"/><circle cx="573.2" cy="1853.7" r="11.1"/><circle cx="621.5" cy="1853.7" r="11.1"/><circle cx="647.8" cy="1853.7" r="11.1"/><circle cx="592.9" cy="1855.9" r="11.1"/><circle cx="702.7" cy="1855.9" r="11.1"/><circle cx="478.6" cy="1856.6" r="11.1"/><circle cx="500.5" cy="1858.8" r="11.1"/><circle cx="553.2" cy="1861" r="11.1"/><circle cx="586.3" cy="1862.5" r="11.1"/><circle cx="575.2" cy="1863.2" r="11.1"/><circle cx="654.4" cy="1864.7" r="11.1"/><circle cx="432.5" cy="1865.4" r="11.1"/><circle cx="625.9" cy="1866.8" r="11.1"/><circle cx="439.1" cy="1867.6" r="11.1"/><circle cx="608.3" cy="1869" r="11.1"/><circle cx="520.3" cy="1869.8" r="11.1"/><circle cx="535.7" cy="1869.8" r="11.1"/><circle cx="566.4" cy="1869.8" r="11.1"/><circle cx="414.9" cy="1874.2" r="11.1"/><circle cx="639" cy="1875.6" r="11.1"/><circle cx="498.3" cy="1876.4" r="11.1"/><circle cx="447.8" cy="1878.6" r="11.1"/><circle cx="469.8" cy="1878.6" r="11.1"/><circle cx="548.8" cy="1878.6" r="11.1"/><circle cx="327.1" cy="1885.1" r="11.1"/><circle cx="487.4" cy="1885.1" r="11.1"/><circle cx="531.3" cy="1885.1" r="11.1"/><circle cx="311.7" cy="1888.2" r="11.1"/><circle cx="382.9" cy="1888.2" r="11.1"/><circle cx="403.9" cy="1889.5" r="11.1"/><circle cx="439.1" cy="1889.5" r="11.1"/><circle cx="456.6" cy="1889.5" r="11.1"/><circle cx="493.9" cy="1891.7" r="11.1"/><circle cx="363.5" cy="1893.9" r="11.1"/><circle cx="518.1" cy="1893.9" r="11.1"/><circle cx="421.5" cy="1898.3" r="11.1"/><circle cx="344.7" cy="1899.6" r="11.1"/><circle cx="313.9" cy="1902.7" r="11.1"/><circle cx="397.3" cy="1902.7" r="11.1"/><circle cx="329.3" cy="1904.9" r="11.1"/><circle cx="432.5" cy="1907.1" r="11.1"/><circle cx="375.4" cy="1909.3" r="11.1"/><circle cx="408.3" cy="1909.3" r="11.1"/><circle cx="274.4" cy="1911.5" r="11.1"/><circle cx="289.8" cy="1911.5" r="11.1"/><circle cx="360" cy="1911.5" r="11.1"/><circle cx="386.4" cy="1913.7" r="11.1"/><circle cx="341.6" cy="1915.9" r="11.1"/><circle cx="311.7" cy="1918.1" r="11.1"/><circle cx="255.5" cy="1921.6" r="11.1"/><circle cx="202.8" cy="1922.5" r="11.1"/><circle cx="327.1" cy="1923.3" r="11.1"/><circle cx="293.3" cy="1924.7" r="11.1"/><circle cx="273.1" cy="1926.8" r="11.1"/><circle cx="263.4" cy="1932.1" r="11.1"/><circle cx="214.2" cy="1935.6" r="11.1"/><circle cx="236.2" cy="1936.5" r="11.1"/><circle cx="189.7" cy="1937.8" r="11.1"/></g><g fill="url(#gb)"><circle cx="436.6" cy="2058.5" r="10.7"/><circle cx="445.9" cy="2052.3" r="10.7"/><circle cx="342.7" cy="2055.3" r="10.7"/><circle cx="482.8" cy="2057.1" r="10.7"/><circle cx="381.6" cy="2071.5" r="10.7"/><circle cx="407" cy="2058" r="10.7"/><circle cx="569.5" cy="2052.7" r="10.7"/><circle cx="503.8" cy="2046.3" r="10.7"/><circle cx="376.4" cy="2061" r="10.7"/><circle cx="355.1" cy="2071.5" r="10.7"/><circle cx="531.4" cy="2048.4" r="10.7"/><circle cx="564" cy="2033.9" r="10.7"/><circle cx="425.4" cy="2055.1" r="10.7"/><circle cx="398.7" cy="2059.5" r="10.7"/><circle cx="388" cy="2061.7" r="10.7"/><circle cx="328" cy="2066.2" r="10.7"/><circle cx="573.3" cy="2040" r="10.7"/><circle cx="364.4" cy="2065.3" r="10.7"/><circle cx="347" cy="2070.7" r="10.7"/><circle cx="555.5" cy="2035.5" r="10.7"/><circle cx="462.6" cy="2055.5" r="10.7"/><circle cx="446.3" cy="2062.1" r="10.7"/><circle cx="423" cy="2045.2" r="10.7"/><circle cx="475.3" cy="2052.8" r="10.7"/><circle cx="533.1" cy="2036.5" r="10.7"/><circle cx="625.9" cy="2028" r="10.7"/><circle cx="666.7" cy="2021.6" r="10.7"/><circle cx="648.3" cy="2035.2" r="10.7"/><circle cx="601.7" cy="2039.5" r="10.7"/><circle cx="647.8" cy="2020" r="10.7"/><circle cx="580.4" cy="2018.8" r="10.7"/><circle cx="585.7" cy="2029.7" r="10.7"/><circle cx="631.7" cy="2020.5" r="10.7"/><circle cx="614.7" cy="2022.9" r="10.7"/><circle cx="657.9" cy="2019.8" r="10.7"/><circle cx="611.8" cy="2043" r="10.7"/><circle cx="610" cy="2033.5" r="10.7"/><circle cx="943.3" cy="1959.1" r="10.7"/><circle cx="923.6" cy="1975.7" r="10.7"/><circle cx="795.8" cy="1987.6" r="10.7"/><circle cx="720.3" cy="1989.8" r="10.7"/><circle cx="833.5" cy="1990.7" r="10.7"/><circle cx="901.6" cy="1990.7" r="10.7"/><circle cx="704.9" cy="1992" r="10.7"/><circle cx="726.8" cy="1998.6" r="10.7"/><circle cx="643.4" cy="2003" r="10.7"/><circle cx="654.4" cy="2003" r="10.7"/><circle cx="619.3" cy="2007.4" r="10.7"/><circle cx="702.7" cy="2009.5" r="10.7"/><circle cx="733.4" cy="2009.5" r="10.7"/><circle cx="751" cy="2009.5" r="10.7"/><circle cx="597.3" cy="2011.7" r="10.7"/><circle cx="800.2" cy="2011.7" r="10.7"/><circle cx="586.3" cy="2013.9" r="10.7"/><circle cx="630.3" cy="2013.9" r="10.7"/><circle cx="641.2" cy="2013.9" r="10.7"/><circle cx="744.4" cy="2013.9" r="10.7"/><circle cx="663.2" cy="2016.1" r="10.7"/><circle cx="526.9" cy="2016.9" r="10.7"/><circle cx="612.7" cy="2022.7" r="10.7"/><circle cx="676.4" cy="2022.7" r="10.7"/><circle cx="551" cy="2023.4" r="10.7"/><circle cx="704.9" cy="2024.9" r="10.7"/><circle cx="669.8" cy="2027.1" r="10.7"/><circle cx="410.5" cy="2027.8" r="10.7"/><circle cx="520.3" cy="2027.8" r="10.7"/><circle cx="575.2" cy="2027.8" r="10.7"/><circle cx="540" cy="2034.4" r="10.7"/><circle cx="625.9" cy="2035.9" r="10.7"/><circle cx="680.7" cy="2035.9" r="10.7"/><circle cx="498.3" cy="2036.6" r="10.7"/><circle cx="555.4" cy="2036.6" r="10.7"/><circle cx="599.5" cy="2038.1" r="10.7"/><circle cx="639" cy="2038.1" r="10.7"/><circle cx="395.1" cy="2038.8" r="10.7"/><circle cx="447.8" cy="2038.8" r="10.7"/><circle cx="531.3" cy="2038.8" r="10.7"/><circle cx="363.5" cy="2040.1" r="10.7"/><circle cx="478.6" cy="2041" r="10.7"/><circle cx="511.5" cy="2041" r="10.7"/><circle cx="493.9" cy="2045.4" r="10.7"/><circle cx="544.4" cy="2045.4" r="10.7"/><circle cx="570.8" cy="2045.4" r="10.7"/><circle cx="564.4" cy="2046.9" r="10.7"/><circle cx="586.3" cy="2046.9" r="10.7"/><circle cx="382" cy="2047.6" r="10.7"/><circle cx="408.3" cy="2049.8" r="10.7"/><circle cx="430.3" cy="2049.8" r="10.7"/><circle cx="522.5" cy="2049.8" r="10.7"/><circle cx="454.4" cy="2052" r="10.7"/><circle cx="507.1" cy="2052" r="10.7"/><circle cx="353.4" cy="2054.2" r="10.7"/><circle cx="480.8" cy="2054.2" r="10.7"/><circle cx="559.8" cy="2054.2" r="10.7"/><circle cx="603.9" cy="2055.7" r="10.7"/><circle cx="439.1" cy="2056.4" r="10.7"/><circle cx="305.1" cy="2058.6" r="10.7"/><circle cx="274.4" cy="2063" r="10.7"/><circle cx="322.7" cy="2063" r="10.7"/><circle cx="338.1" cy="2063" r="10.7"/><circle cx="371" cy="2063" r="10.7"/><circle cx="388.6" cy="2063" r="10.7"/><circle cx="403.9" cy="2063" r="10.7"/><circle cx="425.9" cy="2063" r="10.7"/><circle cx="461" cy="2063" r="10.7"/><circle cx="584.1" cy="2064.4" r="10.7"/><circle cx="300.7" cy="2065.2" r="10.7"/><circle cx="577.4" cy="2065.2" r="10.7"/><circle cx="465.4" cy="2071.7" r="10.7"/><circle cx="284.5" cy="2073.9" r="10.7"/><circle cx="412.7" cy="2073.9" r="10.7"/><circle cx="443.4" cy="2073.9" r="10.7"/><circle cx="206.3" cy="2078.3" r="10.7"/><circle cx="373.2" cy="2078.3" r="10.7"/><circle cx="397.3" cy="2078.3" r="10.7"/><circle cx="344.7" cy="2080.5" r="10.7"/><circle cx="248.1" cy="2082.7" r="10.7"/><circle cx="295" cy="2082.7" r="10.7"/><circle cx="327.1" cy="2082.7" r="10.7"/><circle cx="490.4" cy="2084" r="10.7"/><circle cx="227.4" cy="2085.8" r="10.7"/><circle cx="267.8" cy="2085.8" r="10.7"/><circle cx="221.7" cy="2106" r="10.7"/></g><g fill="url(#gr)"><circle cx="403.1" cy="2253" r="10.7"/><circle cx="411.6" cy="2251.8" r="10.7"/><circle cx="381" cy="2260.3" r="10.7"/><circle cx="302.1" cy="2251.8" r="10.7"/><circle cx="473.7" cy="2242.9" r="10.7"/><circle cx="314.4" cy="2260.3" r="10.7"/><circle cx="515.7" cy="2246" r="10.7"/><circle cx="384.1" cy="2250.6" r="10.7"/><circle cx="349.2" cy="2261.8" r="10.7"/><circle cx="504.5" cy="2248.9" r="10.7"/><circle cx="565.7" cy="2245.3" r="10.7"/><circle cx="331.4" cy="2248.6" r="10.7"/><circle cx="539.1" cy="2243" r="10.7"/><circle cx="328.8" cy="2257.5" r="10.7"/><circle cx="568.6" cy="2237.6" r="10.7"/><circle cx="444.2" cy="2245.6" r="10.7"/><circle cx="488.8" cy="2242" r="10.7"/><circle cx="489.6" cy="2257.8" r="10.7"/><circle cx="534.6" cy="2260.3" r="10.7"/><circle cx="528.1" cy="2245.8" r="10.7"/><circle cx="367.2" cy="2249.5" r="10.7"/><circle cx="456.4" cy="2256.9" r="10.7"/><circle cx="438.8" cy="2236.8" r="10.7"/><circle cx="482.1" cy="2249.9" r="10.7"/><circle cx="524.4" cy="2235" r="10.7"/><circle cx="568.6" cy="2232.7" r="10.7"/><circle cx="612.8" cy="2243.1" r="10.7"/><circle cx="626" cy="2254.7" r="10.7"/><circle cx="619" cy="2232.9" r="10.7"/><circle cx="653.4" cy="2230.9" r="10.7"/><circle cx="579.7" cy="2243.3" r="10.7"/><circle cx="619.6" cy="2248.4" r="10.7"/><circle cx="676" cy="2248.1" r="10.7"/><circle cx="643.7" cy="2255.4" r="10.7"/><circle cx="584.5" cy="2235.7" r="10.7"/><circle cx="934.1" cy="2183.9" r="10.7"/><circle cx="792.7" cy="2211.1" r="10.7"/><circle cx="406.1" cy="2211.5" r="10.7"/><circle cx="720.3" cy="2211.6" r="10.7"/><circle cx="702.7" cy="2214.7" r="10.7"/><circle cx="375.4" cy="2218.1" r="10.7"/><circle cx="421.5" cy="2218.1" r="10.7"/><circle cx="531.3" cy="2218.1" r="10.7"/><circle cx="913.9" cy="2218.2" r="10.7"/><circle cx="601.7" cy="2219" r="10.7"/><circle cx="632.4" cy="2219" r="10.7"/><circle cx="654.4" cy="2219" r="10.7"/><circle cx="726.8" cy="2219" r="10.7"/><circle cx="828.7" cy="2222.1" r="10.7"/><circle cx="558.5" cy="2222.4" r="10.7"/><circle cx="590.7" cy="2223.4" r="10.7"/><circle cx="535.7" cy="2224.6" r="10.7"/><circle cx="663.2" cy="2225.6" r="10.7"/><circle cx="335.9" cy="2226.8" r="10.7"/><circle cx="614.9" cy="2227.8" r="10.7"/><circle cx="700.5" cy="2227.8" r="10.7"/><circle cx="406.1" cy="2229" r="10.7"/><circle cx="643.4" cy="2230" r="10.7"/><circle cx="362.2" cy="2233.4" r="10.7"/><circle cx="393" cy="2233.4" r="10.7"/><circle cx="450" cy="2233.4" r="10.7"/><circle cx="461" cy="2233.4" r="10.7"/><circle cx="526.9" cy="2233.4" r="10.7"/><circle cx="748.8" cy="2234.4" r="10.7"/><circle cx="630.3" cy="2236.6" r="10.7"/><circle cx="731.2" cy="2236.6" r="10.7"/><circle cx="487.4" cy="2237.8" r="10.7"/><circle cx="544.4" cy="2237.8" r="10.7"/><circle cx="562" cy="2237.8" r="10.7"/><circle cx="603.9" cy="2238.8" r="10.7"/><circle cx="290.6" cy="2240" r="10.7"/><circle cx="353.4" cy="2240" r="10.7"/><circle cx="498.3" cy="2240" r="10.7"/><circle cx="317" cy="2242.2" r="10.7"/><circle cx="368.8" cy="2242.2" r="10.7"/><circle cx="515.9" cy="2242.2" r="10.7"/><circle cx="892.4" cy="2242.3" r="10.7"/><circle cx="592.9" cy="2243.2" r="10.7"/><circle cx="625.9" cy="2243.2" r="10.7"/><circle cx="658.8" cy="2243.2" r="10.7"/><circle cx="669.8" cy="2243.2" r="10.7"/><circle cx="419.3" cy="2244.4" r="10.7"/><circle cx="439.1" cy="2244.4" r="10.7"/><circle cx="553.2" cy="2244.4" r="10.7"/><circle cx="577.4" cy="2244.4" r="10.7"/><circle cx="469.8" cy="2246.6" r="10.7"/><circle cx="340.3" cy="2248.8" r="10.7"/><circle cx="463.2" cy="2248.8" r="10.7"/><circle cx="500.5" cy="2248.8" r="10.7"/><circle cx="296.4" cy="2251" r="10.7"/><circle cx="796.2" cy="2251.1" r="10.7"/><circle cx="224.8" cy="2251.9" r="10.7"/><circle cx="672" cy="2252" r="10.7"/><circle cx="744.4" cy="2252.9" r="10.7"/><circle cx="285.4" cy="2253.2" r="10.7"/><circle cx="399.5" cy="2253.2" r="10.7"/><circle cx="447.8" cy="2253.2" r="10.7"/><circle cx="386.4" cy="2254.5" r="10.7"/><circle cx="425.9" cy="2255.4" r="10.7"/><circle cx="487.4" cy="2255.4" r="10.7"/><circle cx="566.4" cy="2255.4" r="10.7"/><circle cx="628.1" cy="2256.4" r="10.7"/><circle cx="265.6" cy="2257.6" r="10.7"/><circle cx="414.9" cy="2257.6" r="10.7"/><circle cx="513.7" cy="2257.6" r="10.7"/><circle cx="658.8" cy="2258.6" r="10.7"/><circle cx="531.3" cy="2259.8" r="10.7"/><circle cx="680.7" cy="2259.9" r="10.7"/><circle cx="645.6" cy="2260.8" r="10.7"/><circle cx="303.8" cy="2262" r="10.7"/><circle cx="548.8" cy="2262" r="10.7"/><circle cx="245" cy="2263.3" r="10.7"/><circle cx="705.8" cy="2263.8" r="10.7"/><circle cx="292" cy="2264.2" r="10.7"/><circle cx="456.6" cy="2264.2" r="10.7"/><circle cx="592.9" cy="2265.1" r="10.7"/><circle cx="436.9" cy="2268.6" r="10.7"/><circle cx="357.8" cy="2272.9" r="10.7"/><circle cx="608.3" cy="2273.9" r="10.7"/><circle cx="421.5" cy="2275.1" r="10.7"/><circle cx="343.3" cy="2278.2" r="10.7"/><circle cx="385.5" cy="2278.2" r="10.7"/><circle cx="239.3" cy="2279.5" r="10.7"/><circle cx="476.4" cy="2279.5" r="10.7"/><circle cx="408.3" cy="2280.4" r="10.7"/><circle cx="359.1" cy="2281.7" r="10.7"/><circle cx="589.9" cy="2284.9" r="10.7"/><circle cx="500.5" cy="2304.6" r="10.7"/></g><g fill="url(#gr)"><circle cx="1132.5" cy="1509.2" r="13"/></g><g fill="url(#gb)"><circle cx="1132.5" cy="1586" r="12.5"/></g><g fill="url(#gm2)"><circle cx="1132.5" cy="1664.4" r="13"/></g><text transform="matrix(1.0600 0.0000 0.0000 1.0000 1220 1531.6)" font-size="59" font-weight="bold" font-style="normal" text-anchor="start" font-family="'Liberation Sans', sans-serif" fill="#000" >CA05</text><text transform="matrix(1.0600 0.0000 0.0000 1.0000 1220 1604)" font-size="59" font-weight="bold" font-style="normal" text-anchor="start" font-family="'Liberation Sans', sans-serif" fill="#000" >CA50</text><text transform="matrix(1.0600 0.0000 0.0000 1.0000 1220 1684.3)" font-size="59" font-weight="bold" font-style="normal" text-anchor="start" font-family="'Liberation Sans', sans-serif" fill="#000" >CA90</text><text transform="matrix(1.0570 0.0000 0.0000 1.0000 867 1607.6)" font-size="65.7" font-weight="bold" font-style="normal" text-anchor="start" font-family="'Liberation Sans', sans-serif" fill="#000" >λ=1.26</text><text transform="matrix(0.7800 0.2200 -0.0500 1.0000 1080 1771)" font-size="50" font-weight="bold" font-style="normal" text-anchor="middle" font-family="'Liberation Sans', sans-serif" fill="#000" dy="17.9">35</text><text transform="matrix(0.7800 0.2200 -0.0500 1.0000 1073.4 1851.5)" font-size="50" font-weight="bold" font-style="normal" text-anchor="middle" font-family="'Liberation Sans', sans-serif" fill="#000" dy="17.9">30</text><text transform="matrix(0.7800 0.2200 -0.0500 1.0000 1069 1927.4)" font-size="50" font-weight="bold" font-style="normal" text-anchor="middle" font-family="'Liberation Sans', sans-serif" fill="#000" dy="17.9">25</text><text transform="matrix(0.7800 0.2200 -0.0500 1.0000 1062.5 2003)" font-size="50" font-weight="bold" font-style="normal" text-anchor="middle" font-family="'Liberation Sans', sans-serif" fill="#000" dy="17.9">20</text><text transform="matrix(0.7800 0.2200 -0.0500 1.0000 1059 2078.5)" font-size="50" font-weight="bold" font-style="normal" text-anchor="middle" font-family="'Liberation Sans', sans-serif" fill="#000" dy="17.9">15</text><text transform="matrix(0.7800 0.2200 -0.0500 1.0000 1054.6 2152.2)" font-size="50" font-weight="bold" font-style="normal" text-anchor="middle" font-family="'Liberation Sans', sans-serif" fill="#000" dy="17.9">10</text><text transform="matrix(0.7800 0.2200 -0.0500 1.0000 1043 2211)" font-size="50" font-weight="bold" font-style="normal" text-anchor="middle" font-family="'Liberation Sans', sans-serif" fill="#000" dy="17.9">5</text><text transform="matrix(0.7800 0.2200 -0.0500 1.0000 1037 2277)" font-size="50" font-weight="bold" font-style="normal" text-anchor="middle" font-family="'Liberation Sans', sans-serif" fill="#000" dy="17.9">0</text><text transform="matrix(0.4500 0.6200 -0.7500 0.6000 1040 2351)" font-size="44" font-weight="bold" font-style="normal" text-anchor="middle" font-family="'Liberation Sans', sans-serif" fill="#000" dy="15.5">-5</text><g transform="matrix(0.0763 -1.0803 0.9975 0.0705 1100 2409)" font-family="'Liberation Sans','Noto Sans CJK SC',sans-serif" fill="#000"><text x="0" y="0" font-size="43" font-weight="bold" font-style="italic" text-anchor="start">Combustion phase</text><text x="417.3" y="0" font-size="38" font-weight="normal" font-style="normal" text-anchor="middle">（</text><text x="451.7" y="0" font-size="43" font-weight="bold" font-style="italic" text-anchor="middle">°</text><text x="474.9" y="0" font-size="43" font-weight="bold" font-style="italic" text-anchor="middle">C</text><text x="503.6" y="0" font-size="43" font-weight="bold" font-style="italic" text-anchor="middle">A</text><text x="550" y="0" font-size="38" font-weight="normal" font-style="normal" text-anchor="middle">）</text></g><text transform="matrix(1.0000 0.0000 0.0000 1.0000 1203 2171)" font-size="58" font-weight="bold" font-style="normal" text-anchor="middle" font-family="'Liberation Sans', sans-serif" fill="#000" >Z</text><text transform="matrix(0.8586 -0.4066 0.6245 0.6480 91.5 2268.3)" font-size="40" font-weight="bold" font-style="normal" text-anchor="middle" font-family="'Liberation Sans', sans-serif" fill="#000" dy="14.3">65</text><text transform="matrix(0.8586 -0.4066 0.6245 0.6480 145.3 2321.5)" font-size="40" font-weight="bold" font-style="normal" text-anchor="middle" font-family="'Liberation Sans', sans-serif" fill="#000" dy="14.3">60</text><text transform="matrix(0.8586 -0.4066 0.6245 0.6480 203 2380.3)" font-size="40" font-weight="bold" font-style="normal" text-anchor="middle" font-family="'Liberation Sans', sans-serif" fill="#000" dy="14.3">55</text><text transform="matrix(0.8586 -0.4066 0.6245 0.6480 260.5 2440.6)" font-size="40" font-weight="bold" font-style="normal" text-anchor="middle" font-family="'Liberation Sans', sans-serif" fill="#000" dy="14.3">50</text><text transform="matrix(0.8586 -0.4066 0.6245 0.6480 322 2508)" font-size="40" font-weight="bold" font-style="normal" text-anchor="middle" font-family="'Liberation Sans', sans-serif" fill="#000" dy="14.3">45</text><text transform="matrix(0.8586 -0.4066 0.6245 0.6480 389.5 2576.8)" font-size="40" font-weight="bold" font-style="normal" text-anchor="middle" font-family="'Liberation Sans', sans-serif" fill="#000" dy="14.3">40</text><text transform="matrix(0.5690 0.5904 -0.8586 0.4066 189 2453)" font-size="50" font-weight="bold" font-style="normal" text-anchor="middle" font-family="'Liberation Sans', sans-serif" fill="#000" dy="18">PMAX (bar)</text><text transform="matrix(1.0000 0.0000 0.0000 1.0000 96 2524.5)" font-size="61" font-weight="bold" font-style="normal" text-anchor="middle" font-family="'Liberation Sans', sans-serif" fill="#000" >Y</text><text transform="matrix(0.6384 0.6624 -0.7773 0.3681 488.8 2629.7)" font-size="46" font-weight="bold" font-style="normal" text-anchor="middle" font-family="'Liberation Sans', sans-serif" fill="#000" dy="16.5">12</text><text transform="matrix(0.6384 0.6624 -0.7773 0.3681 568.6 2588.4)" font-size="46" font-weight="bold" font-style="normal" text-anchor="middle" font-family="'Liberation Sans', sans-serif" fill="#000" dy="16.5">14</text><text transform="matrix(0.6384 0.6624 -0.7773 0.3681 644.6 2550)" font-size="46" font-weight="bold" font-style="normal" text-anchor="middle" font-family="'Liberation Sans', sans-serif" fill="#000" dy="16.5">16</text><text transform="matrix(0.6384 0.6624 -0.7773 0.3681 720.7 2515.9)" font-size="46" font-weight="bold" font-style="normal" text-anchor="middle" font-family="'Liberation Sans', sans-serif" fill="#000" dy="16.5">18</text><text transform="matrix(0.6384 0.6624 -0.7773 0.3681 793.2 2479.7)" font-size="46" font-weight="bold" font-style="normal" text-anchor="middle" font-family="'Liberation Sans', sans-serif" fill="#000" dy="16.5">20</text><text transform="matrix(0.6384 0.6624 -0.7773 0.3681 862 2444.9)" font-size="46" font-weight="bold" font-style="normal" text-anchor="middle" font-family="'Liberation Sans', sans-serif" fill="#000" dy="16.5">22</text><text transform="matrix(0.6384 0.6624 -0.7773 0.3681 930.9 2408.7)" font-size="46" font-weight="bold" font-style="normal" text-anchor="middle" font-family="'Liberation Sans', sans-serif" fill="#000" dy="16.5">24</text><text transform="matrix(0.6384 0.6624 -0.7773 0.3681 1003.3 2376.1)" font-size="46" font-weight="bold" font-style="normal" text-anchor="middle" font-family="'Liberation Sans', sans-serif" fill="#000" dy="16.5">26</text><text transform="matrix(1.0574 -0.5007 0.5480 0.9038 817 2530)" font-size="43" font-weight="bold" font-style="normal" text-anchor="middle" font-family="'Liberation Sans', sans-serif" fill="#000" dy="13">Crank angle (°CA)</text><text transform="matrix(1.0000 0.0000 0.0000 1.0000 918 2597)" font-size="60" font-weight="bold" font-style="normal" text-anchor="middle" font-family="'Liberation Sans', sans-serif" fill="#000" >X</text></g><text x="708" y="2784.5" font-size="78" font-family="'Liberation Serif','DejaVu Serif',serif">(<tspan font-weight="bold">b</tspan>)</text></g>
<g id="pc"><g filter="url(#bl2)"><g stroke="#bcbcbc" stroke-width="1.4"><line x1="295.9" y1="3091.8" x2="337.9" y2="3798" /><line x1="375.5" y1="3070.8" x2="411.5" y2="3757.4" /><line x1="450.7" y1="3051" x2="481.1" y2="3719" /><line x1="521" y1="3032.4" x2="546.2" y2="3683" /><line x1="585.2" y1="3015.5" x2="605.6" y2="3650.2" /><line x1="680" y1="3001.7" x2="694.2" y2="3624.1" /><line x1="746.8" y1="3007.4" x2="757.3" y2="3636.8" /><line x1="814.2" y1="3013.1" x2="821" y2="3649.6" /><line x1="884.5" y1="3019" x2="887.3" y2="3662.9" /><line x1="1028.5" y1="3031.2" x2="1024" y2="3690.4" /><line x1="1103.7" y1="3037.5" x2="1096" y2="3704.9" /><line x1="1179.5" y1="3043.9" x2="1168" y2="3719.4" /></g><g stroke="#c6c6c6" stroke-width="1.5" stroke-dasharray="4 5"><line x1="213" y1="3136.2" x2="648.4" y2="3023.6" /><line x1="219.5" y1="3235.9" x2="650.6" y2="3105" /><line x1="226" y1="3333.8" x2="652.7" y2="3187.3" /><line x1="232.3" y1="3429" x2="654.8" y2="3268" /><line x1="238.5" y1="3522.6" x2="656.9" y2="3347" /><line x1="244.5" y1="3613.5" x2="658.9" y2="3424" /><line x1="250.4" y1="3703.5" x2="660.9" y2="3499" /><line x1="256.2" y1="3791.3" x2="662.8" y2="3573" /></g><g stroke="#c8c8c8" stroke-width="1.6" stroke-dasharray="11 9"><line x1="648.4" y1="3023.6" x2="1256.9" y2="3072.7" /><line x1="650.6" y1="3105" x2="1254.6" y2="3166.2" /><line x1="652.7" y1="3187.3" x2="1252.3" y2="3257.6" /><line x1="654.8" y1="3268" x2="1250.1" y2="3346.3" /><line x1="656.9" y1="3347" x2="1247.9" y2="3433.2" /><line x1="658.9" y1="3424" x2="1245.7" y2="3521" /><line x1="660.9" y1="3499" x2="1243.6" y2="3606.6" /><line x1="662.8" y1="3573" x2="1241.4" y2="3692.3" /></g><g stroke="#d6d6d6" stroke-width="1.3" stroke-dasharray="4 4"><line x1="299.1" y1="3851" x2="694.2" y2="3624.1" /><line x1="370" y1="3869.7" x2="757.3" y2="3636.8" /><line x1="440.7" y1="3888.2" x2="821" y2="3649.6" /><line x1="511.5" y1="3906.7" x2="887.3" y2="3662.9" /><line x1="586.8" y1="3926.4" x2="954.8" y2="3676.5" /><line x1="666.3" y1="3947.1" x2="1024" y2="3690.4" /><line x1="744.5" y1="3967.5" x2="1096" y2="3704.9" /><line x1="822.7" y1="3988" x2="1168" y2="3719.4" /><line x1="960.1" y1="3957" x2="337.9" y2="3798" /><line x1="1021.4" y1="3907.5" x2="411.5" y2="3757.4" /><line x1="1078.7" y1="3860" x2="481.1" y2="3719" /><line x1="1133.4" y1="3815.3" x2="546.2" y2="3683" /><line x1="1188" y1="3772.5" x2="605.6" y2="3650.2" /></g><line x1="647.8" y1="2999" x2="664" y2="3618" stroke="#999" stroke-width="1.4"/><line x1="647.8" y1="2999" x2="664" y2="3618" stroke="#111" stroke-width="2.2" stroke-dasharray="60 40"/><g stroke="#000" stroke-width="2.4" stroke-dasharray="3.5 5"><line x1="211.5" y1="3114" x2="647.8" y2="2999" /><line x1="259.5" y1="3841.3" x2="664" y2="3618" /><line x1="664" y1="3618" x2="1240.4" y2="3734" /></g><line x1="647.8" y1="2999" x2="1257.5" y2="3050.5" stroke="#000" stroke-width="2.2" stroke-dasharray="13 10"/><line x1="1257.5" y1="3050.5" x2="1240.4" y2="3734" stroke="#000" stroke-width="2.4" stroke-dasharray="36 12"/><g stroke="#000" stroke-width="4.3" stroke-linecap="square"><line x1="211.5" y1="3114" x2="259.5" y2="3841.3" /><line x1="259.5" y1="3841.3" x2="900.8" y2="4008.3" /><line x1="900.8" y1="4008.3" x2="1240.4" y2="3734" /></g><g stroke="#000" stroke-width="3.2"><line x1="299" y1="3851.6" x2="309.1" y2="3843.4" /><line x1="369.9" y1="3870.1" x2="380" y2="3861.9" /><line x1="440.6" y1="3888.5" x2="450.7" y2="3880.3" /><line x1="511.4" y1="3906.9" x2="521.6" y2="3898.7" /><line x1="586.8" y1="3926.5" x2="596.9" y2="3918.4" /><line x1="666.3" y1="3947.2" x2="676.4" y2="3939.1" /><line x1="744.5" y1="3967.6" x2="754.6" y2="3959.4" /><line x1="822.7" y1="3988" x2="832.8" y2="3979.8" /><line x1="334.4" y1="3860.8" x2="340.7" y2="3855.8" /><line x1="405.3" y1="3879.3" x2="411.5" y2="3874.2" /><line x1="476" y1="3897.7" x2="482.3" y2="3892.7" /><line x1="549.1" y1="3916.7" x2="555.3" y2="3911.7" /><line x1="626.5" y1="3936.9" x2="632.7" y2="3931.8" /><line x1="705.4" y1="3957.4" x2="711.6" y2="3952.4" /><line x1="783.6" y1="3977.8" x2="789.8" y2="3972.8" /><line x1="861.8" y1="3998.1" x2="868" y2="3993.1" /><line x1="961.8" y1="3959.1" x2="949.2" y2="3955.8" /><line x1="1023.1" y1="3909.6" x2="1010.5" y2="3906.3" /><line x1="1081" y1="3862.8" x2="1068.4" y2="3859.5" /><line x1="1135.9" y1="3818.4" x2="1123.3" y2="3815.1" /><line x1="1189.9" y1="3774.8" x2="1177.3" y2="3771.5" /><line x1="1240.4" y1="3734" x2="1227.8" y2="3730.7" /><line x1="931.3" y1="3983.7" x2="923.5" y2="3981.7" /><line x1="992.4" y1="3934.3" x2="984.7" y2="3932.3" /><line x1="1052" y1="3886.2" x2="1044.3" y2="3884.2" /><line x1="1108.4" y1="3840.6" x2="1100.7" y2="3838.6" /><line x1="1162.9" y1="3796.6" x2="1155.1" y2="3794.6" /><line x1="1215.1" y1="3754.4" x2="1207.4" y2="3752.4" /><line x1="213" y1="3136.2" x2="226" y2="3132.2" /><line x1="216.3" y1="3186.1" x2="224.3" y2="3183.6" /><line x1="219.5" y1="3235.9" x2="232.5" y2="3231.9" /><line x1="222.8" y1="3284.9" x2="230.8" y2="3282.4" /><line x1="226" y1="3333.8" x2="239" y2="3329.8" /><line x1="229.1" y1="3381.4" x2="237.1" y2="3378.9" /><line x1="232.3" y1="3429" x2="245.3" y2="3425" /><line x1="235.4" y1="3475.8" x2="243.4" y2="3473.3" /><line x1="238.5" y1="3522.6" x2="251.5" y2="3518.6" /><line x1="241.5" y1="3568.1" x2="249.5" y2="3565.6" /><line x1="244.5" y1="3613.5" x2="257.5" y2="3609.5" /><line x1="247.4" y1="3658.5" x2="255.4" y2="3656" /><line x1="250.4" y1="3703.5" x2="263.4" y2="3699.5" /><line x1="253.3" y1="3747.4" x2="261.3" y2="3744.9" /><line x1="256.2" y1="3791.3" x2="269.2" y2="3787.3" /><line x1="258.8" y1="3831.3" x2="266.8" y2="3828.8" /></g></g><g filter="url(#bl)"><g fill="url(#gm)"><circle cx="427.8" cy="3465.9" r="9.5"/></g><g fill="url(#gb)"><circle cx="433.5" cy="3577" r="9.5"/></g><g fill="url(#gr)"><circle cx="441" cy="3730.2" r="9.5"/></g><path d="M488.6 3390.8l-0 3.6M462.7 3413.5l-0 3.6M481.6 3406.6l-0 3.6M568 3310l-0 3.6M435.4 3416.7l-0 3.6M488.5 3387.3l-0 3.6M594.7 3316.4l-0 3.6M455.3 3427.8l-0 3.6M432 3442.9l-0 3.6M483 3409.3l-0 3.6M538.5 3350.9l-0 3.6M461.4 3426.9l-0 3.6M522.3 3337.8l-0 3.6M466.2 3399.1l-0 3.6M555.7 3334.4l-0 3.6M394.5 3457.7l-0 3.6M539.2 3354.9l-0 3.6M381.2 3477.5l-0 3.6M555.7 3320.3l-0 3.6M503.2 3374.4l-0 3.6M434.6 3447.4l-0 3.6M413.7 3480.9l-0 3.6M461.3 3394l-0 3.6M545.1 3353.6l-0 3.6M522.7 3350.3l-0 3.6M506.5 3381.6l-0 3.6M493.2 3392l-0 3.6M586.5 3309.2l-0 3.6M548.6 3327.7l-0 3.6M527.9 3358.9l-0 3.6M600.4 3308.9l-0 3.6M480.9 3377l-0 3.6M553.9 3330.4l-0 3.6M444.5 3427.2l-0 3.6M418.8 3454.6l-0 3.6M467.9 3413l-0 3.6M426.6 3446.6l-0 3.6M533.1 3346.9l-0 3.6M467 3418.8l-0 3.6M462.5 3392.9l-0 3.6M588.1 3315.2l-0 3.6M522.6 3362.1l-0 3.6M522.1 3376.3l-0 3.6M434.5 3443.4l-0 3.6M444.2 3427.2l-0 3.6M415.4 3443.8l-0 3.6M467.6 3400.2l-0 3.6M586.1 3300.5l-0 3.6M537.6 3340.2l-0 3.6M559.3 3327.2l-0 3.6M564.3 3317.7l-0 3.6M576.9 3298.4l-0 3.6M586.5 3308.8l-0 3.6M498 3382.3l-0 3.6M399.6 3469.9l-0 3.6M413.8 3450.9l-0 3.6M387.6 3469.8l-0 3.6M405.7 3450.5l-0 3.6M480.4 3387.9l-0 3.6M516.2 3359.2l-0 3.6M406.9 3464.1l-0 3.6M409.7 3448.9l-0 3.6M424.1 3431.4l-0 3.6M552.5 3307.2l-0 3.6M412.1 3455.4l-0 3.6M537.6 3357.1l-0 3.6M494.6 3407.9l-0 3.6M412.6 3465.4l-0 3.6M520.1 3365.6l-0 3.6M439.4 3432.8l-0 3.6M406.6 3469.4l-0 3.6M554.9 3349.1l-0 3.6M515.1 3361.1l-0 3.6M442.5 3453.5l-0 3.6M394.2 3484.6l-0 3.6M583.1 3301.8l-0 3.6M436.4 3417.5l-0 3.6M596.6 3314.5l-0 3.6M501.4 3364.5l-0 3.6M573.4 3324.7l-0 3.6M381.6 3479.5l-0 3.6M476.3 3401.6l-0 3.6M551 3341.2l-0 3.6M405.1 3475.4l-0 3.6M441 3416.8l-0 3.6M432.9 3430.9l-0 3.6M395.7 3493.3l-0 3.6M557.6 3341.2l-0 3.6M554.1 3335.8l-0 3.6M393.1 3487.7l-0 3.6M396.4 3480.7l-0 3.6M497.6 3394.8l-0 3.6M461.2 3423.6l-0 3.6M571.3 3334.9l-0 3.6M504 3371.5l-0 3.6M516.7 3345.6l-0 3.6M534.3 3337.3l-0 3.6M518.6 3365.6l-0 3.6M419.1 3461.8l-0 3.6M417.6 3444.6l-0 3.6M408.7 3449l-0 3.6M518.3 3377l-0 3.6M479 3389.8l-0 3.6M524.8 3367.6l-0 3.6M463.6 3408.5l-0 3.6M401.1 3465.6l-0 3.6M460.4 3435l-0 3.6M476.4 3398.8l-0 3.6M533.4 3351.1l-0 3.6M511.1 3375.1l-0 3.6M376.8 3475.3l-0 3.6M501.9 3377.4l-0 3.6M380.1 3477.9l-0 3.6M501.9 3374.1l-0 3.6M570.4 3309.8l-0 3.6M546.2 3337.6l-0 3.6M481.5 3380.1l-0 3.6M502.1 3390l-0 3.6M573.8 3311l-0 3.6M451.1 3406.4l-0 3.6M594.2 3304.1l-0 3.6M484.2 3418l-0 3.6M574.6 3295.3l-0 3.6M451.3 3420.5l-0 3.6M430.5 3437.1l-0 3.6M418.1 3461.3l-0 3.6M516.9 3385.9l-0 3.6M405.5 3455.7l-0 3.6M515.5 3371.9l-0 3.6M570.5 3326.6l-0 3.6M414.4 3449l-0 3.6M496.8 3384.9l-0 3.6M547.1 3327.2l-0 3.6M524.2 3366.4l-0 3.6M448.5 3434.8l-0 3.6M391.9 3473.8l-0 3.6M555.7 3337.8l-0 3.6M417.2 3442.9l-0 3.6M537.7 3362.6l-0 3.6M434.6 3427.8l-0 3.6M495.3 3361.6l-0 3.6M531.8 3359.1l-0 3.6M582.9 3319.3l-0 3.6M584.5 3314.3l-0 3.6M470.8 3402.2l-0 3.6M377.6 3468.4l-0 3.6M536.4 3338l-0 3.6M542.7 3327.6l-0 3.6M445.3 3428.9l-0 3.6M494.4 3379.4l-0 3.6M468.3 3411.5l-0 3.6M468.5 3410.4l-0 3.6M570.6 3319.6l-0 3.6M467.6 3406.2l-0 3.6M443.6 3422.9l-0 3.6M513.9 3369.9l-0 3.6M572.4 3298.4l-0 3.6M476.5 3410.6l-0 3.6M530.6 3364.8l-0 3.6M455.6 3417.4l-0 3.6M410.9 3449.3l-0 3.6M506.4 3375.5l-0 3.6M574.2 3321.5l-0 3.6M419.6 3474.8l-0 3.6M401 3474.8l-0 3.6M400.6 3483.7l-0 3.6M581.1 3302.2l-0 3.6M407.9 3455l-0 3.6M531.2 3354.4l-0 3.6M558 3315.1l-0 3.6M412.9 3480.4l-0 3.6M473.9 3394.4l-0 3.6M535.3 3332.8l-0 3.6M510.8 3346.8l-0 3.6M465.7 3412.1l-0 3.6M517.3 3362l-0 3.6M514.7 3351.4l-0 3.6M475.3 3420.4l-0 3.6M409.5 3474l-0 3.6M516.9 3382.4l-0 3.6M528 3356.1l-0 3.6M470.5 3410.7l-0 3.6M501.4 3383.6l-0 3.6M537 3340l-0 3.6M533.9 3330.2l-0 3.6M439.3 3422.3l-0 3.6M513.1 3379.2l-0 3.6M471.1 3403.9l-0 3.6M586.4 3293.4l-0 3.6M434.6 3435.6l-0 3.6M397.6 3478.3l-0 3.6M385.9 3467.8l-0 3.6M554.2 3326l-0 3.6M517.8 3353l-0 3.6M537.5 3353.4l-0 3.6M495 3400.4l-0 3.6M460.6 3405l-0 3.6M545.9 3328.6l-0 3.6M554.6 3348.3l-0 3.6M445.1 3433l-0 3.6M531.9 3355.9l-0 3.6M516.1 3356.2l-0 3.6M381.8 3474.4l-0 3.6M507.4 3360.2l-0 3.6M554.7 3351.2l-0 3.6M390.4 3476l-0 3.6M456.8 3428.6l-0 3.6M549.5 3326.6l-0 3.6M446.5 3431.4l-0 3.6M566.3 3329.8l-0 3.6M351 3503.6l-0 3.6M372.1 3503.6l-0 3.6M293.9 3571.6l-0 3.6M375.1 3454.4l-0 3.6M388.3 3492.6l-0 3.6M480.4 3041.5l-0 3.6M623.2 3193.7l-0 3.6M620.3 3208.2l-0 3.6M625.4 3204.6l-0 3.6M592.8 3237.2l-0 3.6M607.2 3240.8l-0 3.6M621.7 3244.4l-0 3.6M596.4 3258.9l-0 3.6M600 3269.8l-0 3.6M614.5 3269.8l-0 3.6M623.2 3255.3l-0 3.6M598 3280.2l-0 3.6M610 3288.2l-0 3.6" stroke="#ff20e8" stroke-width="6.4" stroke-linecap="round" fill="none"/><path d="M421 3564.4l-0 2.4M621.9 3383.7l-0 2.4M550.7 3446.2l-0 2.4M490.1 3499.7l-0 2.4M460.3 3528.4l-0 2.4M405.9 3576.7l-0 2.4M504.1 3486.9l-0 2.4M385.6 3595.1l-0 2.4M517.1 3478l-0 2.4M492.8 3498.9l-0 2.4M604.6 3395l-0 2.4M460.6 3532.7l-0 2.4M456.3 3528.3l-0 2.4M416 3569.2l-0 2.4M613.5 3385.3l-0 2.4M608.9 3395.2l-0 2.4M460.4 3531.6l-0 2.4M549.5 3448.8l-0 2.4M497.6 3494.6l-0 2.4M484.2 3505.9l-0 2.4M588.1 3409.2l-0 2.4M493.9 3497.7l-0 2.4M555.2 3442.3l-0 2.4M476.6 3517.5l-0 2.4M545.5 3448l-0 2.4M553 3441.8l-0 2.4M491.1 3500.3l-0 2.4M599.6 3398.4l-0 2.4M448.1 3539.3l-0 2.4M565 3432.8l-0 2.4M554.6 3443.9l-0 2.4M542.9 3450.2l-0 2.4M607.1 3394.8l-0 2.4M579.7 3418.7l-0 2.4M455.8 3532.8l-0 2.4M404.9 3580l-0 2.4M472.7 3518.1l-0 2.4M553.8 3446.1l-0 2.4M456.4 3533.7l-0 2.4M605.4 3394.5l-0 2.4M481.2 3509.6l-0 2.4M394.1 3585.7l-0 2.4M598.7 3398.5l-0 2.4M566.4 3435.7l-0 2.4M604.7 3400.1l-0 2.4M617 3386.9l-0 2.4M402.3 3582.4l-0 2.4M489.8 3502.5l-0 2.4M480.7 3509.3l-0 2.4M438.2 3550.9l-0 2.4M514.3 3480.8l-0 2.4M571.2 3427.1l-0 2.4M457.5 3532.5l-0 2.4M594.9 3406.2l-0 2.4M468.7 3522.9l-0 2.4M404.7 3577.7l-0 2.4M484.3 3507.9l-0 2.4M412.6 3568.6l-0 2.4M618 3384.2l-0 2.4M560.7 3438l-0 2.4M589.9 3413.9l-0 2.4M506.4 3486.2l-0 2.4M390.6 3589.8l-0 2.4M479 3509.5l-0 2.4M440.5 3546l-0 2.4M460.4 3529.6l-0 2.4M590 3409.6l-0 2.4M411.9 3574.7l-0 2.4M509.8 3483.2l-0 2.4M509.6 3485.1l-0 2.4M566.7 3430.8l-0 2.4M586.7 3415.8l-0 2.4M619.2 3384l-0 2.4M489.4 3504.4l-0 2.4M547 3448.8l-0 2.4M454.7 3530.7l-0 2.4M464.8 3524.9l-0 2.4M444.6 3544.6l-0 2.4M464.5 3528.1l-0 2.4M510.4 3480.8l-0 2.4M431.6 3557.1l-0 2.4M454.9 3531.8l-0 2.4M576.6 3421.3l-0 2.4M606.9 3395.2l-0 2.4M386.4 3596.3l-0 2.4M593.4 3406.4l-0 2.4M613.2 3389.5l-0 2.4M442.8 3547.3l-0 2.4M544.5 3450.9l-0 2.4M483.1 3506.5l-0 2.4M539.1 3457.4l-0 2.4M623.9 3381.7l-0 2.4M593.1 3408.2l-0 2.4M492.9 3499.2l-0 2.4M407 3578.3l-0 2.4M452.8 3532l-0 2.4M555.1 3442.3l-0 2.4M545.2 3450.3l-0 2.4M590.7 3405.9l-0 2.4M585.5 3410.6l-0 2.4M515.5 3482.3l-0 2.4M613 3391l-0 2.4M519.2 3475l-0 2.4M472 3516.2l-0 2.4M488 3504.7l-0 2.4M453.9 3534.1l-0 2.4M507.9 3488.1l-0 2.4M475.3 3516.4l-0 2.4M417.9 3569.1l-0 2.4M510 3482.7l-0 2.4M618.2 3386.3l-0 2.4M481.9 3506.3l-0 2.4M558.4 3441.9l-0 2.4M536.9 3455.6l-0 2.4M539.9 3453.2l-0 2.4M487.8 3503.6l-0 2.4M597.6 3401.5l-0 2.4M536.6 3457.5l-0 2.4M407.8 3573.3l-0 2.4M452.9 3538.9l-0 2.4M507.5 3488.1l-0 2.4M534.3 3464.3l-0 2.4M544.4 3452.2l-0 2.4M494.2 3498.1l-0 2.4M453.2 3533.5l-0 2.4M486.9 3507.5l-0 2.4M478.3 3510.9l-0 2.4M431.6 3554.7l-0 2.4M500.1 3490.3l-0 2.4M616.2 3385.8l-0 2.4M481.6 3509.9l-0 2.4M623.1 3377.9l-0 2.4M573.5 3427l-0 2.4M546.4 3449.5l-0 2.4M467.3 3523.3l-0 2.4M414.7 3569.9l-0 2.4M420.4 3565.4l-0 2.4M468.9 3519l-0 2.4M502.5 3491.6l-0 2.4M419.1 3566.8l-0 2.4M498.8 3491.2l-0 2.4M450 3533.6l-0 2.4M551 3445.5l-0 2.4M443.7 3543.2l-0 2.4M440.7 3545.1l-0 2.4M445.8 3542.9l-0 2.4M573.6 3422.2l-0 2.4M580.4 3417.9l-0 2.4M574 3424.6l-0 2.4M578.8 3416.7l-0 2.4M428.5 3555.6l-0 2.4M548.5 3446.2l-0 2.4M611.1 3390.9l-0 2.4M452.5 3534.2l-0 2.4M599.4 3404.5l-0 2.4M412.9 3571l-0 2.4M480.8 3510.1l-0 2.4M424.6 3562l-0 2.4M614.9 3384.8l-0 2.4M559.6 3439.1l-0 2.4M437.9 3552.5l-0 2.4M410.3 3575.6l-0 2.4M434.2 3551.5l-0 2.4M452.4 3535l-0 2.4M530.8 3467.5l-0 2.4M522.5 3471.9l-0 2.4M510 3485.4l-0 2.4M548.5 3448.8l-0 2.4M469.9 3522.6l-0 2.4M546.3 3452l-0 2.4M498.2 3494.3l-0 2.4M495.7 3498.4l-0 2.4M565.6 3429.8l-0 2.4M460.8 3526.6l-0 2.4M456.5 3530.6l-0 2.4M463.2 3525.2l-0 2.4M553.1 3443.2l-0 2.4M565.6 3430.9l-0 2.4M444.9 3541.4l-0 2.4M466.5 3522.8l-0 2.4M460.6 3526.7l-0 2.4M548.3 3444.2l-0 2.4M581.4 3418.1l-0 2.4M423.8 3560.3l-0 2.4M563.2 3434.1l-0 2.4M560.3 3435.8l-0 2.4M500.1 3489.7l-0 2.4M610.4 3394l-0 2.4M483.2 3507.3l-0 2.4M451 3537.6l-0 2.4M579.6 3421.7l-0 2.4M563.3 3431.8l-0 2.4M433.3 3553.5l-0 2.4M573.5 3425.8l-0 2.4M452.8 3532.6l-0 2.4M578.9 3420.9l-0 2.4M530.9 3465.8l-0 2.4M414.9 3573.4l-0 2.4M511.1 3484.9l-0 2.4M566.1 3431.4l-0 2.4M512.4 3480.7l-0 2.4M482.3 3510.8l-0 2.4M504.1 3486.1l-0 2.4M416.6 3567.7l-0 2.4M487.3 3506.2l-0 2.4M480.5 3508.2l-0 2.4M435.9 3548.9l-0 2.4M575 3423.8l-0 2.4M414.9 3572.1l-0 2.4M407.5 3573.7l-0 2.4M491.5 3501.7l-0 2.4M395.2 3586.3l-0 2.4M591.3 3405.6l-0 2.4M452.7 3536.5l-0 2.4M424.6 3559.1l-0 2.4M565.8 3431.8l-0 2.4M438.1 3548.2l-0 2.4M499.3 3489.6l-0 2.4M501.7 3490.6l-0 2.4M516.7 3476.5l-0 2.4M573.5 3421.7l-0 2.4M444.3 3546.9l-0 2.4M577.9 3420.2l-0 2.4M425.1 3560.5l-0 2.4M494.7 3497.2l-0 2.4M444.4 3540.9l-0 2.4M468 3524.6l-0 2.4M435.1 3553l-0 2.4M526.6 3468.5l-0 2.4M422.7 3562.4l-0 2.4M494.9 3497l-0 2.4M473.7 3512.6l-0 2.4M532.8 3459.2l-0 2.4M414.6 3566.6l-0 2.4M557.6 3434.9l-0 2.4M461.3 3527.2l-0 2.4M440.2 3545.8l-0 2.4M388.5 3592.7l-0 2.4M578.7 3418l-0 2.4M388.6 3596.3l-0 2.4M514.3 3479.2l-0 2.4M602.1 3401.2l-0 2.4M487 3504.8l-0 2.4M420.6 3565.2l-0 2.4M562.8 3435.2l-0 2.4M483.9 3508.7l-0 2.4M566.2 3429.9l-0 2.4M407.9 3578.4l-0 2.4M439.7 3549.7l-0 2.4M621.3 3382.6l-0 2.4M616.7 3389.5l-0 2.4M395.5 3589.3l-0 2.4M429.6 3558.1l-0 2.4M504.6 3483.8l-0 2.4M402.4 3582.2l-0 2.4M495.2 3498l-0 2.4M502.3 3489.4l-0 2.4M590 3406.6l-0 2.4M521.4 3468.6l-0 2.4M484.2 3506.3l-0 2.4M504.5 3487.9l-0 2.4M490 3503.2l-0 2.4M407 3578.9l-0 2.4M505.5 3483.7l-0 2.4M443.9 3540.6l-0 2.4M471.1 3516.5l-0 2.4M564.9 3432.7l-0 2.4M418.3 3570.2l-0 2.4M572 3423.3l-0 2.4M450.1 3537.1l-0 2.4M587.3 3415.4l-0 2.4M583.9 3414.6l-0 2.4M511.9 3481.3l-0 2.4M467.1 3522.9l-0 2.4M546.5 3449.1l-0 2.4M485.6 3507.9l-0 2.4M533.1 3459.4l-0 2.4M406 3581.4l-0 2.4M451.7 3539.4l-0 2.4M579.6 3418.1l-0 2.4M569.5 3427.9l-0 2.4M577.3 3419.7l-0 2.4M549.3 3448l-0 2.4M439.8 3548.3l-0 2.4M583.5 3418.6l-0 2.4M495 3497.9l-0 2.4M522.7 3470.2l-0 2.4M451.8 3537.4l-0 2.4M607.7 3393.8l-0 2.4M532.6 3460.2l-0 2.4M628.1 3376.8l-0 2.4M543.7 3454.2l-0 2.4M481.6 3509.1l-0 2.4M414.5 3571l-0 2.4M488.6 3506.9l-0 2.4M479.5 3514.2l-0 2.4M413 3570l-0 2.4M492.2 3500.4l-0 2.4M489.8 3501.7l-0 2.4M568.5 3431.6l-0 2.4M462 3525l-0 2.4M560.5 3437.4l-0 2.4M431.6 3553.5l-0 2.4M603.8 3396l-0 2.4M470.8 3521.5l-0 2.4M447 3537.3l-0 2.4M392.7 3588.1l-0 2.4M590.2 3408.1l-0 2.4M451.4 3535.4l-0 2.4M494.4 3499.5l-0 2.4M435.4 3550.4l-0 2.4M454.8 3535.1l-0 2.4M622.2 3379.3l-0 2.4M408.4 3572.5l-0 2.4M448.6 3536.5l-0 2.4M595.1 3406.1l-0 2.4M474.5 3513.3l-0 2.4M568.1 3431.9l-0 2.4M536 3461.7l-0 2.4M459.1 3528.6l-0 2.4M493.8 3495.7l-0 2.4M528 3468.9l-0 2.4M394.9 3585.2l-0 2.4M540.3 3459l-0 2.4M438 3549.4l-0 2.4M624 3379.7l-0 2.4M523.8 3468.2l-0 2.4M607.6 3391.7l-0 2.4M458.3 3527.4l-0 2.4M473.9 3515.5l-0 2.4M380.8 3565.6l-0 2.4M377.3 3605.2l-0 2.4M355.4 3621.9l-0 2.4M300.5 3671l-0 2.4M629 3321.1l-0 2.4M629 3335.6l-0 2.4M629 3367.8l-0 2.4M628 3360.8l-0 2.4M629 3353.8l-0 2.4" stroke="#0808e8" stroke-width="5.6" stroke-linecap="round" fill="none"/><path d="M503.5 3654.2l-0 3.6M476.1 3672.7l-0 3.6M437.2 3708.9l-0 3.6M403.5 3726.9l-0 3.6M573.7 3600.7l-0 3.6M590.6 3581.8l-0 3.6M430.3 3710.2l-0 3.6M560.6 3608.8l-0 3.6M437.4 3710.3l-0 3.6M498 3666l-0 3.6M466.3 3686l-0 3.6M553.5 3617.6l-0 3.6M594.1 3576.8l-0 3.6M575 3601.9l-0 3.6M539.3 3626.9l-0 3.6M490.5 3668l-0 3.6M447.9 3692.1l-0 3.6M527.8 3631.2l-0 3.6M451 3698.3l-0 3.6M539.4 3621.1l-0 3.6M607.4 3571.2l-0 3.6M522.6 3640.9l-0 3.6M400.1 3737.5l-0 3.6M551.1 3606.5l-0 3.6M494.9 3662.3l-0 3.6M407.7 3730.2l-0 3.6M509.5 3650.1l-0 3.6M530.4 3634.1l-0 3.6M407.1 3727.1l-0 3.6M430.8 3711.4l-0 3.6M408.4 3740.9l-0 3.6M538.2 3630.3l-0 3.6M405.1 3729.4l-0 3.6M423.3 3724.3l-0 3.6M449.3 3703.4l-0 3.6M541.2 3633.4l-0 3.6M520.5 3651.6l-0 3.6M453.4 3686.4l-0 3.6M553.9 3619.5l-0 3.6M609.3 3565.7l-0 3.6M473.4 3680.4l-0 3.6M599 3582.4l-0 3.6M554.9 3620.7l-0 3.6M548.5 3630.5l-0 3.6M548.9 3615.4l-0 3.6M603.1 3579.9l-0 3.6M459.3 3691.7l-0 3.6M537 3623.4l-0 3.6M447.2 3700.5l-0 3.6M551.6 3628.1l-0 3.6M466.6 3688l-0 3.6M511 3647.4l-0 3.6M435.9 3704.6l-0 3.6M496.1 3668.6l-0 3.6M512.2 3660l-0 3.6M600.7 3572l-0 3.6M406.4 3731.6l-0 3.6M408.8 3725.7l-0 3.6M575.5 3594.1l-0 3.6M583.4 3589.8l-0 3.6M602.3 3586.4l-0 3.6M526.3 3645.9l-0 3.6M513.4 3651.5l-0 3.6M439.3 3707.3l-0 3.6M567.6 3608.6l-0 3.6M487.3 3668.1l-0 3.6M536.5 3621.1l-0 3.6M405 3731.4l-0 3.6M461.4 3693.1l-0 3.6M397.6 3740.3l-0 3.6M441.5 3704.2l-0 3.6M491.8 3662.6l-0 3.6M503.3 3651.9l-0 3.6M566.8 3608.9l-0 3.6M544.2 3631.2l-0 3.6M581.3 3594.4l-0 3.6M415.2 3721.9l-0 3.6M462.5 3691.6l-0 3.6M414.1 3728.9l-0 3.6M613.9 3567.9l-0 3.6M454.4 3693.7l-0 3.6M537.3 3623.3l-0 3.6M585.6 3593.2l-0 3.6M495.8 3659l-0 3.6M413.4 3725.9l-0 3.6M493.7 3664.8l-0 3.6M545.3 3623.6l-0 3.6M442.3 3701.2l-0 3.6M426.7 3713.1l-0 3.6M553.4 3619.6l-0 3.6M418.2 3714.6l-0 3.6M591.7 3591.6l-0 3.6M575 3604.9l-0 3.6M410.4 3726.9l-0 3.6M453.7 3698l-0 3.6M544.7 3620.9l-0 3.6M503.9 3651.5l-0 3.6M522.9 3631.2l-0 3.6M552.4 3613.8l-0 3.6M503.2 3651.7l-0 3.6M525 3640.7l-0 3.6M519.6 3645.9l-0 3.6M578.2 3595.5l-0 3.6M462.8 3689.8l-0 3.6M501.3 3659.7l-0 3.6M415.7 3730.2l-0 3.6M573.2 3595.5l-0 3.6M431.7 3713.7l-0 3.6M593.9 3586.4l-0 3.6M514.2 3647.4l-0 3.6M600.8 3581.4l-0 3.6M598.9 3580.3l-0 3.6M609.5 3572.9l-0 3.6M419.4 3715.6l-0 3.6M614.1 3573.2l-0 3.6M564.3 3599.5l-0 3.6M411.2 3730.6l-0 3.6M591.1 3577l-0 3.6M604.6 3578.5l-0 3.6M448.4 3699.7l-0 3.6M475.1 3679.2l-0 3.6M540.7 3622.1l-0 3.6M506.5 3655.1l-0 3.6M462 3682.8l-0 3.6M472.3 3684.1l-0 3.6M536.3 3633.6l-0 3.6M586 3589l-0 3.6M513.5 3637.7l-0 3.6M447.5 3703.8l-0 3.6M541 3624.5l-0 3.6M539.6 3626.1l-0 3.6M547.7 3617.6l-0 3.6M400.9 3746.2l-0 3.6M579.7 3595.1l-0 3.6M526.9 3643.9l-0 3.6M443.6 3702.5l-0 3.6M566.5 3610l-0 3.6M447.8 3694.7l-0 3.6M548.8 3626.5l-0 3.6M515 3657l-0 3.6M613.5 3568.8l-0 3.6M500.7 3651.6l-0 3.6M559.4 3609.3l-0 3.6M595 3588.1l-0 3.6M404.4 3741.2l-0 3.6M503.5 3647.5l-0 3.6M462.1 3693.6l-0 3.6M435.4 3701.3l-0 3.6M520.7 3649.5l-0 3.6M566.4 3604.9l-0 3.6M603.6 3574.2l-0 3.6M566.6 3611.8l-0 3.6M529.6 3640.4l-0 3.6M570.3 3596.9l-0 3.6M424 3726.6l-0 3.6M538.9 3629l-0 3.6M495.3 3657.2l-0 3.6M494.9 3665.1l-0 3.6M599.4 3577.8l-0 3.6M463.5 3681.5l-0 3.6M488.5 3660.6l-0 3.6M415.4 3731.2l-0 3.6M414.8 3725.2l-0 3.6M605.8 3580.5l-0 3.6M470.6 3674.6l-0 3.6M473.5 3688.4l-0 3.6M434 3706.9l-0 3.6M483.8 3664.7l-0 3.6M558.6 3612.1l-0 3.6M408.9 3723.1l-0 3.6M573.7 3601.7l-0 3.6M583.6 3580.2l-0 3.6M441 3706.2l-0 3.6M482 3668.2l-0 3.6M589.6 3594.1l-0 3.6M600.4 3580l-0 3.6M456.7 3694.7l-0 3.6M528 3626.5l-0 3.6M507.7 3645.3l-0 3.6M613.1 3569l-0 3.6M559.9 3606.5l-0 3.6M552.3 3613.4l-0 3.6M473 3671.8l-0 3.6M567.2 3611.3l-0 3.6M425.6 3717.2l-0 3.6M562.1 3599.4l-0 3.6M509.3 3650.3l-0 3.6M404.6 3735.4l-0 3.6M541.6 3621.8l-0 3.6M558.5 3608.1l-0 3.6M452.8 3695.5l-0 3.6M586.7 3596.4l-0 3.6M465.5 3685.9l-0 3.6M426.5 3718.3l-0 3.6M609.9 3568.6l-0 3.6M521.6 3633.5l-0 3.6M417.5 3732.2l-0 3.6M597.4 3588.1l-0 3.6M512.2 3647.8l-0 3.6M587.6 3596.6l-0 3.6M489.9 3670l-0 3.6M449.5 3690.2l-0 3.6M472 3685.7l-0 3.6M605.7 3575.9l-0 3.6M511.6 3644.5l-0 3.6M569.4 3598.9l-0 3.6M503.7 3651.4l-0 3.6M517.4 3641.3l-0 3.6M610 3574.4l-0 3.6M515.2 3644.5l-0 3.6M557 3610.7l-0 3.6M577.5 3595.3l-0 3.6M428.8 3706.8l-0 3.6M584.8 3589.2l-0 3.6M556.9 3613.3l-0 3.6M444.5 3698.6l-0 3.6M408.4 3736.9l-0 3.6M412.6 3726.4l-0 3.6M585.7 3595l-0 3.6M427.1 3716.2l-0 3.6M489 3666.7l-0 3.6M467.7 3688.4l-0 3.6M592.3 3587.8l-0 3.6M504.7 3652l-0 3.6M457.8 3694.1l-0 3.6M438.9 3698.5l-0 3.6M440.4 3702.5l-0 3.6M465.9 3682.3l-0 3.6M491.4 3662.3l-0 3.6M515.2 3649.2l-0 3.6M596.5 3577.1l-0 3.6M421.5 3720.5l-0 3.6M489.2 3671.8l-0 3.6M487.2 3664l-0 3.6M501.9 3653.4l-0 3.6M555.4 3606.3l-0 3.6M530.2 3644.9l-0 3.6M553.8 3616l-0 3.6M552.4 3621.8l-0 3.6M497.1 3654.4l-0 3.6M414.4 3720.4l-0 3.6M414.3 3726.1l-0 3.6M552.6 3608l-0 3.6M482.7 3672.6l-0 3.6M528.5 3632.4l-0 3.6M498.6 3660.4l-0 3.6M460.4 3680.2l-0 3.6M421.4 3713l-0 3.6M590 3584.1l-0 3.6M499.4 3661.8l-0 3.6M488.5 3675.9l-0 3.6M610 3564.9l-0 3.6M503.9 3651.1l-0 3.6M547.1 3616.6l-0 3.6M456.4 3689.1l-0 3.6M458.7 3698l-0 3.6M597.5 3581.3l-0 3.6M443.8 3698.6l-0 3.6M574.1 3598.2l-0 3.6M441.8 3697.6l-0 3.6M517.6 3643.9l-0 3.6M419.1 3717.9l-0 3.6M468 3681.4l-0 3.6M600 3576.6l-0 3.6M560.9 3598.9l-0 3.6M528.8 3634.8l-0 3.6M431.4 3709.6l-0 3.6M415.7 3720.6l-0 3.6M478.3 3673l-0 3.6M591.3 3588.9l-0 3.6M443.5 3701.1l-0 3.6M503.4 3650.7l-0 3.6M414.1 3727.6l-0 3.6M409.4 3728.9l-0 3.6M488.2 3673l-0 3.6M587.6 3576.2l-0 3.6M553.7 3620.6l-0 3.6M401.2 3734.9l-0 3.6M545.4 3626.4l-0 3.6M538.2 3637.9l-0 3.6M560.9 3605.2l-0 3.6M441.2 3704.6l-0 3.6M470.3 3683.4l-0 3.6M514.9 3647.2l-0 3.6M423 3713l-0 3.6M529.8 3627.3l-0 3.6M451.7 3693.3l-0 3.6M554.7 3613.1l-0 3.6M533 3638.3l-0 3.6M406.7 3723.7l-0 3.6M499.7 3647.4l-0 3.6M447.6 3702.7l-0 3.6M503.4 3659.8l-0 3.6M482.3 3667.1l-0 3.6M415.7 3724.7l-0 3.6M601.1 3581.5l-0 3.6M398 3739.5l-0 3.6M601.8 3580.4l-0 3.6M563.8 3607.7l-0 3.6M434.7 3707.4l-0 3.6M498.1 3659.3l-0 3.6M473.8 3679.3l-0 3.6M441.8 3699.7l-0 3.6M477.8 3680.1l-0 3.6M476.1 3667.8l-0 3.6M552.8 3619.1l-0 3.6M544 3619.1l-0 3.6M528.8 3634.8l-0 3.6M603.6 3573.9l-0 3.6M439.7 3708l-0 3.6M470.2 3685.8l-0 3.6M605.5 3563.8l-0 3.6M526.2 3633.5l-0 3.6M578.9 3603.2l-0 3.6M604.4 3572.1l-0 3.6M515 3650.4l-0 3.6M529.1 3638.2l-0 3.6M424.9 3713.8l-0 3.6M541.5 3622.3l-0 3.6M558.8 3612.9l-0 3.6M501.1 3655.5l-0 3.6M493.8 3653.7l-0 3.6M579.6 3599.1l-0 3.6M481.1 3676.1l-0 3.6M559.3 3619.3l-0 3.6M584.8 3587l-0 3.6M461.4 3690.7l-0 3.6M590.6 3590.3l-0 3.6M564.5 3596.5l-0 3.6M415.6 3731.8l-0 3.6M388.3 3714.3l-0 3.6M386.1 3738.5l-0 3.6M364.2 3762.6l-0 3.6M309.3 3808.7l-0 3.6M414.7 3705.6l-0 3.6" stroke="#ff0808" stroke-width="6" stroke-linecap="round" fill="none"/><g fill="url(#gb)"><circle cx="745.5" cy="3400.1" r="10.6"/><circle cx="1155.5" cy="3402.5" r="10.6"/><circle cx="769.2" cy="3406" r="10.6"/><circle cx="737.6" cy="3413.9" r="10.6"/><circle cx="1126.1" cy="3414.3" r="10.6"/><circle cx="767.3" cy="3419.8" r="10.6"/><circle cx="753.4" cy="3421.8" r="10.6"/><circle cx="737.6" cy="3431.7" r="10.6"/><circle cx="755.4" cy="3433.7" r="10.6"/><circle cx="789" cy="3439.6" r="10.6"/><circle cx="1130.5" cy="3443.3" r="10.6"/><circle cx="1119.5" cy="3444.2" r="10.6"/><circle cx="721.2" cy="3445.2" r="10.6"/><circle cx="715.7" cy="3448.3" r="10.6"/><circle cx="728.2" cy="3449.8" r="10.6"/><circle cx="1117.3" cy="3450.8" r="10.6"/><circle cx="722.1" cy="3451" r="10.6"/><circle cx="711" cy="3451.7" r="10.6"/><circle cx="773.2" cy="3453.4" r="10.6"/><circle cx="724.9" cy="3456.3" r="10.6"/><circle cx="1123.9" cy="3457.3" r="10.6"/><circle cx="703.6" cy="3458.2" r="10.6"/><circle cx="725.7" cy="3461.2" r="10.6"/><circle cx="730.6" cy="3464.3" r="10.6"/><circle cx="718.2" cy="3467.3" r="10.6"/><circle cx="692.9" cy="3467.6" r="10.6"/><circle cx="724.6" cy="3468" r="10.6"/><circle cx="709.6" cy="3468.8" r="10.6"/><circle cx="787" cy="3469.2" r="10.6"/><circle cx="696.6" cy="3470.4" r="10.6"/><circle cx="704.1" cy="3470.9" r="10.6"/><circle cx="717.8" cy="3475.1" r="10.6"/><circle cx="711.4" cy="3477.2" r="10.6"/><circle cx="728.3" cy="3479.1" r="10.6"/><circle cx="732.4" cy="3480" r="10.6"/><circle cx="723.7" cy="3481.5" r="10.6"/><circle cx="696.4" cy="3482.6" r="10.6"/><circle cx="716.6" cy="3483.2" r="10.6"/><circle cx="719.6" cy="3485.7" r="10.6"/><circle cx="715.1" cy="3487.9" r="10.6"/><circle cx="691.3" cy="3488.1" r="10.6"/><circle cx="726.2" cy="3490.3" r="10.6"/><circle cx="722.2" cy="3490.7" r="10.6"/><circle cx="709.7" cy="3490.8" r="10.6"/><circle cx="699.3" cy="3492" r="10.6"/><circle cx="759.4" cy="3493" r="10.6"/><circle cx="705.7" cy="3494.2" r="10.6"/><circle cx="697.1" cy="3495.5" r="10.6"/><circle cx="701.5" cy="3495.9" r="10.6"/><circle cx="726.8" cy="3496" r="10.6"/><circle cx="690.7" cy="3496.8" r="10.6"/><circle cx="684.4" cy="3498.8" r="10.6"/><circle cx="733.3" cy="3499" r="10.6"/><circle cx="701.2" cy="3499.9" r="10.6"/><circle cx="711.8" cy="3501.3" r="10.6"/><circle cx="706.9" cy="3502.8" r="10.6"/><circle cx="703.3" cy="3504.5" r="10.6"/><circle cx="696.7" cy="3505.3" r="10.6"/><circle cx="679.3" cy="3506" r="10.6"/><circle cx="820.6" cy="3506.8" r="10.6"/><circle cx="710.8" cy="3507.4" r="10.6"/><circle cx="718.2" cy="3508.2" r="10.6"/><circle cx="741.6" cy="3508.8" r="10.6"/><circle cx="727.7" cy="3509.6" r="10.6"/><circle cx="688.1" cy="3510.6" r="10.6"/><circle cx="702.2" cy="3511.8" r="10.6"/><circle cx="707.3" cy="3512.6" r="10.6"/><circle cx="759.4" cy="3512.7" r="10.6"/><circle cx="683.5" cy="3513.1" r="10.6"/><circle cx="720" cy="3513.4" r="10.6"/><circle cx="693.1" cy="3514.6" r="10.6"/><circle cx="712.1" cy="3514.9" r="10.6"/><circle cx="673.2" cy="3515" r="10.6"/><circle cx="681.5" cy="3517.1" r="10.6"/><circle cx="724.2" cy="3517.4" r="10.6"/><circle cx="686.8" cy="3517.5" r="10.6"/><circle cx="705.2" cy="3519.2" r="10.6"/><circle cx="700.6" cy="3521.4" r="10.6"/><circle cx="693.5" cy="3522.8" r="10.6"/><circle cx="719.4" cy="3523" r="10.6"/><circle cx="709.8" cy="3523.8" r="10.6"/><circle cx="676.6" cy="3524.5" r="10.6"/><circle cx="699" cy="3526" r="10.6"/><circle cx="682.2" cy="3527" r="10.6"/><circle cx="691.1" cy="3530.1" r="10.6"/><circle cx="710.8" cy="3530.4" r="10.6"/><circle cx="666.4" cy="3530.8" r="10.6"/><circle cx="670.2" cy="3531.8" r="10.6"/><circle cx="674.3" cy="3534.9" r="10.6"/><circle cx="696.3" cy="3535.6" r="10.6"/><circle cx="665" cy="3535.8" r="10.6"/><circle cx="688.2" cy="3536" r="10.6"/><circle cx="682.9" cy="3538.2" r="10.6"/><circle cx="700.3" cy="3538.5" r="10.6"/><circle cx="690.4" cy="3539.3" r="10.6"/><circle cx="677.2" cy="3543.5" r="10.6"/><circle cx="689.2" cy="3548.3" r="10.6"/><circle cx="664.6" cy="3551.7" r="10.6"/><circle cx="660" cy="3553.2" r="10.6"/><circle cx="673.1" cy="3553.4" r="10.6"/><circle cx="679" cy="3553.9" r="10.6"/><circle cx="664.5" cy="3557.1" r="10.6"/><circle cx="672.3" cy="3557.3" r="10.6"/><circle cx="660.4" cy="3559.7" r="10.6"/><circle cx="675.4" cy="3560.1" r="10.6"/><circle cx="686.6" cy="3560.4" r="10.6"/><circle cx="669.5" cy="3560.9" r="10.6"/><circle cx="654.7" cy="3562" r="10.6"/><circle cx="663" cy="3565.1" r="10.6"/><circle cx="681.4" cy="3567.5" r="10.6"/><circle cx="649.4" cy="3570.3" r="10.6"/><circle cx="658.4" cy="3570.7" r="10.6"/><circle cx="675.2" cy="3571.6" r="10.6"/><circle cx="683" cy="3572.2" r="10.6"/><circle cx="654.2" cy="3574.2" r="10.6"/><circle cx="649.6" cy="3574.3" r="10.6"/><circle cx="673.7" cy="3576.4" r="10.6"/><circle cx="669.5" cy="3579.3" r="10.6"/><circle cx="684.9" cy="3580.3" r="10.6"/><circle cx="661.1" cy="3582.5" r="10.6"/><circle cx="672.8" cy="3583.3" r="10.6"/><circle cx="650.8" cy="3586.4" r="10.6"/><circle cx="643.8" cy="3587.5" r="10.6"/><circle cx="666.6" cy="3587.6" r="10.6"/><circle cx="660.7" cy="3589.9" r="10.6"/><circle cx="656.4" cy="3590.2" r="10.6"/><circle cx="651.2" cy="3590.8" r="10.6"/><circle cx="636.2" cy="3591.3" r="10.6"/><circle cx="675" cy="3595.4" r="10.6"/><circle cx="656.6" cy="3597" r="10.6"/><circle cx="633.8" cy="3598.3" r="10.6"/><circle cx="678" cy="3598.5" r="10.6"/><circle cx="649.3" cy="3601" r="10.6"/><circle cx="673.3" cy="3601" r="10.6"/><circle cx="660.8" cy="3602.1" r="10.6"/><circle cx="631" cy="3602.6" r="10.6"/><circle cx="652.3" cy="3603.5" r="10.6"/><circle cx="637.7" cy="3605.2" r="10.6"/><circle cx="664.3" cy="3607.1" r="10.6"/><circle cx="639" cy="3609.8" r="10.6"/><circle cx="669.6" cy="3610.5" r="10.6"/><circle cx="645.6" cy="3612.8" r="10.6"/><circle cx="621" cy="3613.5" r="10.6"/><circle cx="651.5" cy="3613.9" r="10.6"/><circle cx="656.2" cy="3616.2" r="10.6"/><circle cx="634.5" cy="3616.4" r="10.6"/><circle cx="646.2" cy="3617.6" r="10.6"/><circle cx="627.3" cy="3618.2" r="10.6"/><circle cx="663.6" cy="3618.8" r="10.6"/><circle cx="631.3" cy="3619.3" r="10.6"/><circle cx="655.8" cy="3620.9" r="10.6"/><circle cx="661.9" cy="3623" r="10.6"/><circle cx="631.5" cy="3627.3" r="10.6"/><circle cx="659.9" cy="3627.7" r="10.6"/><circle cx="637.6" cy="3627.7" r="10.6"/><circle cx="646.1" cy="3629.4" r="10.6"/><circle cx="657.4" cy="3630.7" r="10.6"/><circle cx="635" cy="3631" r="10.6"/><circle cx="628.9" cy="3635.2" r="10.6"/><circle cx="636.1" cy="3635.6" r="10.6"/><circle cx="655.1" cy="3636" r="10.6"/><circle cx="651.6" cy="3641.9" r="10.6"/><circle cx="633.2" cy="3642.9" r="10.6"/><circle cx="642.3" cy="3643.4" r="10.6"/><circle cx="646.8" cy="3645.8" r="10.6"/><circle cx="656" cy="3646.2" r="10.6"/><circle cx="638" cy="3650.2" r="10.6"/><circle cx="629.7" cy="3651.1" r="10.6"/><circle cx="623.4" cy="3651.8" r="10.6"/><circle cx="657.2" cy="3652" r="10.6"/><circle cx="623" cy="3656.2" r="10.6"/><circle cx="647.5" cy="3657.4" r="10.6"/><circle cx="625.8" cy="3659.5" r="10.6"/><circle cx="643.5" cy="3663" r="10.6"/><circle cx="628.6" cy="3664.9" r="10.6"/><circle cx="636.6" cy="3665.5" r="10.6"/><circle cx="623.5" cy="3667.1" r="10.6"/><circle cx="619.8" cy="3669.3" r="10.6"/><circle cx="627.5" cy="3669.5" r="10.6"/><circle cx="631.7" cy="3672.5" r="10.6"/><circle cx="626.9" cy="3673.7" r="10.6"/><circle cx="619.1" cy="3677.9" r="10.6"/><circle cx="586.6" cy="3736" r="10.6"/></g><g fill="url(#gr)"><circle cx="748.7" cy="3558.2" r="10.6"/><circle cx="773.2" cy="3579.9" r="10.6"/><circle cx="710" cy="3585.8" r="10.6"/><circle cx="773.2" cy="3587.8" r="10.6"/><circle cx="731.7" cy="3591.8" r="10.6"/><circle cx="1151.6" cy="3594.3" r="10.6"/><circle cx="757.4" cy="3597.7" r="10.6"/><circle cx="743.6" cy="3599.7" r="10.6"/><circle cx="759.4" cy="3611.5" r="10.6"/><circle cx="1121.7" cy="3619.8" r="10.6"/><circle cx="713.2" cy="3620.9" r="10.6"/><circle cx="720.1" cy="3621" r="10.6"/><circle cx="707.3" cy="3623" r="10.6"/><circle cx="791" cy="3623.4" r="10.6"/><circle cx="703.4" cy="3627.4" r="10.6"/><circle cx="699.3" cy="3630.3" r="10.6"/><circle cx="773.2" cy="3631.3" r="10.6"/><circle cx="1123.9" cy="3631.7" r="10.6"/><circle cx="714.9" cy="3632.6" r="10.6"/><circle cx="728.2" cy="3633.3" r="10.6"/><circle cx="718.7" cy="3634.3" r="10.6"/><circle cx="702.3" cy="3635.9" r="10.6"/><circle cx="713.2" cy="3636.8" r="10.6"/><circle cx="693.6" cy="3637.3" r="10.6"/><circle cx="697.7" cy="3637.3" r="10.6"/><circle cx="721.9" cy="3638.3" r="10.6"/><circle cx="1128.3" cy="3638.7" r="10.6"/><circle cx="1115.1" cy="3641.8" r="10.6"/><circle cx="705" cy="3641.8" r="10.6"/><circle cx="711.5" cy="3644.9" r="10.6"/><circle cx="787" cy="3647.1" r="10.6"/><circle cx="1117.3" cy="3648.3" r="10.6"/><circle cx="731.1" cy="3648.3" r="10.6"/><circle cx="697.5" cy="3648.9" r="10.6"/><circle cx="690.2" cy="3649" r="10.6"/><circle cx="712.3" cy="3649.8" r="10.6"/><circle cx="724.6" cy="3654.2" r="10.6"/><circle cx="731.6" cy="3655.1" r="10.6"/><circle cx="705.5" cy="3656.7" r="10.6"/><circle cx="715.1" cy="3657.6" r="10.6"/><circle cx="694.8" cy="3658.7" r="10.6"/><circle cx="701.4" cy="3659.1" r="10.6"/><circle cx="685.7" cy="3660.6" r="10.6"/><circle cx="713.5" cy="3661.8" r="10.6"/><circle cx="724.6" cy="3662.6" r="10.6"/><circle cx="688.6" cy="3663.3" r="10.6"/><circle cx="694.1" cy="3664.6" r="10.6"/><circle cx="698.9" cy="3665.8" r="10.6"/><circle cx="684.4" cy="3667.6" r="10.6"/><circle cx="702.3" cy="3668.3" r="10.6"/><circle cx="707.4" cy="3668.9" r="10.6"/><circle cx="693.5" cy="3668.9" r="10.6"/><circle cx="713.2" cy="3670.1" r="10.6"/><circle cx="731.2" cy="3670.5" r="10.6"/><circle cx="690.3" cy="3671.5" r="10.6"/><circle cx="727.1" cy="3672" r="10.6"/><circle cx="695.6" cy="3672.9" r="10.6"/><circle cx="702.3" cy="3673.5" r="10.6"/><circle cx="718.5" cy="3674.3" r="10.6"/><circle cx="726.9" cy="3676.4" r="10.6"/><circle cx="680.7" cy="3676.5" r="10.6"/><circle cx="761.3" cy="3676.8" r="10.6"/><circle cx="701.1" cy="3677.4" r="10.6"/><circle cx="730.7" cy="3677.5" r="10.6"/><circle cx="688.4" cy="3678.4" r="10.6"/><circle cx="710.1" cy="3678.4" r="10.6"/><circle cx="720.7" cy="3679.1" r="10.6"/><circle cx="682.5" cy="3681.3" r="10.6"/><circle cx="699.4" cy="3681.5" r="10.6"/><circle cx="728.8" cy="3681.7" r="10.6"/><circle cx="677.4" cy="3684" r="10.6"/><circle cx="696.3" cy="3684.9" r="10.6"/><circle cx="690.2" cy="3685.2" r="10.6"/><circle cx="745.5" cy="3686.6" r="10.6"/><circle cx="702.6" cy="3687.8" r="10.6"/><circle cx="672.5" cy="3688.2" r="10.6"/><circle cx="692" cy="3689.9" r="10.6"/><circle cx="689.3" cy="3692.8" r="10.6"/><circle cx="711.9" cy="3692.9" r="10.6"/><circle cx="723.5" cy="3693.1" r="10.6"/><circle cx="678" cy="3693.3" r="10.6"/><circle cx="716.6" cy="3694.3" r="10.6"/><circle cx="821.4" cy="3694.5" r="10.6"/><circle cx="693.9" cy="3695.6" r="10.6"/><circle cx="664.7" cy="3696.3" r="10.6"/><circle cx="702.9" cy="3696.6" r="10.6"/><circle cx="677" cy="3698.3" r="10.6"/><circle cx="690.1" cy="3698.3" r="10.6"/><circle cx="711.4" cy="3698.6" r="10.6"/><circle cx="695.9" cy="3698.9" r="10.6"/><circle cx="683.3" cy="3699.1" r="10.6"/><circle cx="672.7" cy="3701.6" r="10.6"/><circle cx="666.3" cy="3701.8" r="10.6"/><circle cx="692.6" cy="3702.6" r="10.6"/><circle cx="699.4" cy="3703.7" r="10.6"/><circle cx="707.7" cy="3704.1" r="10.6"/><circle cx="685.1" cy="3705.4" r="10.6"/><circle cx="714.9" cy="3705.6" r="10.6"/><circle cx="654.9" cy="3706.8" r="10.6"/><circle cx="709" cy="3708.1" r="10.6"/><circle cx="658.9" cy="3708.3" r="10.6"/><circle cx="698.5" cy="3709.8" r="10.6"/><circle cx="677.2" cy="3711.5" r="10.6"/><circle cx="687.2" cy="3712.5" r="10.6"/><circle cx="657.7" cy="3712.7" r="10.6"/><circle cx="666.8" cy="3715.4" r="10.6"/><circle cx="701.2" cy="3715.9" r="10.6"/><circle cx="661.4" cy="3719.5" r="10.6"/><circle cx="680.8" cy="3719.7" r="10.6"/><circle cx="666.4" cy="3719.8" r="10.6"/><circle cx="699.3" cy="3719.8" r="10.6"/><circle cx="693.7" cy="3721" r="10.6"/><circle cx="669.6" cy="3722.7" r="10.6"/><circle cx="658.2" cy="3723.6" r="10.6"/><circle cx="677.2" cy="3724" r="10.6"/><circle cx="687.2" cy="3725.1" r="10.6"/><circle cx="653.8" cy="3726.2" r="10.6"/><circle cx="669.5" cy="3726.6" r="10.6"/><circle cx="696.6" cy="3726.8" r="10.6"/><circle cx="673.5" cy="3729.4" r="10.6"/><circle cx="694.2" cy="3731.5" r="10.6"/><circle cx="657.4" cy="3733.9" r="10.6"/><circle cx="691.5" cy="3734.2" r="10.6"/><circle cx="638" cy="3734.7" r="10.6"/><circle cx="687.9" cy="3737.7" r="10.6"/><circle cx="668.5" cy="3737.8" r="10.6"/><circle cx="647.8" cy="3738.5" r="10.6"/><circle cx="659.3" cy="3739" r="10.6"/><circle cx="641" cy="3739.3" r="10.6"/><circle cx="683.2" cy="3741.6" r="10.6"/><circle cx="675.9" cy="3742.3" r="10.6"/><circle cx="651.6" cy="3742.7" r="10.6"/><circle cx="653.7" cy="3748.5" r="10.6"/><circle cx="660.3" cy="3752.5" r="10.6"/><circle cx="625" cy="3753.8" r="10.6"/><circle cx="637.8" cy="3755.7" r="10.6"/><circle cx="664.8" cy="3756.6" r="10.6"/><circle cx="631.1" cy="3756.7" r="10.6"/><circle cx="660.9" cy="3757.6" r="10.6"/><circle cx="653" cy="3758.7" r="10.6"/><circle cx="650.5" cy="3762.2" r="10.6"/><circle cx="666.9" cy="3765" r="10.6"/><circle cx="631.8" cy="3766.1" r="10.6"/><circle cx="637.6" cy="3770" r="10.6"/><circle cx="659" cy="3770.5" r="10.6"/><circle cx="672.1" cy="3770.6" r="10.6"/><circle cx="630.7" cy="3773.7" r="10.6"/><circle cx="663.1" cy="3774.8" r="10.6"/><circle cx="641" cy="3776" r="10.6"/><circle cx="636.7" cy="3776.3" r="10.6"/><circle cx="657.1" cy="3776.9" r="10.6"/><circle cx="650.2" cy="3778" r="10.6"/><circle cx="637.7" cy="3780.4" r="10.6"/><circle cx="655" cy="3781.4" r="10.6"/><circle cx="648.7" cy="3782.3" r="10.6"/><circle cx="629.3" cy="3782.8" r="10.6"/><circle cx="634.3" cy="3784" r="10.6"/><circle cx="659.5" cy="3784.6" r="10.6"/><circle cx="656.4" cy="3788.6" r="10.6"/><circle cx="645.5" cy="3789.1" r="10.6"/><circle cx="651.1" cy="3789.5" r="10.6"/><circle cx="631.8" cy="3789.9" r="10.6"/><circle cx="659.5" cy="3791.5" r="10.6"/><circle cx="655.6" cy="3793.1" r="10.6"/><circle cx="642.7" cy="3797.2" r="10.6"/><circle cx="663.2" cy="3798.9" r="10.6"/><circle cx="664" cy="3807.2" r="10.6"/><circle cx="644.2" cy="3808.1" r="10.6"/><circle cx="670.4" cy="3809.2" r="10.6"/><circle cx="658.4" cy="3809.3" r="10.6"/><circle cx="666" cy="3810.8" r="10.6"/><circle cx="653.1" cy="3811.1" r="10.6"/><circle cx="623" cy="3827" r="10.6"/><circle cx="622.5" cy="3828.8" r="10.6"/><circle cx="591.6" cy="3883.3" r="10.6"/></g><g fill="url(#gm3)"><circle cx="676.2" cy="3063.6" r="10.9"/><circle cx="1129.2" cy="3257.6" r="10.9"/><circle cx="734.9" cy="3257.8" r="10.9"/><circle cx="787.5" cy="3264.5" r="10.9"/><circle cx="746.8" cy="3269.6" r="10.9"/><circle cx="768.5" cy="3269.6" r="10.9"/><circle cx="1134.9" cy="3269.9" r="10.9"/><circle cx="1158.2" cy="3278.6" r="10.9"/><circle cx="750.8" cy="3279.5" r="10.9"/><circle cx="1121.7" cy="3280.4" r="10.9"/><circle cx="736.9" cy="3281.5" r="10.9"/><circle cx="696.6" cy="3287.4" r="10.9"/><circle cx="752.7" cy="3289.4" r="10.9"/><circle cx="725.1" cy="3290.6" r="10.9"/><circle cx="768.5" cy="3295.3" r="10.9"/><circle cx="702.1" cy="3295.3" r="10.9"/><circle cx="720.8" cy="3311.3" r="10.9"/><circle cx="1119.5" cy="3312.4" r="10.9"/><circle cx="713.5" cy="3312.6" r="10.9"/><circle cx="701.9" cy="3315" r="10.9"/><circle cx="716.3" cy="3316.9" r="10.9"/><circle cx="709.2" cy="3318.4" r="10.9"/><circle cx="1128.3" cy="3319.9" r="10.9"/><circle cx="714.8" cy="3320.2" r="10.9"/><circle cx="705.2" cy="3320.3" r="10.9"/><circle cx="770.5" cy="3321" r="10.9"/><circle cx="701.9" cy="3324.5" r="10.9"/><circle cx="723" cy="3327.1" r="10.9"/><circle cx="1124.8" cy="3330" r="10.9"/><circle cx="784.3" cy="3330.1" r="10.9"/><circle cx="698.6" cy="3334.5" r="10.9"/><circle cx="709.5" cy="3336.2" r="10.9"/><circle cx="704.7" cy="3338.3" r="10.9"/><circle cx="756.7" cy="3342" r="10.9"/><circle cx="719.7" cy="3342.3" r="10.9"/><circle cx="706.3" cy="3344.8" r="10.9"/><circle cx="696" cy="3346.6" r="10.9"/><circle cx="703.3" cy="3346.8" r="10.9"/><circle cx="721.2" cy="3347.9" r="10.9"/><circle cx="701.4" cy="3350.2" r="10.9"/><circle cx="691.3" cy="3351.9" r="10.9"/><circle cx="726.2" cy="3352.9" r="10.9"/><circle cx="708.8" cy="3353.5" r="10.9"/><circle cx="817.9" cy="3353.8" r="10.9"/><circle cx="719.3" cy="3354.3" r="10.9"/><circle cx="708" cy="3357.2" r="10.9"/><circle cx="685.9" cy="3358.3" r="10.9"/><circle cx="690.7" cy="3358.3" r="10.9"/><circle cx="738.9" cy="3358.6" r="10.9"/><circle cx="698" cy="3360.4" r="10.9"/><circle cx="722.7" cy="3361.5" r="10.9"/><circle cx="685.8" cy="3362.2" r="10.9"/><circle cx="717.7" cy="3364" r="10.9"/><circle cx="690.7" cy="3364" r="10.9"/><circle cx="702" cy="3367.9" r="10.9"/><circle cx="756.7" cy="3370.4" r="10.9"/><circle cx="700.4" cy="3371.8" r="10.9"/><circle cx="683.5" cy="3373.7" r="10.9"/><circle cx="695.6" cy="3374.9" r="10.9"/><circle cx="707.6" cy="3375.2" r="10.9"/><circle cx="687.9" cy="3378.1" r="10.9"/><circle cx="738.9" cy="3378.3" r="10.9"/><circle cx="700.7" cy="3379.8" r="10.9"/><circle cx="692.7" cy="3380" r="10.9"/><circle cx="706.8" cy="3382.3" r="10.9"/><circle cx="692.1" cy="3385.2" r="10.9"/><circle cx="688.6" cy="3386.2" r="10.9"/><circle cx="680.1" cy="3389.2" r="10.9"/><circle cx="706.7" cy="3389.4" r="10.9"/><circle cx="689.2" cy="3393.3" r="10.9"/><circle cx="696.5" cy="3397.5" r="10.9"/><circle cx="687.6" cy="3398.3" r="10.9"/><circle cx="704.2" cy="3400.7" r="10.9"/><circle cx="700.7" cy="3402.6" r="10.9"/><circle cx="705" cy="3404.3" r="10.9"/><circle cx="678.7" cy="3406.8" r="10.9"/><circle cx="673.6" cy="3407.6" r="10.9"/><circle cx="686.6" cy="3407.6" r="10.9"/><circle cx="684.6" cy="3412.8" r="10.9"/><circle cx="673.6" cy="3413.4" r="10.9"/><circle cx="671.2" cy="3417" r="10.9"/><circle cx="700.5" cy="3417.5" r="10.9"/><circle cx="680.8" cy="3420.3" r="10.9"/><circle cx="671.7" cy="3421.4" r="10.9"/><circle cx="666.9" cy="3422.5" r="10.9"/><circle cx="689" cy="3424.5" r="10.9"/><circle cx="664.4" cy="3427.1" r="10.9"/><circle cx="695.8" cy="3428" r="10.9"/><circle cx="683.8" cy="3428.2" r="10.9"/><circle cx="678.9" cy="3428.8" r="10.9"/><circle cx="675.4" cy="3428.9" r="10.9"/><circle cx="680.5" cy="3433" r="10.9"/><circle cx="669.9" cy="3433.3" r="10.9"/><circle cx="690.8" cy="3436.2" r="10.9"/><circle cx="676.2" cy="3438.6" r="10.9"/><circle cx="663.7" cy="3440.6" r="10.9"/><circle cx="675.1" cy="3445.3" r="10.9"/><circle cx="667" cy="3445.7" r="10.9"/><circle cx="663.3" cy="3448" r="10.9"/><circle cx="682.5" cy="3449.9" r="10.9"/><circle cx="676.7" cy="3450" r="10.9"/><circle cx="673" cy="3452.6" r="10.9"/><circle cx="679.1" cy="3452.7" r="10.9"/><circle cx="681.1" cy="3458" r="10.9"/><circle cx="657.4" cy="3464.1" r="10.9"/><circle cx="651.7" cy="3465.5" r="10.9"/><circle cx="673.4" cy="3467.5" r="10.9"/><circle cx="662.5" cy="3469.4" r="10.9"/><circle cx="656.9" cy="3470" r="10.9"/><circle cx="674.2" cy="3473.5" r="10.9"/><circle cx="655.4" cy="3474.9" r="10.9"/><circle cx="660.4" cy="3475.3" r="10.9"/><circle cx="647.4" cy="3477.4" r="10.9"/><circle cx="671.3" cy="3480.3" r="10.9"/><circle cx="665.7" cy="3480.8" r="10.9"/><circle cx="648.1" cy="3482.1" r="10.9"/><circle cx="652.1" cy="3483.8" r="10.9"/><circle cx="667" cy="3486.3" r="10.9"/><circle cx="661.7" cy="3488.2" r="10.9"/><circle cx="647" cy="3488.6" r="10.9"/><circle cx="666.1" cy="3492.4" r="10.9"/><circle cx="646.8" cy="3492.6" r="10.9"/><circle cx="663.9" cy="3497.9" r="10.9"/><circle cx="658.1" cy="3499.3" r="10.9"/><circle cx="647.3" cy="3500.7" r="10.9"/><circle cx="661.4" cy="3502.4" r="10.9"/><circle cx="651.4" cy="3504.6" r="10.9"/><circle cx="636.6" cy="3505.4" r="10.9"/><circle cx="646.5" cy="3507.5" r="10.9"/><circle cx="635.6" cy="3509.1" r="10.9"/><circle cx="652.3" cy="3509.1" r="10.9"/><circle cx="643.4" cy="3509.3" r="10.9"/><circle cx="655.1" cy="3515.4" r="10.9"/><circle cx="631" cy="3518.8" r="10.9"/><circle cx="656.5" cy="3518.9" r="10.9"/><circle cx="651.5" cy="3522.9" r="10.9"/><circle cx="623.5" cy="3529.2" r="10.9"/><circle cx="631.5" cy="3529.7" r="10.9"/><circle cx="636.7" cy="3530.3" r="10.9"/><circle cx="628.1" cy="3531.3" r="10.9"/><circle cx="642.3" cy="3536.2" r="10.9"/><circle cx="633.4" cy="3537.4" r="10.9"/><circle cx="619.9" cy="3538.3" r="10.9"/><circle cx="624.5" cy="3538.6" r="10.9"/><circle cx="628" cy="3545.4" r="10.9"/><circle cx="620.1" cy="3546.6" r="10.9"/><circle cx="615" cy="3560" r="10.9"/><circle cx="583.7" cy="3632.5" r="10.9"/></g><g fill="url(#gr)"><circle cx="1226.3" cy="2971.3" r="13"/></g><g fill="url(#gb)"><circle cx="1226.3" cy="3037.7" r="12.5"/></g><g fill="url(#gm2)"><circle cx="1226.3" cy="3102.3" r="13"/></g><text transform="matrix(1.0700 0.0000 0.0000 1.0000 1299.5 2986.4)" font-size="46.4" font-weight="bold" font-style="normal" text-anchor="start" font-family="'Liberation Sans', sans-serif" fill="#000" >CA05</text><text transform="matrix(1.0700 0.0000 0.0000 1.0000 1299.5 3054)" font-size="46.4" font-weight="bold" font-style="normal" text-anchor="start" font-family="'Liberation Sans', sans-serif" fill="#000" >CA50</text><text transform="matrix(1.0700 0.0000 0.0000 1.0000 1299.5 3119.2)" font-size="46.4" font-weight="bold" font-style="normal" text-anchor="start" font-family="'Liberation Sans', sans-serif" fill="#000" >CA90</text><text transform="matrix(1.0240 0.0000 0.0000 1.0000 910 2999.7)" font-size="67.5" font-weight="bold" font-style="normal" text-anchor="start" font-family="'Liberation Sans', sans-serif" fill="#000" >λ=1.42</text><text transform="matrix(0.7400 -0.2000 0.0660 1.0000 180.3 3152.4)" font-size="54" font-weight="bold" font-style="normal" text-anchor="middle" font-family="'Liberation Sans', sans-serif" fill="#000" dy="19.3">70</text><text transform="matrix(0.7400 -0.2000 0.0660 1.0000 184.7 3251.2)" font-size="54" font-weight="bold" font-style="normal" text-anchor="middle" font-family="'Liberation Sans', sans-serif" fill="#000" dy="19.3">60</text><text transform="matrix(0.7400 -0.2000 0.0660 1.0000 192 3350)" font-size="54" font-weight="bold" font-style="normal" text-anchor="middle" font-family="'Liberation Sans', sans-serif" fill="#000" dy="19.3">50</text><text transform="matrix(0.7400 -0.2000 0.0660 1.0000 200 3444.4)" font-size="54" font-weight="bold" font-style="normal" text-anchor="middle" font-family="'Liberation Sans', sans-serif" fill="#000" dy="19.3">40</text><text transform="matrix(0.7400 -0.2000 0.0660 1.0000 206.6 3541)" font-size="54" font-weight="bold" font-style="normal" text-anchor="middle" font-family="'Liberation Sans', sans-serif" fill="#000" dy="19.3">30</text><text transform="matrix(0.7400 -0.2000 0.0660 1.0000 213.2 3631)" font-size="54" font-weight="bold" font-style="normal" text-anchor="middle" font-family="'Liberation Sans', sans-serif" fill="#000" dy="19.3">20</text><text transform="matrix(0.7400 -0.2000 0.0660 1.0000 219.8 3723.2)" font-size="54" font-weight="bold" font-style="normal" text-anchor="middle" font-family="'Liberation Sans', sans-serif" fill="#000" dy="19.3">10</text><text transform="matrix(0.7400 -0.2000 0.0660 1.0000 235 3808.9)" font-size="54" font-weight="bold" font-style="normal" text-anchor="middle" font-family="'Liberation Sans', sans-serif" fill="#000" dy="19.3">0</text><g transform="matrix(0.0834 1.1500 -0.9974 0.0724 114 3158)" font-family="'Liberation Sans','Noto Sans CJK SC',sans-serif" fill="#000"><text x="0" y="0" font-size="49" font-weight="bold" font-style="normal" text-anchor="start">Combustion phase</text><text x="464.8" y="0" font-size="40" font-weight="normal" font-style="normal" text-anchor="middle">（</text><text x="493.9" y="0" font-size="49" font-weight="bold" font-style="normal" text-anchor="middle">°</text><text x="524.4" y="0" font-size="49" font-weight="bold" font-style="normal" text-anchor="middle">C</text><text x="562.6" y="0" font-size="49" font-weight="bold" font-style="normal" text-anchor="middle">A</text><text x="597" y="0" font-size="40" font-weight="normal" font-style="normal" text-anchor="middle">）</text></g><text transform="matrix(0.0000 1.5000 -1.0000 0.0000 79.3 3495)" font-size="52" font-weight="bold" font-style="normal" text-anchor="middle" font-family="'Liberation Sans', sans-serif" fill="#000" dy="18.6">Z</text><text transform="matrix(0.7390 -0.5969 0.8226 0.2142 262.9 3869.4)" font-size="46" font-weight="bold" font-style="normal" text-anchor="middle" font-family="'Liberation Sans', sans-serif" fill="#000" dy="16.5">35</text><text transform="matrix(0.7390 -0.5969 0.8226 0.2142 334.3 3887)" font-size="46" font-weight="bold" font-style="normal" text-anchor="middle" font-family="'Liberation Sans', sans-serif" fill="#000" dy="16.5">30</text><text transform="matrix(0.7390 -0.5969 0.8226 0.2142 402.9 3905)" font-size="46" font-weight="bold" font-style="normal" text-anchor="middle" font-family="'Liberation Sans', sans-serif" fill="#000" dy="16.5">25</text><text transform="matrix(0.7390 -0.5969 0.8226 0.2142 477 3924.3)" font-size="46" font-weight="bold" font-style="normal" text-anchor="middle" font-family="'Liberation Sans', sans-serif" fill="#000" dy="16.5">20</text><text transform="matrix(0.7390 -0.5969 0.8226 0.2142 553.8 3943.5)" font-size="46" font-weight="bold" font-style="normal" text-anchor="middle" font-family="'Liberation Sans', sans-serif" fill="#000" dy="16.5">15</text><text transform="matrix(0.7390 -0.5969 0.8226 0.2142 628 3963.8)" font-size="46" font-weight="bold" font-style="normal" text-anchor="middle" font-family="'Liberation Sans', sans-serif" fill="#000" dy="16.5">10</text><text transform="matrix(0.7390 -0.5969 0.8226 0.2142 713 3979)" font-size="46" font-weight="bold" font-style="normal" text-anchor="middle" font-family="'Liberation Sans', sans-serif" fill="#000" dy="16.5">5</text><text transform="matrix(0.7390 -0.5969 0.8226 0.2142 800.7 3998.6)" font-size="46" font-weight="bold" font-style="normal" text-anchor="middle" font-family="'Liberation Sans', sans-serif" fill="#000" dy="16.5">0</text><text transform="matrix(0.7390 -0.5969 0.8226 0.2142 882 4023)" font-size="46" font-weight="bold" font-style="normal" text-anchor="middle" font-family="'Liberation Sans', sans-serif" fill="#000" dy="16.5">-5</text><text transform="matrix(1.1558 0.3227 -0.4279 0.6456 496 3972)" font-size="44" font-weight="normal" font-style="normal" text-anchor="middle" font-family="'Liberation Sans', sans-serif" fill="#000" dy="15.8" stroke="#000" stroke-width="1.3">Crank angle (°CA)</text><text transform="matrix(1.0000 0.0000 0.0000 1.0000 403 4027.5)" font-size="61" font-weight="bold" font-style="normal" text-anchor="middle" font-family="'Liberation Sans', sans-serif" fill="#000" >X</text><text transform="matrix(1.1806 0.3074 -0.7390 0.5969 949 4022.8)" font-size="40" font-weight="normal" font-style="normal" text-anchor="middle" font-family="'Liberation Sans', sans-serif" fill="#000" dy="14.3" stroke="#000" stroke-width="1.4">60</text><text transform="matrix(1.1806 0.3074 -0.7390 0.5969 1011.5 3968.8)" font-size="40" font-weight="normal" font-style="normal" text-anchor="middle" font-family="'Liberation Sans', sans-serif" fill="#000" dy="14.3" stroke="#000" stroke-width="1.4">55</text><text transform="matrix(1.1806 0.3074 -0.7390 0.5969 1072 3917.4)" font-size="40" font-weight="normal" font-style="normal" text-anchor="middle" font-family="'Liberation Sans', sans-serif" fill="#000" dy="14.3" stroke="#000" stroke-width="1.4">50</text><text transform="matrix(1.1806 0.3074 -0.7390 0.5969 1130 3871.3)" font-size="40" font-weight="normal" font-style="normal" text-anchor="middle" font-family="'Liberation Sans', sans-serif" fill="#000" dy="14.3" stroke="#000" stroke-width="1.4">45</text><text transform="matrix(1.1806 0.3074 -0.7390 0.5969 1182.8 3825.2)" font-size="40" font-weight="normal" font-style="normal" text-anchor="middle" font-family="'Liberation Sans', sans-serif" fill="#000" dy="14.3" stroke="#000" stroke-width="1.4">40</text><text transform="matrix(1.1806 0.3074 -0.7390 0.5969 1232.2 3783.7)" font-size="40" font-weight="normal" font-style="normal" text-anchor="middle" font-family="'Liberation Sans', sans-serif" fill="#000" dy="14.3" stroke="#000" stroke-width="1.4">35</text><text transform="matrix(1.1806 0.3074 -0.7390 0.5969 1281.6 3742.8)" font-size="40" font-weight="normal" font-style="normal" text-anchor="middle" font-family="'Liberation Sans', sans-serif" fill="#000" dy="14.3" stroke="#000" stroke-width="1.4">30</text><text transform="matrix(0.7707 -0.5024 0.7818 0.8295 1194.3 3884.5)" font-size="37" font-weight="normal" font-style="normal" text-anchor="middle" font-family="'Liberation Sans', sans-serif" fill="#000" dy="15" stroke="#000" stroke-width="0.9">PMAX (bar)</text><text transform="matrix(1.0000 0.0000 0.0000 1.0000 1261.8 3937)" font-size="64" font-weight="bold" font-style="normal" text-anchor="middle" font-family="'Liberation Sans', sans-serif" fill="#000" >Y</text></g><text x="714" y="4223.5" font-size="78" font-family="'Liberation Serif','DejaVu Serif',serif">(<tspan font-weight="bold">c</tspan>)</text></g></svg></body></html>
